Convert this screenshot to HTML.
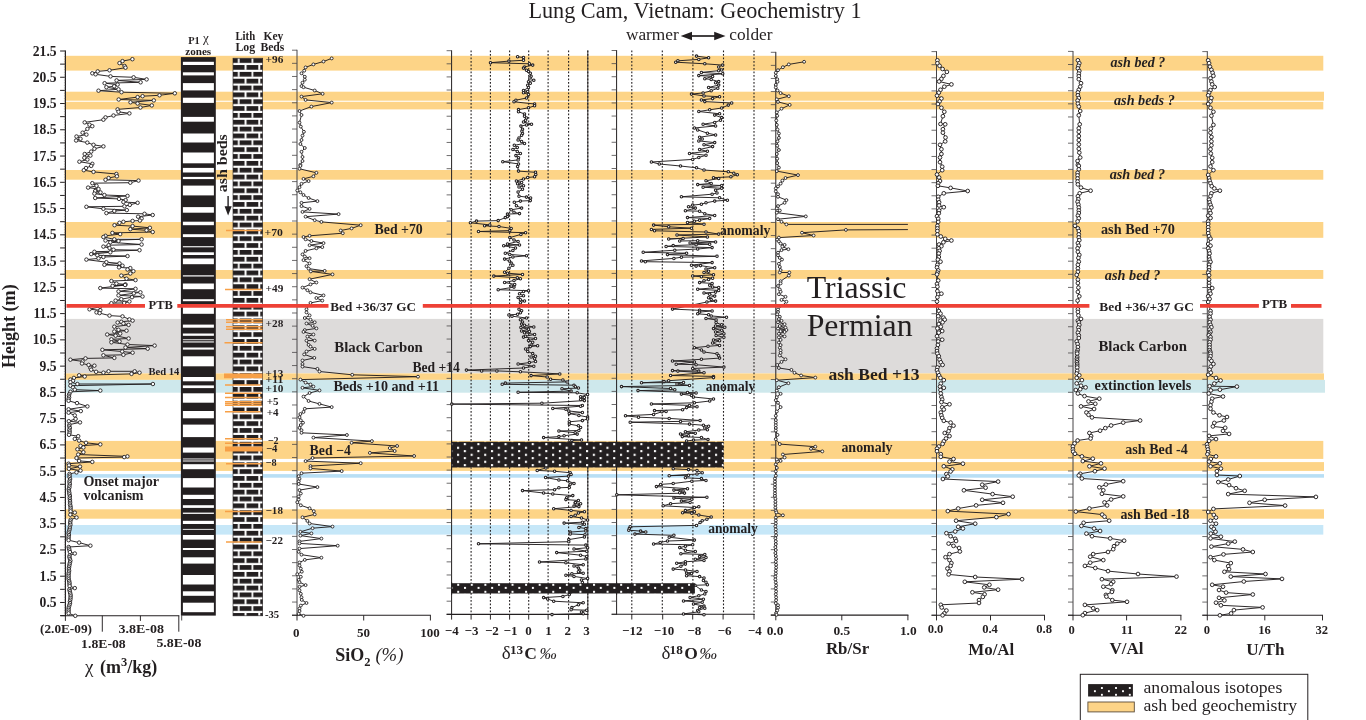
<!DOCTYPE html>
<html><head><meta charset="utf-8"><title>Lung Cam, Vietnam: Geochemistry 1</title>
<style>html,body{margin:0;padding:0;background:#fff;overflow:hidden}body{width:1366px;height:720px;font-family:"Liberation Serif",serif}</style></head>
<body>
<svg width="1366" height="720" viewBox="0 0 1366 720" style="display:block;will-change:transform;font-family:'Liberation Serif',serif">
<defs>
<pattern id="brick" patternUnits="userSpaceOnUse" x="225.85" y="58.2" width="13.75" height="13.70">
<rect x="0" y="0" width="13.75" height="13.70" fill="#231F20"/>
<rect x="0" y="4.7" width="13.75" height="2.15" fill="#fff"/>
<rect x="0" y="11.55" width="13.75" height="2.15" fill="#fff"/>
<rect x="12.0" y="0" width="1.8" height="4.75" fill="#fff"/>
<rect x="4.95" y="6.85" width="2.0" height="4.75" fill="#fff"/>
</pattern>
<pattern id="dots" patternUnits="userSpaceOnUse" x="463.8" y="443.1" width="13.58" height="7.0">
<rect x="0" y="0" width="13.58" height="7" fill="#231F20"/>
<rect x="0" y="0" width="2.1" height="2.1" fill="#fff"/>
<rect x="6.8" y="3.7" width="2.1" height="2.1" fill="#fff"/>
</pattern>
<pattern id="dots2" patternUnits="userSpaceOnUse" x="464.0" y="586.9" width="13.58" height="7.0">
<rect x="0" y="0" width="13.58" height="7" fill="#231F20"/>
<rect x="0" y="0" width="2.0" height="2.0" fill="#fff"/>
<rect x="6.8" y="3.9" width="2.0" height="2.0" fill="#fff"/>
</pattern>
<pattern id="dots3" patternUnits="userSpaceOnUse" x="1100.9" y="687.1" width="14.0" height="6.8">
<rect x="0" y="0" width="14" height="6.8" fill="#231F20"/>
<rect x="0" y="0" width="1.9" height="1.9" fill="#fff"/>
<rect x="7" y="3.3" width="1.9" height="1.9" fill="#fff"/>
</pattern>
</defs>
<rect width="1366" height="720" fill="#fff"/>
<rect x="64.7" y="318.9" width="1258.6" height="54.50" fill="#DDDBDA"/>
<rect x="64.7" y="55.8" width="1258.6" height="14.80" fill="#FDD487"/>
<rect x="64.7" y="91.7" width="1259.3" height="9.00" fill="#FDD487"/>
<rect x="64.7" y="101.8" width="1258.6" height="7.60" fill="#FDD487"/>
<rect x="64.7" y="170.0" width="1258.6" height="9.70" fill="#FDD487"/>
<rect x="64.7" y="222.0" width="1258.6" height="15.80" fill="#FDD487"/>
<rect x="64.7" y="270.0" width="1258.6" height="8.90" fill="#FDD487"/>
<rect x="64.7" y="373.4" width="1259.3" height="6.50" fill="#FDD487"/>
<rect x="64.7" y="379.9" width="1260.3" height="12.80" fill="#CEE8EC"/>
<rect x="64.7" y="440.9" width="1258.6" height="18.00" fill="#FDD487"/>
<rect x="64.7" y="462.1" width="1259.3" height="8.80" fill="#FDD487"/>
<rect x="64.7" y="474.1" width="1259.3" height="3.60" fill="#B8DFF5"/>
<rect x="64.7" y="509.3" width="1259.3" height="9.40" fill="#FDD487"/>
<rect x="64.7" y="525.0" width="1258.6" height="9.60" fill="#C6E7F8"/>
<line x1="471.1" y1="50.5" x2="471.1" y2="615" stroke="#231F20" stroke-width="1.1" stroke-dasharray="1.7 1.8"/>
<line x1="490.4" y1="50.5" x2="490.4" y2="615" stroke="#231F20" stroke-width="1.1" stroke-dasharray="1.7 1.8"/>
<line x1="509.6" y1="50.5" x2="509.6" y2="615" stroke="#231F20" stroke-width="1.1" stroke-dasharray="1.7 1.8"/>
<line x1="528.7" y1="50.5" x2="528.7" y2="615" stroke="#231F20" stroke-width="1.1" stroke-dasharray="1.7 1.8"/>
<line x1="548.1" y1="50.5" x2="548.1" y2="615" stroke="#231F20" stroke-width="1.1" stroke-dasharray="1.7 1.8"/>
<line x1="568.6" y1="50.5" x2="568.6" y2="615" stroke="#231F20" stroke-width="1.1" stroke-dasharray="1.7 1.8"/>
<line x1="587.8" y1="50.5" x2="587.8" y2="614.4" stroke="#3a3838" stroke-width="1.0"/>
<line x1="587.8" y1="50.5" x2="587.8" y2="615" stroke="#231F20" stroke-width="1.1" stroke-dasharray="1.7 1.8"/>
<line x1="631.8" y1="50.5" x2="631.8" y2="615" stroke="#231F20" stroke-width="1.1" stroke-dasharray="1.7 1.8"/>
<line x1="662.3" y1="50.5" x2="662.3" y2="615" stroke="#231F20" stroke-width="1.1" stroke-dasharray="1.7 1.8"/>
<line x1="692.9" y1="50.5" x2="692.9" y2="615" stroke="#231F20" stroke-width="1.1" stroke-dasharray="1.7 1.8"/>
<line x1="723.5" y1="50.5" x2="723.5" y2="615" stroke="#231F20" stroke-width="1.1" stroke-dasharray="1.7 1.8"/>
<line x1="754.0" y1="50.5" x2="754.0" y2="615" stroke="#231F20" stroke-width="1.1" stroke-dasharray="1.7 1.8"/>
<rect x="180.9" y="57.1" width="34.9" height="558.5" fill="#231F20"/>
<rect x="182.9" y="61.8" width="31.0" height="3.20" fill="#fff"/>
<rect x="182.9" y="72.3" width="31.0" height="3.10" fill="#fff"/>
<rect x="182.9" y="83.1" width="31.0" height="7.30" fill="#fff"/>
<rect x="182.9" y="97.7" width="31.0" height="5.20" fill="#fff"/>
<rect x="182.9" y="116.9" width="31.0" height="4.80" fill="#fff"/>
<rect x="182.9" y="133.5" width="31.0" height="9.00" fill="#fff"/>
<rect x="182.9" y="152.5" width="31.0" height="10.80" fill="#fff"/>
<rect x="182.9" y="167.9" width="31.0" height="4.60" fill="#fff"/>
<rect x="182.9" y="176.9" width="31.0" height="2.20" fill="#fff"/>
<rect x="182.9" y="185.6" width="31.0" height="9.80" fill="#fff"/>
<rect x="182.9" y="207.1" width="31.0" height="5.60" fill="#fff"/>
<rect x="182.9" y="221.7" width="31.0" height="3.50" fill="#fff"/>
<rect x="182.9" y="234.2" width="31.0" height="2.90" fill="#fff"/>
<rect x="182.9" y="246.2" width="31.0" height="1.10" fill="#fff"/>
<rect x="182.9" y="252.3" width="31.0" height="2.70" fill="#fff"/>
<rect x="182.9" y="258.5" width="31.0" height="5.70" fill="#fff"/>
<rect x="182.9" y="275.3" width="31.0" height="1.20" fill="#fff"/>
<rect x="182.9" y="283.5" width="31.0" height="5.70" fill="#fff"/>
<rect x="182.9" y="299.2" width="31.0" height="2.00" fill="#fff"/>
<rect x="182.9" y="306.5" width="31.0" height="7.30" fill="#fff"/>
<rect x="182.9" y="324.6" width="31.0" height="3.10" fill="#fff"/>
<rect x="182.9" y="333.5" width="31.0" height="2.30" fill="#fff"/>
<rect x="182.9" y="339.3" width="31.0" height="0.90" fill="#fff"/>
<rect x="182.9" y="341.4" width="31.0" height="1.10" fill="#fff"/>
<rect x="182.9" y="347.5" width="31.0" height="2.10" fill="#fff"/>
<rect x="182.9" y="356.3" width="31.0" height="10.00" fill="#fff"/>
<rect x="182.9" y="377" width="31.0" height="4.30" fill="#fff"/>
<rect x="182.9" y="385.4" width="31.0" height="2.70" fill="#fff"/>
<rect x="182.9" y="393.3" width="31.0" height="9.40" fill="#fff"/>
<rect x="182.9" y="411" width="31.0" height="7.30" fill="#fff"/>
<rect x="182.9" y="424.6" width="31.0" height="12.50" fill="#fff"/>
<rect x="182.9" y="447.5" width="31.0" height="5.10" fill="#fff"/>
<rect x="182.9" y="458.5" width="31.0" height="0.90" fill="#fff"/>
<rect x="182.9" y="460.5" width="31.0" height="1.00" fill="#fff"/>
<rect x="182.9" y="464.2" width="31.0" height="5.00" fill="#fff"/>
<rect x="182.9" y="478.1" width="31.0" height="9.40" fill="#fff"/>
<rect x="182.9" y="494.8" width="31.0" height="4.20" fill="#fff"/>
<rect x="182.9" y="505.2" width="31.0" height="2.70" fill="#fff"/>
<rect x="182.9" y="512.6" width="31.0" height="1.30" fill="#fff"/>
<rect x="182.9" y="520.8" width="31.0" height="3.20" fill="#fff"/>
<rect x="182.9" y="528.9" width="31.0" height="0.90" fill="#fff"/>
<rect x="182.9" y="535" width="31.0" height="4.60" fill="#fff"/>
<rect x="182.9" y="548" width="31.0" height="2.00" fill="#fff"/>
<rect x="182.9" y="557.3" width="31.0" height="6.30" fill="#fff"/>
<rect x="182.9" y="575" width="31.0" height="9.50" fill="#fff"/>
<rect x="182.9" y="591.3" width="31.0" height="4.50" fill="#fff"/>
<rect x="182.9" y="602.7" width="31.0" height="9.50" fill="#fff"/>
<rect x="233.0" y="58.2" width="29.7" height="557.6" fill="url(#brick)" stroke="#231F20" stroke-width="0.6"/>
<line x1="226" y1="230.4" x2="261.5" y2="230.4" stroke="#F7A047" stroke-width="1.5"/>
<line x1="225" y1="289.6" x2="261.5" y2="289.6" stroke="#F7A047" stroke-width="1.5"/>
<line x1="226" y1="319.7" x2="262.5" y2="319.7" stroke="#F7A047" stroke-width="1.5"/>
<line x1="226" y1="322.25" x2="262.5" y2="322.25" stroke="#F7A047" stroke-width="1.5"/>
<line x1="226" y1="326.7" x2="262.5" y2="326.7" stroke="#F7A047" stroke-width="1.5"/>
<line x1="226" y1="329.2" x2="262.5" y2="329.2" stroke="#F7A047" stroke-width="1.5"/>
<line x1="224.5" y1="342.7" x2="262.5" y2="342.7" stroke="#F7A047" stroke-width="1.5"/>
<line x1="224" y1="375.9" x2="262.5" y2="375.9" stroke="#F7A047" stroke-width="4.8"/>
<line x1="225" y1="385" x2="260.5" y2="385" stroke="#F7A047" stroke-width="1.5"/>
<line x1="225" y1="393.3" x2="261.5" y2="393.3" stroke="#F7A047" stroke-width="1.5"/>
<line x1="225" y1="397.5" x2="261.5" y2="397.5" stroke="#F7A047" stroke-width="1.5"/>
<line x1="225" y1="401.7" x2="261.5" y2="401.7" stroke="#F7A047" stroke-width="1.5"/>
<line x1="225" y1="403.5" x2="261.5" y2="403.5" stroke="#F7A047" stroke-width="1.5"/>
<line x1="225" y1="405.2" x2="261.5" y2="405.2" stroke="#F7A047" stroke-width="1.5"/>
<line x1="225" y1="411.7" x2="260.5" y2="411.7" stroke="#F7A047" stroke-width="1.5"/>
<line x1="225" y1="438.8" x2="261.5" y2="438.8" stroke="#F7A047" stroke-width="1.5"/>
<line x1="225" y1="443.3" x2="261.5" y2="443.3" stroke="#F7A047" stroke-width="1.5"/>
<line x1="225" y1="449.1" x2="262.5" y2="449.1" stroke="#F7A047" stroke-width="5.0"/>
<line x1="226" y1="463.8" x2="261.5" y2="463.8" stroke="#F7A047" stroke-width="1.5"/>
<line x1="225" y1="511.5" x2="261.5" y2="511.5" stroke="#F7A047" stroke-width="1.5"/>
<line x1="226" y1="542.1" x2="261.5" y2="542.1" stroke="#F7A047" stroke-width="1.5"/>
<line x1="65.4" y1="50.6" x2="65.4" y2="616.1" stroke="#231F20" stroke-width="1.2"/>
<line x1="60.1" y1="51.00" x2="65.4" y2="51.00" stroke="#231F20" stroke-width="1.0"/>
<line x1="60.1" y1="64.13" x2="65.4" y2="64.13" stroke="#231F20" stroke-width="1.0"/>
<line x1="60.1" y1="77.26" x2="65.4" y2="77.26" stroke="#231F20" stroke-width="1.0"/>
<line x1="60.1" y1="90.39" x2="65.4" y2="90.39" stroke="#231F20" stroke-width="1.0"/>
<line x1="60.1" y1="103.52" x2="65.4" y2="103.52" stroke="#231F20" stroke-width="1.0"/>
<line x1="60.1" y1="116.65" x2="65.4" y2="116.65" stroke="#231F20" stroke-width="1.0"/>
<line x1="60.1" y1="129.78" x2="65.4" y2="129.78" stroke="#231F20" stroke-width="1.0"/>
<line x1="60.1" y1="142.91" x2="65.4" y2="142.91" stroke="#231F20" stroke-width="1.0"/>
<line x1="60.1" y1="156.04" x2="65.4" y2="156.04" stroke="#231F20" stroke-width="1.0"/>
<line x1="60.1" y1="169.17" x2="65.4" y2="169.17" stroke="#231F20" stroke-width="1.0"/>
<line x1="60.1" y1="182.30" x2="65.4" y2="182.30" stroke="#231F20" stroke-width="1.0"/>
<line x1="60.1" y1="195.43" x2="65.4" y2="195.43" stroke="#231F20" stroke-width="1.0"/>
<line x1="60.1" y1="208.56" x2="65.4" y2="208.56" stroke="#231F20" stroke-width="1.0"/>
<line x1="60.1" y1="221.69" x2="65.4" y2="221.69" stroke="#231F20" stroke-width="1.0"/>
<line x1="60.1" y1="234.82" x2="65.4" y2="234.82" stroke="#231F20" stroke-width="1.0"/>
<line x1="60.1" y1="247.95" x2="65.4" y2="247.95" stroke="#231F20" stroke-width="1.0"/>
<line x1="60.1" y1="261.08" x2="65.4" y2="261.08" stroke="#231F20" stroke-width="1.0"/>
<line x1="60.1" y1="274.21" x2="65.4" y2="274.21" stroke="#231F20" stroke-width="1.0"/>
<line x1="60.1" y1="287.34" x2="65.4" y2="287.34" stroke="#231F20" stroke-width="1.0"/>
<line x1="60.1" y1="300.47" x2="65.4" y2="300.47" stroke="#231F20" stroke-width="1.0"/>
<line x1="60.1" y1="313.60" x2="65.4" y2="313.60" stroke="#231F20" stroke-width="1.0"/>
<line x1="60.1" y1="326.73" x2="65.4" y2="326.73" stroke="#231F20" stroke-width="1.0"/>
<line x1="60.1" y1="339.87" x2="65.4" y2="339.87" stroke="#231F20" stroke-width="1.0"/>
<line x1="60.1" y1="353.00" x2="65.4" y2="353.00" stroke="#231F20" stroke-width="1.0"/>
<line x1="60.1" y1="366.13" x2="65.4" y2="366.13" stroke="#231F20" stroke-width="1.0"/>
<line x1="60.1" y1="379.26" x2="65.4" y2="379.26" stroke="#231F20" stroke-width="1.0"/>
<line x1="60.1" y1="392.39" x2="65.4" y2="392.39" stroke="#231F20" stroke-width="1.0"/>
<line x1="60.1" y1="405.52" x2="65.4" y2="405.52" stroke="#231F20" stroke-width="1.0"/>
<line x1="60.1" y1="418.65" x2="65.4" y2="418.65" stroke="#231F20" stroke-width="1.0"/>
<line x1="60.1" y1="431.78" x2="65.4" y2="431.78" stroke="#231F20" stroke-width="1.0"/>
<line x1="60.1" y1="444.91" x2="65.4" y2="444.91" stroke="#231F20" stroke-width="1.0"/>
<line x1="60.1" y1="458.04" x2="65.4" y2="458.04" stroke="#231F20" stroke-width="1.0"/>
<line x1="60.1" y1="471.17" x2="65.4" y2="471.17" stroke="#231F20" stroke-width="1.0"/>
<line x1="60.1" y1="484.30" x2="65.4" y2="484.30" stroke="#231F20" stroke-width="1.0"/>
<line x1="60.1" y1="497.43" x2="65.4" y2="497.43" stroke="#231F20" stroke-width="1.0"/>
<line x1="60.1" y1="510.56" x2="65.4" y2="510.56" stroke="#231F20" stroke-width="1.0"/>
<line x1="60.1" y1="523.69" x2="65.4" y2="523.69" stroke="#231F20" stroke-width="1.0"/>
<line x1="60.1" y1="536.82" x2="65.4" y2="536.82" stroke="#231F20" stroke-width="1.0"/>
<line x1="60.1" y1="549.95" x2="65.4" y2="549.95" stroke="#231F20" stroke-width="1.0"/>
<line x1="60.1" y1="563.08" x2="65.4" y2="563.08" stroke="#231F20" stroke-width="1.0"/>
<line x1="60.1" y1="576.21" x2="65.4" y2="576.21" stroke="#231F20" stroke-width="1.0"/>
<line x1="60.1" y1="589.34" x2="65.4" y2="589.34" stroke="#231F20" stroke-width="1.0"/>
<line x1="60.1" y1="602.47" x2="65.4" y2="602.47" stroke="#231F20" stroke-width="1.0"/>
<line x1="60.1" y1="615.60" x2="65.4" y2="615.60" stroke="#231F20" stroke-width="1.0"/>
<line x1="63.9" y1="615.62" x2="65.4" y2="615.62" stroke="#777" stroke-width="0.45"/>
<line x1="63.9" y1="613.00" x2="65.4" y2="613.00" stroke="#777" stroke-width="0.45"/>
<line x1="63.9" y1="610.38" x2="65.4" y2="610.38" stroke="#777" stroke-width="0.45"/>
<line x1="63.9" y1="607.75" x2="65.4" y2="607.75" stroke="#777" stroke-width="0.45"/>
<line x1="63.9" y1="605.12" x2="65.4" y2="605.12" stroke="#777" stroke-width="0.45"/>
<line x1="63.9" y1="602.50" x2="65.4" y2="602.50" stroke="#777" stroke-width="0.45"/>
<line x1="63.9" y1="599.88" x2="65.4" y2="599.88" stroke="#777" stroke-width="0.45"/>
<line x1="63.9" y1="597.25" x2="65.4" y2="597.25" stroke="#777" stroke-width="0.45"/>
<line x1="63.9" y1="594.62" x2="65.4" y2="594.62" stroke="#777" stroke-width="0.45"/>
<line x1="63.9" y1="592.00" x2="65.4" y2="592.00" stroke="#777" stroke-width="0.45"/>
<line x1="63.9" y1="589.38" x2="65.4" y2="589.38" stroke="#777" stroke-width="0.45"/>
<line x1="63.9" y1="586.75" x2="65.4" y2="586.75" stroke="#777" stroke-width="0.45"/>
<line x1="63.9" y1="584.12" x2="65.4" y2="584.12" stroke="#777" stroke-width="0.45"/>
<line x1="63.9" y1="581.50" x2="65.4" y2="581.50" stroke="#777" stroke-width="0.45"/>
<line x1="63.9" y1="578.88" x2="65.4" y2="578.88" stroke="#777" stroke-width="0.45"/>
<line x1="63.9" y1="576.25" x2="65.4" y2="576.25" stroke="#777" stroke-width="0.45"/>
<line x1="63.9" y1="573.62" x2="65.4" y2="573.62" stroke="#777" stroke-width="0.45"/>
<line x1="63.9" y1="571.00" x2="65.4" y2="571.00" stroke="#777" stroke-width="0.45"/>
<line x1="63.9" y1="568.38" x2="65.4" y2="568.38" stroke="#777" stroke-width="0.45"/>
<line x1="63.9" y1="565.75" x2="65.4" y2="565.75" stroke="#777" stroke-width="0.45"/>
<line x1="63.9" y1="563.12" x2="65.4" y2="563.12" stroke="#777" stroke-width="0.45"/>
<line x1="63.9" y1="560.50" x2="65.4" y2="560.50" stroke="#777" stroke-width="0.45"/>
<line x1="63.9" y1="557.88" x2="65.4" y2="557.88" stroke="#777" stroke-width="0.45"/>
<line x1="63.9" y1="555.25" x2="65.4" y2="555.25" stroke="#777" stroke-width="0.45"/>
<line x1="63.9" y1="552.62" x2="65.4" y2="552.62" stroke="#777" stroke-width="0.45"/>
<line x1="63.9" y1="550.00" x2="65.4" y2="550.00" stroke="#777" stroke-width="0.45"/>
<line x1="63.9" y1="547.38" x2="65.4" y2="547.38" stroke="#777" stroke-width="0.45"/>
<line x1="63.9" y1="544.75" x2="65.4" y2="544.75" stroke="#777" stroke-width="0.45"/>
<line x1="63.9" y1="542.12" x2="65.4" y2="542.12" stroke="#777" stroke-width="0.45"/>
<line x1="63.9" y1="539.50" x2="65.4" y2="539.50" stroke="#777" stroke-width="0.45"/>
<line x1="63.9" y1="536.88" x2="65.4" y2="536.88" stroke="#777" stroke-width="0.45"/>
<line x1="63.9" y1="534.25" x2="65.4" y2="534.25" stroke="#777" stroke-width="0.45"/>
<line x1="63.9" y1="531.62" x2="65.4" y2="531.62" stroke="#777" stroke-width="0.45"/>
<line x1="63.9" y1="529.00" x2="65.4" y2="529.00" stroke="#777" stroke-width="0.45"/>
<line x1="63.9" y1="526.38" x2="65.4" y2="526.38" stroke="#777" stroke-width="0.45"/>
<line x1="63.9" y1="523.75" x2="65.4" y2="523.75" stroke="#777" stroke-width="0.45"/>
<line x1="63.9" y1="521.12" x2="65.4" y2="521.12" stroke="#777" stroke-width="0.45"/>
<line x1="63.9" y1="518.50" x2="65.4" y2="518.50" stroke="#777" stroke-width="0.45"/>
<line x1="63.9" y1="515.88" x2="65.4" y2="515.88" stroke="#777" stroke-width="0.45"/>
<line x1="63.9" y1="513.25" x2="65.4" y2="513.25" stroke="#777" stroke-width="0.45"/>
<line x1="63.9" y1="510.62" x2="65.4" y2="510.62" stroke="#777" stroke-width="0.45"/>
<line x1="63.9" y1="508.00" x2="65.4" y2="508.00" stroke="#777" stroke-width="0.45"/>
<line x1="63.9" y1="505.38" x2="65.4" y2="505.38" stroke="#777" stroke-width="0.45"/>
<line x1="63.9" y1="502.75" x2="65.4" y2="502.75" stroke="#777" stroke-width="0.45"/>
<line x1="63.9" y1="500.13" x2="65.4" y2="500.13" stroke="#777" stroke-width="0.45"/>
<line x1="63.9" y1="497.50" x2="65.4" y2="497.50" stroke="#777" stroke-width="0.45"/>
<line x1="63.9" y1="494.87" x2="65.4" y2="494.87" stroke="#777" stroke-width="0.45"/>
<line x1="63.9" y1="492.25" x2="65.4" y2="492.25" stroke="#777" stroke-width="0.45"/>
<line x1="63.9" y1="489.62" x2="65.4" y2="489.62" stroke="#777" stroke-width="0.45"/>
<line x1="63.9" y1="487.00" x2="65.4" y2="487.00" stroke="#777" stroke-width="0.45"/>
<line x1="63.9" y1="484.38" x2="65.4" y2="484.38" stroke="#777" stroke-width="0.45"/>
<line x1="63.9" y1="481.75" x2="65.4" y2="481.75" stroke="#777" stroke-width="0.45"/>
<line x1="63.9" y1="479.12" x2="65.4" y2="479.12" stroke="#777" stroke-width="0.45"/>
<line x1="63.9" y1="476.50" x2="65.4" y2="476.50" stroke="#777" stroke-width="0.45"/>
<line x1="63.9" y1="473.88" x2="65.4" y2="473.88" stroke="#777" stroke-width="0.45"/>
<line x1="63.9" y1="471.25" x2="65.4" y2="471.25" stroke="#777" stroke-width="0.45"/>
<line x1="63.9" y1="468.62" x2="65.4" y2="468.62" stroke="#777" stroke-width="0.45"/>
<line x1="63.9" y1="466.00" x2="65.4" y2="466.00" stroke="#777" stroke-width="0.45"/>
<line x1="63.9" y1="463.38" x2="65.4" y2="463.38" stroke="#777" stroke-width="0.45"/>
<line x1="63.9" y1="460.75" x2="65.4" y2="460.75" stroke="#777" stroke-width="0.45"/>
<line x1="63.9" y1="458.12" x2="65.4" y2="458.12" stroke="#777" stroke-width="0.45"/>
<line x1="63.9" y1="455.50" x2="65.4" y2="455.50" stroke="#777" stroke-width="0.45"/>
<line x1="63.9" y1="452.88" x2="65.4" y2="452.88" stroke="#777" stroke-width="0.45"/>
<line x1="63.9" y1="450.25" x2="65.4" y2="450.25" stroke="#777" stroke-width="0.45"/>
<line x1="63.9" y1="447.62" x2="65.4" y2="447.62" stroke="#777" stroke-width="0.45"/>
<line x1="63.9" y1="445.00" x2="65.4" y2="445.00" stroke="#777" stroke-width="0.45"/>
<line x1="63.9" y1="442.38" x2="65.4" y2="442.38" stroke="#777" stroke-width="0.45"/>
<line x1="63.9" y1="439.75" x2="65.4" y2="439.75" stroke="#777" stroke-width="0.45"/>
<line x1="63.9" y1="437.12" x2="65.4" y2="437.12" stroke="#777" stroke-width="0.45"/>
<line x1="63.9" y1="434.50" x2="65.4" y2="434.50" stroke="#777" stroke-width="0.45"/>
<line x1="63.9" y1="431.88" x2="65.4" y2="431.88" stroke="#777" stroke-width="0.45"/>
<line x1="63.9" y1="429.25" x2="65.4" y2="429.25" stroke="#777" stroke-width="0.45"/>
<line x1="63.9" y1="426.62" x2="65.4" y2="426.62" stroke="#777" stroke-width="0.45"/>
<line x1="63.9" y1="424.00" x2="65.4" y2="424.00" stroke="#777" stroke-width="0.45"/>
<line x1="63.9" y1="421.38" x2="65.4" y2="421.38" stroke="#777" stroke-width="0.45"/>
<line x1="63.9" y1="418.75" x2="65.4" y2="418.75" stroke="#777" stroke-width="0.45"/>
<line x1="63.9" y1="416.12" x2="65.4" y2="416.12" stroke="#777" stroke-width="0.45"/>
<line x1="63.9" y1="413.50" x2="65.4" y2="413.50" stroke="#777" stroke-width="0.45"/>
<line x1="63.9" y1="410.88" x2="65.4" y2="410.88" stroke="#777" stroke-width="0.45"/>
<line x1="63.9" y1="408.25" x2="65.4" y2="408.25" stroke="#777" stroke-width="0.45"/>
<line x1="63.9" y1="405.62" x2="65.4" y2="405.62" stroke="#777" stroke-width="0.45"/>
<line x1="63.9" y1="403.00" x2="65.4" y2="403.00" stroke="#777" stroke-width="0.45"/>
<line x1="63.9" y1="400.38" x2="65.4" y2="400.38" stroke="#777" stroke-width="0.45"/>
<line x1="63.9" y1="397.75" x2="65.4" y2="397.75" stroke="#777" stroke-width="0.45"/>
<line x1="63.9" y1="395.12" x2="65.4" y2="395.12" stroke="#777" stroke-width="0.45"/>
<line x1="63.9" y1="392.50" x2="65.4" y2="392.50" stroke="#777" stroke-width="0.45"/>
<line x1="63.9" y1="389.88" x2="65.4" y2="389.88" stroke="#777" stroke-width="0.45"/>
<line x1="63.9" y1="387.25" x2="65.4" y2="387.25" stroke="#777" stroke-width="0.45"/>
<line x1="63.9" y1="384.62" x2="65.4" y2="384.62" stroke="#777" stroke-width="0.45"/>
<line x1="63.9" y1="382.00" x2="65.4" y2="382.00" stroke="#777" stroke-width="0.45"/>
<line x1="63.9" y1="379.38" x2="65.4" y2="379.38" stroke="#777" stroke-width="0.45"/>
<line x1="63.9" y1="376.75" x2="65.4" y2="376.75" stroke="#777" stroke-width="0.45"/>
<line x1="63.9" y1="374.12" x2="65.4" y2="374.12" stroke="#777" stroke-width="0.45"/>
<line x1="63.9" y1="371.50" x2="65.4" y2="371.50" stroke="#777" stroke-width="0.45"/>
<line x1="63.9" y1="368.88" x2="65.4" y2="368.88" stroke="#777" stroke-width="0.45"/>
<line x1="63.9" y1="366.25" x2="65.4" y2="366.25" stroke="#777" stroke-width="0.45"/>
<line x1="63.9" y1="363.62" x2="65.4" y2="363.62" stroke="#777" stroke-width="0.45"/>
<line x1="63.9" y1="361.00" x2="65.4" y2="361.00" stroke="#777" stroke-width="0.45"/>
<line x1="63.9" y1="358.38" x2="65.4" y2="358.38" stroke="#777" stroke-width="0.45"/>
<line x1="63.9" y1="355.75" x2="65.4" y2="355.75" stroke="#777" stroke-width="0.45"/>
<line x1="63.9" y1="353.12" x2="65.4" y2="353.12" stroke="#777" stroke-width="0.45"/>
<line x1="63.9" y1="350.50" x2="65.4" y2="350.50" stroke="#777" stroke-width="0.45"/>
<line x1="63.9" y1="347.88" x2="65.4" y2="347.88" stroke="#777" stroke-width="0.45"/>
<line x1="63.9" y1="345.25" x2="65.4" y2="345.25" stroke="#777" stroke-width="0.45"/>
<line x1="63.9" y1="342.62" x2="65.4" y2="342.62" stroke="#777" stroke-width="0.45"/>
<line x1="63.9" y1="340.00" x2="65.4" y2="340.00" stroke="#777" stroke-width="0.45"/>
<line x1="63.9" y1="337.38" x2="65.4" y2="337.38" stroke="#777" stroke-width="0.45"/>
<line x1="63.9" y1="334.75" x2="65.4" y2="334.75" stroke="#777" stroke-width="0.45"/>
<line x1="63.9" y1="332.12" x2="65.4" y2="332.12" stroke="#777" stroke-width="0.45"/>
<line x1="63.9" y1="329.50" x2="65.4" y2="329.50" stroke="#777" stroke-width="0.45"/>
<line x1="63.9" y1="326.88" x2="65.4" y2="326.88" stroke="#777" stroke-width="0.45"/>
<line x1="63.9" y1="324.25" x2="65.4" y2="324.25" stroke="#777" stroke-width="0.45"/>
<line x1="63.9" y1="321.62" x2="65.4" y2="321.62" stroke="#777" stroke-width="0.45"/>
<line x1="63.9" y1="319.00" x2="65.4" y2="319.00" stroke="#777" stroke-width="0.45"/>
<line x1="63.9" y1="316.38" x2="65.4" y2="316.38" stroke="#777" stroke-width="0.45"/>
<line x1="63.9" y1="313.75" x2="65.4" y2="313.75" stroke="#777" stroke-width="0.45"/>
<line x1="63.9" y1="311.12" x2="65.4" y2="311.12" stroke="#777" stroke-width="0.45"/>
<line x1="63.9" y1="308.50" x2="65.4" y2="308.50" stroke="#777" stroke-width="0.45"/>
<line x1="63.9" y1="305.88" x2="65.4" y2="305.88" stroke="#777" stroke-width="0.45"/>
<line x1="63.9" y1="303.25" x2="65.4" y2="303.25" stroke="#777" stroke-width="0.45"/>
<line x1="63.9" y1="300.62" x2="65.4" y2="300.62" stroke="#777" stroke-width="0.45"/>
<line x1="63.9" y1="298.00" x2="65.4" y2="298.00" stroke="#777" stroke-width="0.45"/>
<line x1="63.9" y1="295.38" x2="65.4" y2="295.38" stroke="#777" stroke-width="0.45"/>
<line x1="63.9" y1="292.75" x2="65.4" y2="292.75" stroke="#777" stroke-width="0.45"/>
<line x1="63.9" y1="290.12" x2="65.4" y2="290.12" stroke="#777" stroke-width="0.45"/>
<line x1="63.9" y1="287.50" x2="65.4" y2="287.50" stroke="#777" stroke-width="0.45"/>
<line x1="63.9" y1="284.88" x2="65.4" y2="284.88" stroke="#777" stroke-width="0.45"/>
<line x1="63.9" y1="282.25" x2="65.4" y2="282.25" stroke="#777" stroke-width="0.45"/>
<line x1="63.9" y1="279.62" x2="65.4" y2="279.62" stroke="#777" stroke-width="0.45"/>
<line x1="63.9" y1="277.00" x2="65.4" y2="277.00" stroke="#777" stroke-width="0.45"/>
<line x1="63.9" y1="274.38" x2="65.4" y2="274.38" stroke="#777" stroke-width="0.45"/>
<line x1="63.9" y1="271.75" x2="65.4" y2="271.75" stroke="#777" stroke-width="0.45"/>
<line x1="63.9" y1="269.12" x2="65.4" y2="269.12" stroke="#777" stroke-width="0.45"/>
<line x1="63.9" y1="266.50" x2="65.4" y2="266.50" stroke="#777" stroke-width="0.45"/>
<line x1="63.9" y1="263.88" x2="65.4" y2="263.88" stroke="#777" stroke-width="0.45"/>
<line x1="63.9" y1="261.25" x2="65.4" y2="261.25" stroke="#777" stroke-width="0.45"/>
<line x1="63.9" y1="258.62" x2="65.4" y2="258.62" stroke="#777" stroke-width="0.45"/>
<line x1="63.9" y1="256.00" x2="65.4" y2="256.00" stroke="#777" stroke-width="0.45"/>
<line x1="63.9" y1="253.37" x2="65.4" y2="253.37" stroke="#777" stroke-width="0.45"/>
<line x1="63.9" y1="250.75" x2="65.4" y2="250.75" stroke="#777" stroke-width="0.45"/>
<line x1="63.9" y1="248.12" x2="65.4" y2="248.12" stroke="#777" stroke-width="0.45"/>
<line x1="63.9" y1="245.50" x2="65.4" y2="245.50" stroke="#777" stroke-width="0.45"/>
<line x1="63.9" y1="242.88" x2="65.4" y2="242.88" stroke="#777" stroke-width="0.45"/>
<line x1="63.9" y1="240.25" x2="65.4" y2="240.25" stroke="#777" stroke-width="0.45"/>
<line x1="63.9" y1="237.62" x2="65.4" y2="237.62" stroke="#777" stroke-width="0.45"/>
<line x1="63.9" y1="235.00" x2="65.4" y2="235.00" stroke="#777" stroke-width="0.45"/>
<line x1="63.9" y1="232.38" x2="65.4" y2="232.38" stroke="#777" stroke-width="0.45"/>
<line x1="63.9" y1="229.75" x2="65.4" y2="229.75" stroke="#777" stroke-width="0.45"/>
<line x1="63.9" y1="227.12" x2="65.4" y2="227.12" stroke="#777" stroke-width="0.45"/>
<line x1="63.9" y1="224.50" x2="65.4" y2="224.50" stroke="#777" stroke-width="0.45"/>
<line x1="63.9" y1="221.88" x2="65.4" y2="221.88" stroke="#777" stroke-width="0.45"/>
<line x1="63.9" y1="219.25" x2="65.4" y2="219.25" stroke="#777" stroke-width="0.45"/>
<line x1="63.9" y1="216.63" x2="65.4" y2="216.63" stroke="#777" stroke-width="0.45"/>
<line x1="63.9" y1="214.00" x2="65.4" y2="214.00" stroke="#777" stroke-width="0.45"/>
<line x1="63.9" y1="211.38" x2="65.4" y2="211.38" stroke="#777" stroke-width="0.45"/>
<line x1="63.9" y1="208.75" x2="65.4" y2="208.75" stroke="#777" stroke-width="0.45"/>
<line x1="63.9" y1="206.12" x2="65.4" y2="206.12" stroke="#777" stroke-width="0.45"/>
<line x1="63.9" y1="203.50" x2="65.4" y2="203.50" stroke="#777" stroke-width="0.45"/>
<line x1="63.9" y1="200.87" x2="65.4" y2="200.87" stroke="#777" stroke-width="0.45"/>
<line x1="63.9" y1="198.25" x2="65.4" y2="198.25" stroke="#777" stroke-width="0.45"/>
<line x1="63.9" y1="195.62" x2="65.4" y2="195.62" stroke="#777" stroke-width="0.45"/>
<line x1="63.9" y1="193.00" x2="65.4" y2="193.00" stroke="#777" stroke-width="0.45"/>
<line x1="63.9" y1="190.38" x2="65.4" y2="190.38" stroke="#777" stroke-width="0.45"/>
<line x1="63.9" y1="187.75" x2="65.4" y2="187.75" stroke="#777" stroke-width="0.45"/>
<line x1="63.9" y1="185.13" x2="65.4" y2="185.13" stroke="#777" stroke-width="0.45"/>
<line x1="63.9" y1="182.50" x2="65.4" y2="182.50" stroke="#777" stroke-width="0.45"/>
<line x1="63.9" y1="179.87" x2="65.4" y2="179.87" stroke="#777" stroke-width="0.45"/>
<line x1="63.9" y1="177.25" x2="65.4" y2="177.25" stroke="#777" stroke-width="0.45"/>
<line x1="63.9" y1="174.62" x2="65.4" y2="174.62" stroke="#777" stroke-width="0.45"/>
<line x1="63.9" y1="172.00" x2="65.4" y2="172.00" stroke="#777" stroke-width="0.45"/>
<line x1="63.9" y1="169.38" x2="65.4" y2="169.38" stroke="#777" stroke-width="0.45"/>
<line x1="63.9" y1="166.75" x2="65.4" y2="166.75" stroke="#777" stroke-width="0.45"/>
<line x1="63.9" y1="164.12" x2="65.4" y2="164.12" stroke="#777" stroke-width="0.45"/>
<line x1="63.9" y1="161.50" x2="65.4" y2="161.50" stroke="#777" stroke-width="0.45"/>
<line x1="63.9" y1="158.88" x2="65.4" y2="158.88" stroke="#777" stroke-width="0.45"/>
<line x1="63.9" y1="156.25" x2="65.4" y2="156.25" stroke="#777" stroke-width="0.45"/>
<line x1="63.9" y1="153.62" x2="65.4" y2="153.62" stroke="#777" stroke-width="0.45"/>
<line x1="63.9" y1="151.00" x2="65.4" y2="151.00" stroke="#777" stroke-width="0.45"/>
<line x1="63.9" y1="148.38" x2="65.4" y2="148.38" stroke="#777" stroke-width="0.45"/>
<line x1="63.9" y1="145.75" x2="65.4" y2="145.75" stroke="#777" stroke-width="0.45"/>
<line x1="63.9" y1="143.12" x2="65.4" y2="143.12" stroke="#777" stroke-width="0.45"/>
<line x1="63.9" y1="140.50" x2="65.4" y2="140.50" stroke="#777" stroke-width="0.45"/>
<line x1="63.9" y1="137.88" x2="65.4" y2="137.88" stroke="#777" stroke-width="0.45"/>
<line x1="63.9" y1="135.25" x2="65.4" y2="135.25" stroke="#777" stroke-width="0.45"/>
<line x1="63.9" y1="132.63" x2="65.4" y2="132.63" stroke="#777" stroke-width="0.45"/>
<line x1="63.9" y1="130.00" x2="65.4" y2="130.00" stroke="#777" stroke-width="0.45"/>
<line x1="63.9" y1="127.37" x2="65.4" y2="127.37" stroke="#777" stroke-width="0.45"/>
<line x1="63.9" y1="124.75" x2="65.4" y2="124.75" stroke="#777" stroke-width="0.45"/>
<line x1="63.9" y1="122.12" x2="65.4" y2="122.12" stroke="#777" stroke-width="0.45"/>
<line x1="63.9" y1="119.50" x2="65.4" y2="119.50" stroke="#777" stroke-width="0.45"/>
<line x1="63.9" y1="116.88" x2="65.4" y2="116.88" stroke="#777" stroke-width="0.45"/>
<line x1="63.9" y1="114.25" x2="65.4" y2="114.25" stroke="#777" stroke-width="0.45"/>
<line x1="63.9" y1="111.63" x2="65.4" y2="111.63" stroke="#777" stroke-width="0.45"/>
<line x1="63.9" y1="109.00" x2="65.4" y2="109.00" stroke="#777" stroke-width="0.45"/>
<line x1="63.9" y1="106.38" x2="65.4" y2="106.38" stroke="#777" stroke-width="0.45"/>
<line x1="63.9" y1="103.75" x2="65.4" y2="103.75" stroke="#777" stroke-width="0.45"/>
<line x1="63.9" y1="101.12" x2="65.4" y2="101.12" stroke="#777" stroke-width="0.45"/>
<line x1="63.9" y1="98.50" x2="65.4" y2="98.50" stroke="#777" stroke-width="0.45"/>
<line x1="63.9" y1="95.87" x2="65.4" y2="95.87" stroke="#777" stroke-width="0.45"/>
<line x1="63.9" y1="93.25" x2="65.4" y2="93.25" stroke="#777" stroke-width="0.45"/>
<line x1="63.9" y1="90.62" x2="65.4" y2="90.62" stroke="#777" stroke-width="0.45"/>
<line x1="63.9" y1="88.00" x2="65.4" y2="88.00" stroke="#777" stroke-width="0.45"/>
<line x1="63.9" y1="85.38" x2="65.4" y2="85.38" stroke="#777" stroke-width="0.45"/>
<line x1="63.9" y1="82.75" x2="65.4" y2="82.75" stroke="#777" stroke-width="0.45"/>
<line x1="63.9" y1="80.13" x2="65.4" y2="80.13" stroke="#777" stroke-width="0.45"/>
<line x1="63.9" y1="77.50" x2="65.4" y2="77.50" stroke="#777" stroke-width="0.45"/>
<line x1="63.9" y1="74.87" x2="65.4" y2="74.87" stroke="#777" stroke-width="0.45"/>
<line x1="63.9" y1="72.25" x2="65.4" y2="72.25" stroke="#777" stroke-width="0.45"/>
<line x1="63.9" y1="69.62" x2="65.4" y2="69.62" stroke="#777" stroke-width="0.45"/>
<line x1="63.9" y1="67.00" x2="65.4" y2="67.00" stroke="#777" stroke-width="0.45"/>
<line x1="63.9" y1="64.38" x2="65.4" y2="64.38" stroke="#777" stroke-width="0.45"/>
<line x1="63.9" y1="61.75" x2="65.4" y2="61.75" stroke="#777" stroke-width="0.45"/>
<line x1="63.9" y1="59.13" x2="65.4" y2="59.13" stroke="#777" stroke-width="0.45"/>
<line x1="63.9" y1="56.50" x2="65.4" y2="56.50" stroke="#777" stroke-width="0.45"/>
<line x1="63.9" y1="53.88" x2="65.4" y2="53.88" stroke="#777" stroke-width="0.45"/>
<line x1="63.9" y1="51.25" x2="65.4" y2="51.25" stroke="#777" stroke-width="0.45"/>
<line x1="60.400000000000006" y1="615.7" x2="179.3" y2="615.7" stroke="#231F20" stroke-width="1.1"/>
<line x1="65.4" y1="615.7" x2="65.4" y2="620.9000000000001" stroke="#231F20" stroke-width="0.95"/>
<line x1="102.3" y1="615.7" x2="102.3" y2="631.7" stroke="#231F20" stroke-width="0.95"/>
<line x1="140.4" y1="615.7" x2="140.4" y2="620.9000000000001" stroke="#231F20" stroke-width="0.95"/>
<line x1="178.8" y1="615.7" x2="178.8" y2="631.7" stroke="#231F20" stroke-width="0.95"/>
<line x1="181.7" y1="615.3" x2="181.7" y2="620.5" stroke="#231F20" stroke-width="0.8"/>
<line x1="297.0" y1="49.800000000000004" x2="297.0" y2="615.7" stroke="#474546" stroke-width="1.0"/>
<line x1="292.0" y1="50.20" x2="297.0" y2="50.20" stroke="#4a4849" stroke-width="0.8"/>
<line x1="292.0" y1="63.34" x2="297.0" y2="63.34" stroke="#4a4849" stroke-width="0.8"/>
<line x1="292.0" y1="76.48" x2="297.0" y2="76.48" stroke="#4a4849" stroke-width="0.8"/>
<line x1="292.0" y1="89.62" x2="297.0" y2="89.62" stroke="#4a4849" stroke-width="0.8"/>
<line x1="292.0" y1="102.76" x2="297.0" y2="102.76" stroke="#4a4849" stroke-width="0.8"/>
<line x1="292.0" y1="115.90" x2="297.0" y2="115.90" stroke="#4a4849" stroke-width="0.8"/>
<line x1="292.0" y1="129.04" x2="297.0" y2="129.04" stroke="#4a4849" stroke-width="0.8"/>
<line x1="292.0" y1="142.18" x2="297.0" y2="142.18" stroke="#4a4849" stroke-width="0.8"/>
<line x1="292.0" y1="155.32" x2="297.0" y2="155.32" stroke="#4a4849" stroke-width="0.8"/>
<line x1="292.0" y1="168.46" x2="297.0" y2="168.46" stroke="#4a4849" stroke-width="0.8"/>
<line x1="292.0" y1="181.60" x2="297.0" y2="181.60" stroke="#4a4849" stroke-width="0.8"/>
<line x1="292.0" y1="194.73" x2="297.0" y2="194.73" stroke="#4a4849" stroke-width="0.8"/>
<line x1="292.0" y1="207.87" x2="297.0" y2="207.87" stroke="#4a4849" stroke-width="0.8"/>
<line x1="292.0" y1="221.01" x2="297.0" y2="221.01" stroke="#4a4849" stroke-width="0.8"/>
<line x1="292.0" y1="234.15" x2="297.0" y2="234.15" stroke="#4a4849" stroke-width="0.8"/>
<line x1="292.0" y1="247.29" x2="297.0" y2="247.29" stroke="#4a4849" stroke-width="0.8"/>
<line x1="292.0" y1="260.43" x2="297.0" y2="260.43" stroke="#4a4849" stroke-width="0.8"/>
<line x1="292.0" y1="273.57" x2="297.0" y2="273.57" stroke="#4a4849" stroke-width="0.8"/>
<line x1="292.0" y1="286.71" x2="297.0" y2="286.71" stroke="#4a4849" stroke-width="0.8"/>
<line x1="292.0" y1="299.85" x2="297.0" y2="299.85" stroke="#4a4849" stroke-width="0.8"/>
<line x1="292.0" y1="312.99" x2="297.0" y2="312.99" stroke="#4a4849" stroke-width="0.8"/>
<line x1="292.0" y1="326.13" x2="297.0" y2="326.13" stroke="#4a4849" stroke-width="0.8"/>
<line x1="292.0" y1="339.27" x2="297.0" y2="339.27" stroke="#4a4849" stroke-width="0.8"/>
<line x1="292.0" y1="352.41" x2="297.0" y2="352.41" stroke="#4a4849" stroke-width="0.8"/>
<line x1="292.0" y1="365.55" x2="297.0" y2="365.55" stroke="#4a4849" stroke-width="0.8"/>
<line x1="292.0" y1="378.69" x2="297.0" y2="378.69" stroke="#4a4849" stroke-width="0.8"/>
<line x1="292.0" y1="391.83" x2="297.0" y2="391.83" stroke="#4a4849" stroke-width="0.8"/>
<line x1="292.0" y1="404.97" x2="297.0" y2="404.97" stroke="#4a4849" stroke-width="0.8"/>
<line x1="292.0" y1="418.11" x2="297.0" y2="418.11" stroke="#4a4849" stroke-width="0.8"/>
<line x1="292.0" y1="431.25" x2="297.0" y2="431.25" stroke="#4a4849" stroke-width="0.8"/>
<line x1="292.0" y1="444.39" x2="297.0" y2="444.39" stroke="#4a4849" stroke-width="0.8"/>
<line x1="292.0" y1="457.53" x2="297.0" y2="457.53" stroke="#4a4849" stroke-width="0.8"/>
<line x1="292.0" y1="470.67" x2="297.0" y2="470.67" stroke="#4a4849" stroke-width="0.8"/>
<line x1="292.0" y1="483.80" x2="297.0" y2="483.80" stroke="#4a4849" stroke-width="0.8"/>
<line x1="292.0" y1="496.94" x2="297.0" y2="496.94" stroke="#4a4849" stroke-width="0.8"/>
<line x1="292.0" y1="510.08" x2="297.0" y2="510.08" stroke="#4a4849" stroke-width="0.8"/>
<line x1="292.0" y1="523.22" x2="297.0" y2="523.22" stroke="#4a4849" stroke-width="0.8"/>
<line x1="292.0" y1="536.36" x2="297.0" y2="536.36" stroke="#4a4849" stroke-width="0.8"/>
<line x1="292.0" y1="549.50" x2="297.0" y2="549.50" stroke="#4a4849" stroke-width="0.8"/>
<line x1="292.0" y1="562.64" x2="297.0" y2="562.64" stroke="#4a4849" stroke-width="0.8"/>
<line x1="292.0" y1="575.78" x2="297.0" y2="575.78" stroke="#4a4849" stroke-width="0.8"/>
<line x1="292.0" y1="588.92" x2="297.0" y2="588.92" stroke="#4a4849" stroke-width="0.8"/>
<line x1="292.0" y1="602.06" x2="297.0" y2="602.06" stroke="#4a4849" stroke-width="0.8"/>
<line x1="292.0" y1="615.20" x2="297.0" y2="615.20" stroke="#4a4849" stroke-width="0.8"/>
<line x1="451.6" y1="50.300000000000004" x2="451.6" y2="614.8" stroke="#231F20" stroke-width="1.0"/>
<line x1="446.6" y1="50.70" x2="451.6" y2="50.70" stroke="#4a4849" stroke-width="0.8"/>
<line x1="446.6" y1="63.81" x2="451.6" y2="63.81" stroke="#4a4849" stroke-width="0.8"/>
<line x1="446.6" y1="76.91" x2="451.6" y2="76.91" stroke="#4a4849" stroke-width="0.8"/>
<line x1="446.6" y1="90.02" x2="451.6" y2="90.02" stroke="#4a4849" stroke-width="0.8"/>
<line x1="446.6" y1="103.13" x2="451.6" y2="103.13" stroke="#4a4849" stroke-width="0.8"/>
<line x1="446.6" y1="116.23" x2="451.6" y2="116.23" stroke="#4a4849" stroke-width="0.8"/>
<line x1="446.6" y1="129.34" x2="451.6" y2="129.34" stroke="#4a4849" stroke-width="0.8"/>
<line x1="446.6" y1="142.45" x2="451.6" y2="142.45" stroke="#4a4849" stroke-width="0.8"/>
<line x1="446.6" y1="155.56" x2="451.6" y2="155.56" stroke="#4a4849" stroke-width="0.8"/>
<line x1="446.6" y1="168.66" x2="451.6" y2="168.66" stroke="#4a4849" stroke-width="0.8"/>
<line x1="446.6" y1="181.77" x2="451.6" y2="181.77" stroke="#4a4849" stroke-width="0.8"/>
<line x1="446.6" y1="194.88" x2="451.6" y2="194.88" stroke="#4a4849" stroke-width="0.8"/>
<line x1="446.6" y1="207.98" x2="451.6" y2="207.98" stroke="#4a4849" stroke-width="0.8"/>
<line x1="446.6" y1="221.09" x2="451.6" y2="221.09" stroke="#4a4849" stroke-width="0.8"/>
<line x1="446.6" y1="234.20" x2="451.6" y2="234.20" stroke="#4a4849" stroke-width="0.8"/>
<line x1="446.6" y1="247.30" x2="451.6" y2="247.30" stroke="#4a4849" stroke-width="0.8"/>
<line x1="446.6" y1="260.41" x2="451.6" y2="260.41" stroke="#4a4849" stroke-width="0.8"/>
<line x1="446.6" y1="273.52" x2="451.6" y2="273.52" stroke="#4a4849" stroke-width="0.8"/>
<line x1="446.6" y1="286.63" x2="451.6" y2="286.63" stroke="#4a4849" stroke-width="0.8"/>
<line x1="446.6" y1="299.73" x2="451.6" y2="299.73" stroke="#4a4849" stroke-width="0.8"/>
<line x1="446.6" y1="312.84" x2="451.6" y2="312.84" stroke="#4a4849" stroke-width="0.8"/>
<line x1="446.6" y1="325.95" x2="451.6" y2="325.95" stroke="#4a4849" stroke-width="0.8"/>
<line x1="446.6" y1="339.05" x2="451.6" y2="339.05" stroke="#4a4849" stroke-width="0.8"/>
<line x1="446.6" y1="352.16" x2="451.6" y2="352.16" stroke="#4a4849" stroke-width="0.8"/>
<line x1="446.6" y1="365.27" x2="451.6" y2="365.27" stroke="#4a4849" stroke-width="0.8"/>
<line x1="446.6" y1="378.37" x2="451.6" y2="378.37" stroke="#4a4849" stroke-width="0.8"/>
<line x1="446.6" y1="391.48" x2="451.6" y2="391.48" stroke="#4a4849" stroke-width="0.8"/>
<line x1="446.6" y1="404.59" x2="451.6" y2="404.59" stroke="#4a4849" stroke-width="0.8"/>
<line x1="446.6" y1="417.70" x2="451.6" y2="417.70" stroke="#4a4849" stroke-width="0.8"/>
<line x1="446.6" y1="430.80" x2="451.6" y2="430.80" stroke="#4a4849" stroke-width="0.8"/>
<line x1="446.6" y1="443.91" x2="451.6" y2="443.91" stroke="#4a4849" stroke-width="0.8"/>
<line x1="446.6" y1="457.02" x2="451.6" y2="457.02" stroke="#4a4849" stroke-width="0.8"/>
<line x1="446.6" y1="470.12" x2="451.6" y2="470.12" stroke="#4a4849" stroke-width="0.8"/>
<line x1="446.6" y1="483.23" x2="451.6" y2="483.23" stroke="#4a4849" stroke-width="0.8"/>
<line x1="446.6" y1="496.34" x2="451.6" y2="496.34" stroke="#4a4849" stroke-width="0.8"/>
<line x1="446.6" y1="509.44" x2="451.6" y2="509.44" stroke="#4a4849" stroke-width="0.8"/>
<line x1="446.6" y1="522.55" x2="451.6" y2="522.55" stroke="#4a4849" stroke-width="0.8"/>
<line x1="446.6" y1="535.66" x2="451.6" y2="535.66" stroke="#4a4849" stroke-width="0.8"/>
<line x1="446.6" y1="548.77" x2="451.6" y2="548.77" stroke="#4a4849" stroke-width="0.8"/>
<line x1="446.6" y1="561.87" x2="451.6" y2="561.87" stroke="#4a4849" stroke-width="0.8"/>
<line x1="446.6" y1="574.98" x2="451.6" y2="574.98" stroke="#4a4849" stroke-width="0.8"/>
<line x1="446.6" y1="588.09" x2="451.6" y2="588.09" stroke="#4a4849" stroke-width="0.8"/>
<line x1="446.6" y1="601.19" x2="451.6" y2="601.19" stroke="#4a4849" stroke-width="0.8"/>
<line x1="446.6" y1="614.30" x2="451.6" y2="614.30" stroke="#4a4849" stroke-width="0.8"/>
<line x1="616.6" y1="50.1" x2="616.6" y2="614.8" stroke="#231F20" stroke-width="1.0"/>
<line x1="611.6" y1="50.50" x2="616.6" y2="50.50" stroke="#4a4849" stroke-width="0.8"/>
<line x1="611.6" y1="63.61" x2="616.6" y2="63.61" stroke="#4a4849" stroke-width="0.8"/>
<line x1="611.6" y1="76.72" x2="616.6" y2="76.72" stroke="#4a4849" stroke-width="0.8"/>
<line x1="611.6" y1="89.83" x2="616.6" y2="89.83" stroke="#4a4849" stroke-width="0.8"/>
<line x1="611.6" y1="102.95" x2="616.6" y2="102.95" stroke="#4a4849" stroke-width="0.8"/>
<line x1="611.6" y1="116.06" x2="616.6" y2="116.06" stroke="#4a4849" stroke-width="0.8"/>
<line x1="611.6" y1="129.17" x2="616.6" y2="129.17" stroke="#4a4849" stroke-width="0.8"/>
<line x1="611.6" y1="142.28" x2="616.6" y2="142.28" stroke="#4a4849" stroke-width="0.8"/>
<line x1="611.6" y1="155.39" x2="616.6" y2="155.39" stroke="#4a4849" stroke-width="0.8"/>
<line x1="611.6" y1="168.50" x2="616.6" y2="168.50" stroke="#4a4849" stroke-width="0.8"/>
<line x1="611.6" y1="181.62" x2="616.6" y2="181.62" stroke="#4a4849" stroke-width="0.8"/>
<line x1="611.6" y1="194.73" x2="616.6" y2="194.73" stroke="#4a4849" stroke-width="0.8"/>
<line x1="611.6" y1="207.84" x2="616.6" y2="207.84" stroke="#4a4849" stroke-width="0.8"/>
<line x1="611.6" y1="220.95" x2="616.6" y2="220.95" stroke="#4a4849" stroke-width="0.8"/>
<line x1="611.6" y1="234.06" x2="616.6" y2="234.06" stroke="#4a4849" stroke-width="0.8"/>
<line x1="611.6" y1="247.17" x2="616.6" y2="247.17" stroke="#4a4849" stroke-width="0.8"/>
<line x1="611.6" y1="260.29" x2="616.6" y2="260.29" stroke="#4a4849" stroke-width="0.8"/>
<line x1="611.6" y1="273.40" x2="616.6" y2="273.40" stroke="#4a4849" stroke-width="0.8"/>
<line x1="611.6" y1="286.51" x2="616.6" y2="286.51" stroke="#4a4849" stroke-width="0.8"/>
<line x1="611.6" y1="299.62" x2="616.6" y2="299.62" stroke="#4a4849" stroke-width="0.8"/>
<line x1="611.6" y1="312.73" x2="616.6" y2="312.73" stroke="#4a4849" stroke-width="0.8"/>
<line x1="611.6" y1="325.84" x2="616.6" y2="325.84" stroke="#4a4849" stroke-width="0.8"/>
<line x1="611.6" y1="338.96" x2="616.6" y2="338.96" stroke="#4a4849" stroke-width="0.8"/>
<line x1="611.6" y1="352.07" x2="616.6" y2="352.07" stroke="#4a4849" stroke-width="0.8"/>
<line x1="611.6" y1="365.18" x2="616.6" y2="365.18" stroke="#4a4849" stroke-width="0.8"/>
<line x1="611.6" y1="378.29" x2="616.6" y2="378.29" stroke="#4a4849" stroke-width="0.8"/>
<line x1="611.6" y1="391.40" x2="616.6" y2="391.40" stroke="#4a4849" stroke-width="0.8"/>
<line x1="611.6" y1="404.51" x2="616.6" y2="404.51" stroke="#4a4849" stroke-width="0.8"/>
<line x1="611.6" y1="417.63" x2="616.6" y2="417.63" stroke="#4a4849" stroke-width="0.8"/>
<line x1="611.6" y1="430.74" x2="616.6" y2="430.74" stroke="#4a4849" stroke-width="0.8"/>
<line x1="611.6" y1="443.85" x2="616.6" y2="443.85" stroke="#4a4849" stroke-width="0.8"/>
<line x1="611.6" y1="456.96" x2="616.6" y2="456.96" stroke="#4a4849" stroke-width="0.8"/>
<line x1="611.6" y1="470.07" x2="616.6" y2="470.07" stroke="#4a4849" stroke-width="0.8"/>
<line x1="611.6" y1="483.18" x2="616.6" y2="483.18" stroke="#4a4849" stroke-width="0.8"/>
<line x1="611.6" y1="496.30" x2="616.6" y2="496.30" stroke="#4a4849" stroke-width="0.8"/>
<line x1="611.6" y1="509.41" x2="616.6" y2="509.41" stroke="#4a4849" stroke-width="0.8"/>
<line x1="611.6" y1="522.52" x2="616.6" y2="522.52" stroke="#4a4849" stroke-width="0.8"/>
<line x1="611.6" y1="535.63" x2="616.6" y2="535.63" stroke="#4a4849" stroke-width="0.8"/>
<line x1="611.6" y1="548.74" x2="616.6" y2="548.74" stroke="#4a4849" stroke-width="0.8"/>
<line x1="611.6" y1="561.85" x2="616.6" y2="561.85" stroke="#4a4849" stroke-width="0.8"/>
<line x1="611.6" y1="574.97" x2="616.6" y2="574.97" stroke="#4a4849" stroke-width="0.8"/>
<line x1="611.6" y1="588.08" x2="616.6" y2="588.08" stroke="#4a4849" stroke-width="0.8"/>
<line x1="611.6" y1="601.19" x2="616.6" y2="601.19" stroke="#4a4849" stroke-width="0.8"/>
<line x1="611.6" y1="614.30" x2="616.6" y2="614.30" stroke="#4a4849" stroke-width="0.8"/>
<line x1="775.8" y1="51.9" x2="775.8" y2="615.6" stroke="#231F20" stroke-width="1.0"/>
<line x1="770.8" y1="52.30" x2="775.8" y2="52.30" stroke="#4a4849" stroke-width="0.8"/>
<line x1="770.8" y1="65.39" x2="775.8" y2="65.39" stroke="#4a4849" stroke-width="0.8"/>
<line x1="770.8" y1="78.48" x2="775.8" y2="78.48" stroke="#4a4849" stroke-width="0.8"/>
<line x1="770.8" y1="91.57" x2="775.8" y2="91.57" stroke="#4a4849" stroke-width="0.8"/>
<line x1="770.8" y1="104.65" x2="775.8" y2="104.65" stroke="#4a4849" stroke-width="0.8"/>
<line x1="770.8" y1="117.74" x2="775.8" y2="117.74" stroke="#4a4849" stroke-width="0.8"/>
<line x1="770.8" y1="130.83" x2="775.8" y2="130.83" stroke="#4a4849" stroke-width="0.8"/>
<line x1="770.8" y1="143.92" x2="775.8" y2="143.92" stroke="#4a4849" stroke-width="0.8"/>
<line x1="770.8" y1="157.01" x2="775.8" y2="157.01" stroke="#4a4849" stroke-width="0.8"/>
<line x1="770.8" y1="170.10" x2="775.8" y2="170.10" stroke="#4a4849" stroke-width="0.8"/>
<line x1="770.8" y1="183.18" x2="775.8" y2="183.18" stroke="#4a4849" stroke-width="0.8"/>
<line x1="770.8" y1="196.27" x2="775.8" y2="196.27" stroke="#4a4849" stroke-width="0.8"/>
<line x1="770.8" y1="209.36" x2="775.8" y2="209.36" stroke="#4a4849" stroke-width="0.8"/>
<line x1="770.8" y1="222.45" x2="775.8" y2="222.45" stroke="#4a4849" stroke-width="0.8"/>
<line x1="770.8" y1="235.54" x2="775.8" y2="235.54" stroke="#4a4849" stroke-width="0.8"/>
<line x1="770.8" y1="248.63" x2="775.8" y2="248.63" stroke="#4a4849" stroke-width="0.8"/>
<line x1="770.8" y1="261.71" x2="775.8" y2="261.71" stroke="#4a4849" stroke-width="0.8"/>
<line x1="770.8" y1="274.80" x2="775.8" y2="274.80" stroke="#4a4849" stroke-width="0.8"/>
<line x1="770.8" y1="287.89" x2="775.8" y2="287.89" stroke="#4a4849" stroke-width="0.8"/>
<line x1="770.8" y1="300.98" x2="775.8" y2="300.98" stroke="#4a4849" stroke-width="0.8"/>
<line x1="770.8" y1="314.07" x2="775.8" y2="314.07" stroke="#4a4849" stroke-width="0.8"/>
<line x1="770.8" y1="327.16" x2="775.8" y2="327.16" stroke="#4a4849" stroke-width="0.8"/>
<line x1="770.8" y1="340.24" x2="775.8" y2="340.24" stroke="#4a4849" stroke-width="0.8"/>
<line x1="770.8" y1="353.33" x2="775.8" y2="353.33" stroke="#4a4849" stroke-width="0.8"/>
<line x1="770.8" y1="366.42" x2="775.8" y2="366.42" stroke="#4a4849" stroke-width="0.8"/>
<line x1="770.8" y1="379.51" x2="775.8" y2="379.51" stroke="#4a4849" stroke-width="0.8"/>
<line x1="770.8" y1="392.60" x2="775.8" y2="392.60" stroke="#4a4849" stroke-width="0.8"/>
<line x1="770.8" y1="405.69" x2="775.8" y2="405.69" stroke="#4a4849" stroke-width="0.8"/>
<line x1="770.8" y1="418.77" x2="775.8" y2="418.77" stroke="#4a4849" stroke-width="0.8"/>
<line x1="770.8" y1="431.86" x2="775.8" y2="431.86" stroke="#4a4849" stroke-width="0.8"/>
<line x1="770.8" y1="444.95" x2="775.8" y2="444.95" stroke="#4a4849" stroke-width="0.8"/>
<line x1="770.8" y1="458.04" x2="775.8" y2="458.04" stroke="#4a4849" stroke-width="0.8"/>
<line x1="770.8" y1="471.13" x2="775.8" y2="471.13" stroke="#4a4849" stroke-width="0.8"/>
<line x1="770.8" y1="484.22" x2="775.8" y2="484.22" stroke="#4a4849" stroke-width="0.8"/>
<line x1="770.8" y1="497.30" x2="775.8" y2="497.30" stroke="#4a4849" stroke-width="0.8"/>
<line x1="770.8" y1="510.39" x2="775.8" y2="510.39" stroke="#4a4849" stroke-width="0.8"/>
<line x1="770.8" y1="523.48" x2="775.8" y2="523.48" stroke="#4a4849" stroke-width="0.8"/>
<line x1="770.8" y1="536.57" x2="775.8" y2="536.57" stroke="#4a4849" stroke-width="0.8"/>
<line x1="770.8" y1="549.66" x2="775.8" y2="549.66" stroke="#4a4849" stroke-width="0.8"/>
<line x1="770.8" y1="562.75" x2="775.8" y2="562.75" stroke="#4a4849" stroke-width="0.8"/>
<line x1="770.8" y1="575.83" x2="775.8" y2="575.83" stroke="#4a4849" stroke-width="0.8"/>
<line x1="770.8" y1="588.92" x2="775.8" y2="588.92" stroke="#4a4849" stroke-width="0.8"/>
<line x1="770.8" y1="602.01" x2="775.8" y2="602.01" stroke="#4a4849" stroke-width="0.8"/>
<line x1="770.8" y1="615.10" x2="775.8" y2="615.10" stroke="#4a4849" stroke-width="0.8"/>
<line x1="936.5" y1="51.2" x2="936.5" y2="615.7" stroke="#474546" stroke-width="1.0"/>
<line x1="931.5" y1="51.60" x2="936.5" y2="51.60" stroke="#4a4849" stroke-width="0.8"/>
<line x1="931.5" y1="64.71" x2="936.5" y2="64.71" stroke="#4a4849" stroke-width="0.8"/>
<line x1="931.5" y1="77.81" x2="936.5" y2="77.81" stroke="#4a4849" stroke-width="0.8"/>
<line x1="931.5" y1="90.92" x2="936.5" y2="90.92" stroke="#4a4849" stroke-width="0.8"/>
<line x1="931.5" y1="104.03" x2="936.5" y2="104.03" stroke="#4a4849" stroke-width="0.8"/>
<line x1="931.5" y1="117.13" x2="936.5" y2="117.13" stroke="#4a4849" stroke-width="0.8"/>
<line x1="931.5" y1="130.24" x2="936.5" y2="130.24" stroke="#4a4849" stroke-width="0.8"/>
<line x1="931.5" y1="143.35" x2="936.5" y2="143.35" stroke="#4a4849" stroke-width="0.8"/>
<line x1="931.5" y1="156.46" x2="936.5" y2="156.46" stroke="#4a4849" stroke-width="0.8"/>
<line x1="931.5" y1="169.56" x2="936.5" y2="169.56" stroke="#4a4849" stroke-width="0.8"/>
<line x1="931.5" y1="182.67" x2="936.5" y2="182.67" stroke="#4a4849" stroke-width="0.8"/>
<line x1="931.5" y1="195.78" x2="936.5" y2="195.78" stroke="#4a4849" stroke-width="0.8"/>
<line x1="931.5" y1="208.88" x2="936.5" y2="208.88" stroke="#4a4849" stroke-width="0.8"/>
<line x1="931.5" y1="221.99" x2="936.5" y2="221.99" stroke="#4a4849" stroke-width="0.8"/>
<line x1="931.5" y1="235.10" x2="936.5" y2="235.10" stroke="#4a4849" stroke-width="0.8"/>
<line x1="931.5" y1="248.20" x2="936.5" y2="248.20" stroke="#4a4849" stroke-width="0.8"/>
<line x1="931.5" y1="261.31" x2="936.5" y2="261.31" stroke="#4a4849" stroke-width="0.8"/>
<line x1="931.5" y1="274.42" x2="936.5" y2="274.42" stroke="#4a4849" stroke-width="0.8"/>
<line x1="931.5" y1="287.53" x2="936.5" y2="287.53" stroke="#4a4849" stroke-width="0.8"/>
<line x1="931.5" y1="300.63" x2="936.5" y2="300.63" stroke="#4a4849" stroke-width="0.8"/>
<line x1="931.5" y1="313.74" x2="936.5" y2="313.74" stroke="#4a4849" stroke-width="0.8"/>
<line x1="931.5" y1="326.85" x2="936.5" y2="326.85" stroke="#4a4849" stroke-width="0.8"/>
<line x1="931.5" y1="339.95" x2="936.5" y2="339.95" stroke="#4a4849" stroke-width="0.8"/>
<line x1="931.5" y1="353.06" x2="936.5" y2="353.06" stroke="#4a4849" stroke-width="0.8"/>
<line x1="931.5" y1="366.17" x2="936.5" y2="366.17" stroke="#4a4849" stroke-width="0.8"/>
<line x1="931.5" y1="379.27" x2="936.5" y2="379.27" stroke="#4a4849" stroke-width="0.8"/>
<line x1="931.5" y1="392.38" x2="936.5" y2="392.38" stroke="#4a4849" stroke-width="0.8"/>
<line x1="931.5" y1="405.49" x2="936.5" y2="405.49" stroke="#4a4849" stroke-width="0.8"/>
<line x1="931.5" y1="418.60" x2="936.5" y2="418.60" stroke="#4a4849" stroke-width="0.8"/>
<line x1="931.5" y1="431.70" x2="936.5" y2="431.70" stroke="#4a4849" stroke-width="0.8"/>
<line x1="931.5" y1="444.81" x2="936.5" y2="444.81" stroke="#4a4849" stroke-width="0.8"/>
<line x1="931.5" y1="457.92" x2="936.5" y2="457.92" stroke="#4a4849" stroke-width="0.8"/>
<line x1="931.5" y1="471.02" x2="936.5" y2="471.02" stroke="#4a4849" stroke-width="0.8"/>
<line x1="931.5" y1="484.13" x2="936.5" y2="484.13" stroke="#4a4849" stroke-width="0.8"/>
<line x1="931.5" y1="497.24" x2="936.5" y2="497.24" stroke="#4a4849" stroke-width="0.8"/>
<line x1="931.5" y1="510.34" x2="936.5" y2="510.34" stroke="#4a4849" stroke-width="0.8"/>
<line x1="931.5" y1="523.45" x2="936.5" y2="523.45" stroke="#4a4849" stroke-width="0.8"/>
<line x1="931.5" y1="536.56" x2="936.5" y2="536.56" stroke="#4a4849" stroke-width="0.8"/>
<line x1="931.5" y1="549.67" x2="936.5" y2="549.67" stroke="#4a4849" stroke-width="0.8"/>
<line x1="931.5" y1="562.77" x2="936.5" y2="562.77" stroke="#4a4849" stroke-width="0.8"/>
<line x1="931.5" y1="575.88" x2="936.5" y2="575.88" stroke="#4a4849" stroke-width="0.8"/>
<line x1="931.5" y1="588.99" x2="936.5" y2="588.99" stroke="#4a4849" stroke-width="0.8"/>
<line x1="931.5" y1="602.09" x2="936.5" y2="602.09" stroke="#4a4849" stroke-width="0.8"/>
<line x1="931.5" y1="615.20" x2="936.5" y2="615.20" stroke="#4a4849" stroke-width="0.8"/>
<line x1="1073.0" y1="51.0" x2="1073.0" y2="615.7" stroke="#474546" stroke-width="1.0"/>
<line x1="1068.0" y1="51.40" x2="1073.0" y2="51.40" stroke="#4a4849" stroke-width="0.8"/>
<line x1="1068.0" y1="64.51" x2="1073.0" y2="64.51" stroke="#4a4849" stroke-width="0.8"/>
<line x1="1068.0" y1="77.62" x2="1073.0" y2="77.62" stroke="#4a4849" stroke-width="0.8"/>
<line x1="1068.0" y1="90.73" x2="1073.0" y2="90.73" stroke="#4a4849" stroke-width="0.8"/>
<line x1="1068.0" y1="103.85" x2="1073.0" y2="103.85" stroke="#4a4849" stroke-width="0.8"/>
<line x1="1068.0" y1="116.96" x2="1073.0" y2="116.96" stroke="#4a4849" stroke-width="0.8"/>
<line x1="1068.0" y1="130.07" x2="1073.0" y2="130.07" stroke="#4a4849" stroke-width="0.8"/>
<line x1="1068.0" y1="143.18" x2="1073.0" y2="143.18" stroke="#4a4849" stroke-width="0.8"/>
<line x1="1068.0" y1="156.29" x2="1073.0" y2="156.29" stroke="#4a4849" stroke-width="0.8"/>
<line x1="1068.0" y1="169.40" x2="1073.0" y2="169.40" stroke="#4a4849" stroke-width="0.8"/>
<line x1="1068.0" y1="182.52" x2="1073.0" y2="182.52" stroke="#4a4849" stroke-width="0.8"/>
<line x1="1068.0" y1="195.63" x2="1073.0" y2="195.63" stroke="#4a4849" stroke-width="0.8"/>
<line x1="1068.0" y1="208.74" x2="1073.0" y2="208.74" stroke="#4a4849" stroke-width="0.8"/>
<line x1="1068.0" y1="221.85" x2="1073.0" y2="221.85" stroke="#4a4849" stroke-width="0.8"/>
<line x1="1068.0" y1="234.96" x2="1073.0" y2="234.96" stroke="#4a4849" stroke-width="0.8"/>
<line x1="1068.0" y1="248.07" x2="1073.0" y2="248.07" stroke="#4a4849" stroke-width="0.8"/>
<line x1="1068.0" y1="261.19" x2="1073.0" y2="261.19" stroke="#4a4849" stroke-width="0.8"/>
<line x1="1068.0" y1="274.30" x2="1073.0" y2="274.30" stroke="#4a4849" stroke-width="0.8"/>
<line x1="1068.0" y1="287.41" x2="1073.0" y2="287.41" stroke="#4a4849" stroke-width="0.8"/>
<line x1="1068.0" y1="300.52" x2="1073.0" y2="300.52" stroke="#4a4849" stroke-width="0.8"/>
<line x1="1068.0" y1="313.63" x2="1073.0" y2="313.63" stroke="#4a4849" stroke-width="0.8"/>
<line x1="1068.0" y1="326.74" x2="1073.0" y2="326.74" stroke="#4a4849" stroke-width="0.8"/>
<line x1="1068.0" y1="339.86" x2="1073.0" y2="339.86" stroke="#4a4849" stroke-width="0.8"/>
<line x1="1068.0" y1="352.97" x2="1073.0" y2="352.97" stroke="#4a4849" stroke-width="0.8"/>
<line x1="1068.0" y1="366.08" x2="1073.0" y2="366.08" stroke="#4a4849" stroke-width="0.8"/>
<line x1="1068.0" y1="379.19" x2="1073.0" y2="379.19" stroke="#4a4849" stroke-width="0.8"/>
<line x1="1068.0" y1="392.30" x2="1073.0" y2="392.30" stroke="#4a4849" stroke-width="0.8"/>
<line x1="1068.0" y1="405.41" x2="1073.0" y2="405.41" stroke="#4a4849" stroke-width="0.8"/>
<line x1="1068.0" y1="418.53" x2="1073.0" y2="418.53" stroke="#4a4849" stroke-width="0.8"/>
<line x1="1068.0" y1="431.64" x2="1073.0" y2="431.64" stroke="#4a4849" stroke-width="0.8"/>
<line x1="1068.0" y1="444.75" x2="1073.0" y2="444.75" stroke="#4a4849" stroke-width="0.8"/>
<line x1="1068.0" y1="457.86" x2="1073.0" y2="457.86" stroke="#4a4849" stroke-width="0.8"/>
<line x1="1068.0" y1="470.97" x2="1073.0" y2="470.97" stroke="#4a4849" stroke-width="0.8"/>
<line x1="1068.0" y1="484.08" x2="1073.0" y2="484.08" stroke="#4a4849" stroke-width="0.8"/>
<line x1="1068.0" y1="497.20" x2="1073.0" y2="497.20" stroke="#4a4849" stroke-width="0.8"/>
<line x1="1068.0" y1="510.31" x2="1073.0" y2="510.31" stroke="#4a4849" stroke-width="0.8"/>
<line x1="1068.0" y1="523.42" x2="1073.0" y2="523.42" stroke="#4a4849" stroke-width="0.8"/>
<line x1="1068.0" y1="536.53" x2="1073.0" y2="536.53" stroke="#4a4849" stroke-width="0.8"/>
<line x1="1068.0" y1="549.64" x2="1073.0" y2="549.64" stroke="#4a4849" stroke-width="0.8"/>
<line x1="1068.0" y1="562.75" x2="1073.0" y2="562.75" stroke="#4a4849" stroke-width="0.8"/>
<line x1="1068.0" y1="575.87" x2="1073.0" y2="575.87" stroke="#4a4849" stroke-width="0.8"/>
<line x1="1068.0" y1="588.98" x2="1073.0" y2="588.98" stroke="#4a4849" stroke-width="0.8"/>
<line x1="1068.0" y1="602.09" x2="1073.0" y2="602.09" stroke="#4a4849" stroke-width="0.8"/>
<line x1="1068.0" y1="615.20" x2="1073.0" y2="615.20" stroke="#4a4849" stroke-width="0.8"/>
<line x1="1207.3" y1="51.2" x2="1207.3" y2="615.7" stroke="#474546" stroke-width="1.0"/>
<line x1="1202.3" y1="51.60" x2="1207.3" y2="51.60" stroke="#4a4849" stroke-width="0.8"/>
<line x1="1202.3" y1="64.71" x2="1207.3" y2="64.71" stroke="#4a4849" stroke-width="0.8"/>
<line x1="1202.3" y1="77.81" x2="1207.3" y2="77.81" stroke="#4a4849" stroke-width="0.8"/>
<line x1="1202.3" y1="90.92" x2="1207.3" y2="90.92" stroke="#4a4849" stroke-width="0.8"/>
<line x1="1202.3" y1="104.03" x2="1207.3" y2="104.03" stroke="#4a4849" stroke-width="0.8"/>
<line x1="1202.3" y1="117.13" x2="1207.3" y2="117.13" stroke="#4a4849" stroke-width="0.8"/>
<line x1="1202.3" y1="130.24" x2="1207.3" y2="130.24" stroke="#4a4849" stroke-width="0.8"/>
<line x1="1202.3" y1="143.35" x2="1207.3" y2="143.35" stroke="#4a4849" stroke-width="0.8"/>
<line x1="1202.3" y1="156.46" x2="1207.3" y2="156.46" stroke="#4a4849" stroke-width="0.8"/>
<line x1="1202.3" y1="169.56" x2="1207.3" y2="169.56" stroke="#4a4849" stroke-width="0.8"/>
<line x1="1202.3" y1="182.67" x2="1207.3" y2="182.67" stroke="#4a4849" stroke-width="0.8"/>
<line x1="1202.3" y1="195.78" x2="1207.3" y2="195.78" stroke="#4a4849" stroke-width="0.8"/>
<line x1="1202.3" y1="208.88" x2="1207.3" y2="208.88" stroke="#4a4849" stroke-width="0.8"/>
<line x1="1202.3" y1="221.99" x2="1207.3" y2="221.99" stroke="#4a4849" stroke-width="0.8"/>
<line x1="1202.3" y1="235.10" x2="1207.3" y2="235.10" stroke="#4a4849" stroke-width="0.8"/>
<line x1="1202.3" y1="248.20" x2="1207.3" y2="248.20" stroke="#4a4849" stroke-width="0.8"/>
<line x1="1202.3" y1="261.31" x2="1207.3" y2="261.31" stroke="#4a4849" stroke-width="0.8"/>
<line x1="1202.3" y1="274.42" x2="1207.3" y2="274.42" stroke="#4a4849" stroke-width="0.8"/>
<line x1="1202.3" y1="287.53" x2="1207.3" y2="287.53" stroke="#4a4849" stroke-width="0.8"/>
<line x1="1202.3" y1="300.63" x2="1207.3" y2="300.63" stroke="#4a4849" stroke-width="0.8"/>
<line x1="1202.3" y1="313.74" x2="1207.3" y2="313.74" stroke="#4a4849" stroke-width="0.8"/>
<line x1="1202.3" y1="326.85" x2="1207.3" y2="326.85" stroke="#4a4849" stroke-width="0.8"/>
<line x1="1202.3" y1="339.95" x2="1207.3" y2="339.95" stroke="#4a4849" stroke-width="0.8"/>
<line x1="1202.3" y1="353.06" x2="1207.3" y2="353.06" stroke="#4a4849" stroke-width="0.8"/>
<line x1="1202.3" y1="366.17" x2="1207.3" y2="366.17" stroke="#4a4849" stroke-width="0.8"/>
<line x1="1202.3" y1="379.27" x2="1207.3" y2="379.27" stroke="#4a4849" stroke-width="0.8"/>
<line x1="1202.3" y1="392.38" x2="1207.3" y2="392.38" stroke="#4a4849" stroke-width="0.8"/>
<line x1="1202.3" y1="405.49" x2="1207.3" y2="405.49" stroke="#4a4849" stroke-width="0.8"/>
<line x1="1202.3" y1="418.60" x2="1207.3" y2="418.60" stroke="#4a4849" stroke-width="0.8"/>
<line x1="1202.3" y1="431.70" x2="1207.3" y2="431.70" stroke="#4a4849" stroke-width="0.8"/>
<line x1="1202.3" y1="444.81" x2="1207.3" y2="444.81" stroke="#4a4849" stroke-width="0.8"/>
<line x1="1202.3" y1="457.92" x2="1207.3" y2="457.92" stroke="#4a4849" stroke-width="0.8"/>
<line x1="1202.3" y1="471.02" x2="1207.3" y2="471.02" stroke="#4a4849" stroke-width="0.8"/>
<line x1="1202.3" y1="484.13" x2="1207.3" y2="484.13" stroke="#4a4849" stroke-width="0.8"/>
<line x1="1202.3" y1="497.24" x2="1207.3" y2="497.24" stroke="#4a4849" stroke-width="0.8"/>
<line x1="1202.3" y1="510.34" x2="1207.3" y2="510.34" stroke="#4a4849" stroke-width="0.8"/>
<line x1="1202.3" y1="523.45" x2="1207.3" y2="523.45" stroke="#4a4849" stroke-width="0.8"/>
<line x1="1202.3" y1="536.56" x2="1207.3" y2="536.56" stroke="#4a4849" stroke-width="0.8"/>
<line x1="1202.3" y1="549.67" x2="1207.3" y2="549.67" stroke="#4a4849" stroke-width="0.8"/>
<line x1="1202.3" y1="562.77" x2="1207.3" y2="562.77" stroke="#4a4849" stroke-width="0.8"/>
<line x1="1202.3" y1="575.88" x2="1207.3" y2="575.88" stroke="#4a4849" stroke-width="0.8"/>
<line x1="1202.3" y1="588.99" x2="1207.3" y2="588.99" stroke="#4a4849" stroke-width="0.8"/>
<line x1="1202.3" y1="602.09" x2="1207.3" y2="602.09" stroke="#4a4849" stroke-width="0.8"/>
<line x1="1202.3" y1="615.20" x2="1207.3" y2="615.20" stroke="#4a4849" stroke-width="0.8"/>
<line x1="292.0" y1="615.3" x2="430.9" y2="615.3" stroke="#231F20" stroke-width="1.1"/>
<line x1="297.0" y1="615.3" x2="297.0" y2="620.5" stroke="#231F20" stroke-width="0.95"/>
<line x1="363.7" y1="615.3" x2="363.7" y2="620.5" stroke="#231F20" stroke-width="0.95"/>
<line x1="430.4" y1="615.3" x2="430.4" y2="620.5" stroke="#231F20" stroke-width="0.95"/>
<line x1="446.6" y1="614.4" x2="588.3" y2="614.4" stroke="#231F20" stroke-width="1.1"/>
<line x1="451.6" y1="614.4" x2="451.6" y2="619.6" stroke="#231F20" stroke-width="0.95"/>
<line x1="471.1" y1="614.4" x2="471.1" y2="619.6" stroke="#231F20" stroke-width="0.95"/>
<line x1="490.4" y1="614.4" x2="490.4" y2="619.6" stroke="#231F20" stroke-width="0.95"/>
<line x1="509.6" y1="614.4" x2="509.6" y2="619.6" stroke="#231F20" stroke-width="0.95"/>
<line x1="528.7" y1="614.4" x2="528.7" y2="619.6" stroke="#231F20" stroke-width="0.95"/>
<line x1="548.1" y1="614.4" x2="548.1" y2="619.6" stroke="#231F20" stroke-width="0.95"/>
<line x1="568.6" y1="614.4" x2="568.6" y2="619.6" stroke="#231F20" stroke-width="0.95"/>
<line x1="587.8" y1="614.4" x2="587.8" y2="619.6" stroke="#231F20" stroke-width="0.95"/>
<line x1="611.6" y1="614.3" x2="754.5" y2="614.3" stroke="#231F20" stroke-width="1.1"/>
<line x1="631.8" y1="614.3" x2="631.8" y2="619.5" stroke="#231F20" stroke-width="0.95"/>
<line x1="662.7" y1="614.3" x2="662.7" y2="619.5" stroke="#231F20" stroke-width="0.95"/>
<line x1="692.7" y1="614.3" x2="692.7" y2="619.5" stroke="#231F20" stroke-width="0.95"/>
<line x1="723.1" y1="614.3" x2="723.1" y2="619.5" stroke="#231F20" stroke-width="0.95"/>
<line x1="754.0" y1="614.3" x2="754.0" y2="619.5" stroke="#231F20" stroke-width="0.95"/>
<line x1="770.8" y1="615.1" x2="908.4" y2="615.1" stroke="#231F20" stroke-width="1.1"/>
<line x1="775.8" y1="615.1" x2="775.8" y2="620.3000000000001" stroke="#231F20" stroke-width="0.95"/>
<line x1="841.8" y1="615.1" x2="841.8" y2="620.3000000000001" stroke="#231F20" stroke-width="0.95"/>
<line x1="907.9" y1="615.1" x2="907.9" y2="620.3000000000001" stroke="#231F20" stroke-width="0.95"/>
<line x1="931.5" y1="615.2" x2="1045.0" y2="615.2" stroke="#231F20" stroke-width="1.1"/>
<line x1="936.5" y1="615.2" x2="936.5" y2="620.4000000000001" stroke="#231F20" stroke-width="0.95"/>
<line x1="990.5" y1="615.2" x2="990.5" y2="620.4000000000001" stroke="#231F20" stroke-width="0.95"/>
<line x1="1044.5" y1="615.2" x2="1044.5" y2="620.4000000000001" stroke="#231F20" stroke-width="0.95"/>
<line x1="1068.0" y1="615.2" x2="1181.4" y2="615.2" stroke="#231F20" stroke-width="1.1"/>
<line x1="1073.0" y1="615.2" x2="1073.0" y2="620.4000000000001" stroke="#231F20" stroke-width="0.95"/>
<line x1="1126.6" y1="615.2" x2="1126.6" y2="620.4000000000001" stroke="#231F20" stroke-width="0.95"/>
<line x1="1180.9" y1="615.2" x2="1180.9" y2="620.4000000000001" stroke="#231F20" stroke-width="0.95"/>
<line x1="1202.3" y1="615.2" x2="1323.0" y2="615.2" stroke="#231F20" stroke-width="1.1"/>
<line x1="1207.3" y1="615.2" x2="1207.3" y2="620.4000000000001" stroke="#231F20" stroke-width="0.95"/>
<line x1="1264.8" y1="615.2" x2="1264.8" y2="620.4000000000001" stroke="#231F20" stroke-width="0.95"/>
<line x1="1322.5" y1="615.2" x2="1322.5" y2="620.4000000000001" stroke="#231F20" stroke-width="0.95"/>
<polyline points="132.4,59.2 122.5,61.1 119.5,63.1 124.6,66.0 125.5,67.7 109.5,70.3 97.7,71.4 92.3,73.3 95.6,74.3 110.5,76.4 133.6,77.3 146.6,79.4 116.6,80.4 140.6,82.3 104.6,83.2 117.6,84.6 114.2,86.3 106.4,87.2 118.5,89.3 98.5,90.7 121.5,92.2 174.8,93.3 159.5,95.3 142.6,96.2 137.6,97.1 118.7,99.5 153.8,100.4 130.5,102.3 137.6,103.5 151.8,105.4 140.4,107.5 117.6,109.4 118.5,111.8 129.4,113.4 113.5,115.5 105.5,117.4 103.4,119.7 84.7,122.4 89.5,124.7 92.3,126.2 87.4,128.9 82.6,132.7 86.4,134.6 76.5,136.5 80.5,138.8 76.1,140.5 87.3,142.6 93.5,144.8 103.4,146.4 94.4,148.8 91.2,151.6 84.7,154.0 90.4,155.6 84.3,157.8 87.4,159.6 79.4,161.7 92.3,163.8 91.2,165.9 86.0,168.0 83.8,170.2 93.5,171.9 116.4,174.0 116.9,176.3 108.6,178.0 105.5,179.8 138.5,180.6 130.3,182.7 92.3,183.2 96.5,185.8 88.1,187.6 98.5,189.0 95.2,191.0 100.5,192.4 94.4,193.6 104.4,195.0 127.5,195.9 95.2,198.0 119.0,198.9 125.6,200.1 123.4,202.0 137.6,202.8 129.8,204.9 124.4,206.3 86.4,206.8 103.4,208.8 126.8,210.1 114.3,211.0 106.4,213.1 144.5,213.8 152.7,215.0 138.1,216.7 141.6,218.5 139.9,220.6 132.6,220.9 123.4,221.8 119.5,222.8 114.5,225.2 132.6,226.1 149.9,227.8 130.3,229.2 146.5,230.3 152.7,232.0 112.4,232.9 120.2,234.1 105.5,235.8 103.4,237.0 114.3,239.3 141.6,239.3 105.5,240.5 118.5,241.0 110.3,242.3 141.6,244.5 108.6,245.2 103.4,246.6 109.5,248.0 113.5,249.7 139.5,250.2 94.4,251.8 110.3,252.3 91.2,254.1 97.3,255.3 127.5,256.1 103.4,257.0 98.5,258.4 86.4,259.6 106.4,262.2 119.5,263.4 104.4,264.8 122.5,265.7 119.0,267.4 130.3,268.1 127.5,269.5 133.4,271.2 130.3,273.5 121.3,275.6 126.5,278.7 135.5,280.1 111.4,281.0 116.4,283.6 125.5,284.4 112.6,285.9 125.1,285.0 100.3,288.1 135.5,288.8 118.5,291.4 140.4,292.3 133.8,293.3 118.5,295.4 142.5,296.5 132.0,297.2 121.3,299.2 115.6,300.6 129.4,301.5 124.2,302.9 111.4,303.2 99.9,306.7 89.5,309.3 100.3,310.2 96.5,312.4 99.6,313.1 109.5,315.6 122.5,316.4 129.4,319.4 132.6,320.6 121.3,321.8 117.6,322.5 123.4,323.5 128.6,324.9 114.3,326.7 118.5,329.8 126.5,330.7 114.3,331.5 120.2,333.6 107.2,334.5 115.6,335.7 128.6,338.5 111.4,339.3 119.5,341.4 111.4,342.3 127.5,344.5 154.6,345.6 125.5,347.5 147.7,348.7 102.4,349.8 122.2,351.5 132.6,352.7 123.4,354.8 103.4,355.3 114.3,357.9 85.5,358.4 70.4,359.7 82.6,361.4 82.0,363.5 88.6,364.9 94.4,365.7 90.4,368.0 91.2,369.7 96.1,371.8 103.4,372.7 108.6,371.3 134.7,371.3 139.5,372.7 131.5,373.9 79.1,375.3 84.7,376.5 73.9,377.9 70.4,379.6 73.0,380.8 70.4,382.2 77.4,384.0 152.9,384.0 70.4,385.7 73.0,387.4 74.8,389.7 100.3,390.6 70.4,391.8 69.3,394.0 68.9,395.7 69.1,397.4 68.6,399.1 68.6,400.8 77.0,403.1 87.4,406.4 68.6,409.3 80.8,411.1 68.6,412.7 74.8,415.4 75.6,418.9 68.8,421.2 80.0,422.4 69.4,424.6 69.3,426.3 69.8,428.0 69.3,429.7 69.7,431.4 69.5,433.1 69.0,434.8 78.2,436.2 74.8,438.9 79.1,440.6 86.0,442.8 100.3,444.4 80.5,445.8 83.4,447.5 77.4,449.3 83.4,452.2 78.2,454.5 127.4,456.4 124.2,457.1 76.5,458.0 79.1,460.9 92.3,461.9 68.6,463.7 69.0,465.4 80.0,466.6 68.9,468.8 80.5,470.6 76.5,472.4 69.5,473.9 69.7,475.6 69.5,477.3 70.1,479.0 69.6,480.7 69.5,482.4 69.8,484.1 69.4,485.8 69.4,487.5 68.8,489.2 69.0,490.9 69.3,492.6 69.4,494.3 69.9,496.0 69.7,497.7 69.9,499.4 70.0,501.1 70.1,502.8 70.0,504.5 70.5,506.2 70.6,507.9 70.6,509.6 70.6,511.3 74.8,512.6 70.3,514.7 76.5,517.5 70.6,519.8 70.3,521.5 70.2,523.2 70.4,524.9 69.8,526.6 69.8,528.3 69.4,530.0 68.9,531.7 68.6,533.4 68.9,535.1 68.6,536.8 68.6,538.5 68.6,540.2 79.1,542.6 90.4,545.7 68.7,547.0 69.1,548.7 69.5,550.4 69.9,552.1 74.8,553.5 69.6,555.5 69.4,557.2 69.9,558.9 70.4,560.6 70.0,562.3 69.6,564.0 69.3,565.7 69.0,567.4 68.9,569.1 69.1,570.8 68.8,572.5 68.6,574.2 68.6,575.9 68.6,577.6 68.7,579.3 69.2,581.0 69.5,582.7 69.5,584.4 69.6,586.1 74.8,588.1 69.3,589.5 69.8,591.2 70.1,592.9 70.6,594.6 70.6,596.3 70.5,598.0 70.3,599.7 69.9,601.4 70.0,603.1 69.5,604.8 69.0,606.5 68.6,608.2 68.6,609.9 68.6,611.6 68.6,613.3 75.3,615.8" fill="none" stroke="#231F20" stroke-width="0.95" stroke-linejoin="round"/>
<g fill="#fff" stroke="#231F20" stroke-width="0.9">
<circle cx="132.4" cy="59.2" r="1.75"/>
<circle cx="122.5" cy="61.1" r="1.75"/>
<circle cx="119.5" cy="63.1" r="1.75"/>
<circle cx="124.6" cy="66.0" r="1.75"/>
<circle cx="125.5" cy="67.7" r="1.75"/>
<circle cx="109.5" cy="70.3" r="1.75"/>
<circle cx="97.7" cy="71.4" r="1.75"/>
<circle cx="92.3" cy="73.3" r="1.75"/>
<circle cx="95.6" cy="74.3" r="1.75"/>
<circle cx="110.5" cy="76.4" r="1.75"/>
<circle cx="133.6" cy="77.3" r="1.75"/>
<circle cx="146.6" cy="79.4" r="1.75"/>
<circle cx="116.6" cy="80.4" r="1.75"/>
<circle cx="140.6" cy="82.3" r="1.75"/>
<circle cx="104.6" cy="83.2" r="1.75"/>
<circle cx="117.6" cy="84.6" r="1.75"/>
<circle cx="114.2" cy="86.3" r="1.75"/>
<circle cx="106.4" cy="87.2" r="1.75"/>
<circle cx="118.5" cy="89.3" r="1.75"/>
<circle cx="98.5" cy="90.7" r="1.75"/>
<circle cx="121.5" cy="92.2" r="1.75"/>
<circle cx="174.8" cy="93.3" r="1.75"/>
<circle cx="159.5" cy="95.3" r="1.75"/>
<circle cx="142.6" cy="96.2" r="1.75"/>
<circle cx="137.6" cy="97.1" r="1.75"/>
<circle cx="118.7" cy="99.5" r="1.75"/>
<circle cx="153.8" cy="100.4" r="1.75"/>
<circle cx="130.5" cy="102.3" r="1.75"/>
<circle cx="137.6" cy="103.5" r="1.75"/>
<circle cx="151.8" cy="105.4" r="1.75"/>
<circle cx="140.4" cy="107.5" r="1.75"/>
<circle cx="117.6" cy="109.4" r="1.75"/>
<circle cx="118.5" cy="111.8" r="1.75"/>
<circle cx="129.4" cy="113.4" r="1.75"/>
<circle cx="113.5" cy="115.5" r="1.75"/>
<circle cx="105.5" cy="117.4" r="1.75"/>
<circle cx="103.4" cy="119.7" r="1.75"/>
<circle cx="84.7" cy="122.4" r="1.75"/>
<circle cx="89.5" cy="124.7" r="1.75"/>
<circle cx="92.3" cy="126.2" r="1.75"/>
<circle cx="87.4" cy="128.9" r="1.75"/>
<circle cx="82.6" cy="132.7" r="1.75"/>
<circle cx="86.4" cy="134.6" r="1.75"/>
<circle cx="76.5" cy="136.5" r="1.75"/>
<circle cx="80.5" cy="138.8" r="1.75"/>
<circle cx="76.1" cy="140.5" r="1.75"/>
<circle cx="87.3" cy="142.6" r="1.75"/>
<circle cx="93.5" cy="144.8" r="1.75"/>
<circle cx="103.4" cy="146.4" r="1.75"/>
<circle cx="94.4" cy="148.8" r="1.75"/>
<circle cx="91.2" cy="151.6" r="1.75"/>
<circle cx="84.7" cy="154.0" r="1.75"/>
<circle cx="90.4" cy="155.6" r="1.75"/>
<circle cx="84.3" cy="157.8" r="1.75"/>
<circle cx="87.4" cy="159.6" r="1.75"/>
<circle cx="79.4" cy="161.7" r="1.75"/>
<circle cx="92.3" cy="163.8" r="1.75"/>
<circle cx="91.2" cy="165.9" r="1.75"/>
<circle cx="86.0" cy="168.0" r="1.75"/>
<circle cx="83.8" cy="170.2" r="1.75"/>
<circle cx="93.5" cy="171.9" r="1.75"/>
<circle cx="116.4" cy="174.0" r="1.75"/>
<circle cx="116.9" cy="176.3" r="1.75"/>
<circle cx="108.6" cy="178.0" r="1.75"/>
<circle cx="105.5" cy="179.8" r="1.75"/>
<circle cx="138.5" cy="180.6" r="1.75"/>
<circle cx="130.3" cy="182.7" r="1.75"/>
<circle cx="92.3" cy="183.2" r="1.75"/>
<circle cx="96.5" cy="185.8" r="1.75"/>
<circle cx="88.1" cy="187.6" r="1.75"/>
<circle cx="98.5" cy="189.0" r="1.75"/>
<circle cx="95.2" cy="191.0" r="1.75"/>
<circle cx="100.5" cy="192.4" r="1.75"/>
<circle cx="94.4" cy="193.6" r="1.75"/>
<circle cx="104.4" cy="195.0" r="1.75"/>
<circle cx="127.5" cy="195.9" r="1.75"/>
<circle cx="95.2" cy="198.0" r="1.75"/>
<circle cx="119.0" cy="198.9" r="1.75"/>
<circle cx="125.6" cy="200.1" r="1.75"/>
<circle cx="123.4" cy="202.0" r="1.75"/>
<circle cx="137.6" cy="202.8" r="1.75"/>
<circle cx="129.8" cy="204.9" r="1.75"/>
<circle cx="124.4" cy="206.3" r="1.75"/>
<circle cx="86.4" cy="206.8" r="1.75"/>
<circle cx="103.4" cy="208.8" r="1.75"/>
<circle cx="126.8" cy="210.1" r="1.75"/>
<circle cx="114.3" cy="211.0" r="1.75"/>
<circle cx="106.4" cy="213.1" r="1.75"/>
<circle cx="144.5" cy="213.8" r="1.75"/>
<circle cx="152.7" cy="215.0" r="1.75"/>
<circle cx="138.1" cy="216.7" r="1.75"/>
<circle cx="141.6" cy="218.5" r="1.75"/>
<circle cx="139.9" cy="220.6" r="1.75"/>
<circle cx="132.6" cy="220.9" r="1.75"/>
<circle cx="123.4" cy="221.8" r="1.75"/>
<circle cx="119.5" cy="222.8" r="1.75"/>
<circle cx="114.5" cy="225.2" r="1.75"/>
<circle cx="132.6" cy="226.1" r="1.75"/>
<circle cx="149.9" cy="227.8" r="1.75"/>
<circle cx="130.3" cy="229.2" r="1.75"/>
<circle cx="146.5" cy="230.3" r="1.75"/>
<circle cx="152.7" cy="232.0" r="1.75"/>
<circle cx="112.4" cy="232.9" r="1.75"/>
<circle cx="120.2" cy="234.1" r="1.75"/>
<circle cx="105.5" cy="235.8" r="1.75"/>
<circle cx="103.4" cy="237.0" r="1.75"/>
<circle cx="114.3" cy="239.3" r="1.75"/>
<circle cx="141.6" cy="239.3" r="1.75"/>
<circle cx="105.5" cy="240.5" r="1.75"/>
<circle cx="118.5" cy="241.0" r="1.75"/>
<circle cx="110.3" cy="242.3" r="1.75"/>
<circle cx="141.6" cy="244.5" r="1.75"/>
<circle cx="108.6" cy="245.2" r="1.75"/>
<circle cx="103.4" cy="246.6" r="1.75"/>
<circle cx="109.5" cy="248.0" r="1.75"/>
<circle cx="113.5" cy="249.7" r="1.75"/>
<circle cx="139.5" cy="250.2" r="1.75"/>
<circle cx="94.4" cy="251.8" r="1.75"/>
<circle cx="110.3" cy="252.3" r="1.75"/>
<circle cx="91.2" cy="254.1" r="1.75"/>
<circle cx="97.3" cy="255.3" r="1.75"/>
<circle cx="127.5" cy="256.1" r="1.75"/>
<circle cx="103.4" cy="257.0" r="1.75"/>
<circle cx="98.5" cy="258.4" r="1.75"/>
<circle cx="86.4" cy="259.6" r="1.75"/>
<circle cx="106.4" cy="262.2" r="1.75"/>
<circle cx="119.5" cy="263.4" r="1.75"/>
<circle cx="104.4" cy="264.8" r="1.75"/>
<circle cx="122.5" cy="265.7" r="1.75"/>
<circle cx="119.0" cy="267.4" r="1.75"/>
<circle cx="130.3" cy="268.1" r="1.75"/>
<circle cx="127.5" cy="269.5" r="1.75"/>
<circle cx="133.4" cy="271.2" r="1.75"/>
<circle cx="130.3" cy="273.5" r="1.75"/>
<circle cx="121.3" cy="275.6" r="1.75"/>
<circle cx="126.5" cy="278.7" r="1.75"/>
<circle cx="135.5" cy="280.1" r="1.75"/>
<circle cx="111.4" cy="281.0" r="1.75"/>
<circle cx="116.4" cy="283.6" r="1.75"/>
<circle cx="125.5" cy="284.4" r="1.75"/>
<circle cx="112.6" cy="285.9" r="1.75"/>
<circle cx="125.1" cy="285.0" r="1.75"/>
<circle cx="100.3" cy="288.1" r="1.75"/>
<circle cx="135.5" cy="288.8" r="1.75"/>
<circle cx="118.5" cy="291.4" r="1.75"/>
<circle cx="140.4" cy="292.3" r="1.75"/>
<circle cx="133.8" cy="293.3" r="1.75"/>
<circle cx="118.5" cy="295.4" r="1.75"/>
<circle cx="142.5" cy="296.5" r="1.75"/>
<circle cx="132.0" cy="297.2" r="1.75"/>
<circle cx="121.3" cy="299.2" r="1.75"/>
<circle cx="115.6" cy="300.6" r="1.75"/>
<circle cx="129.4" cy="301.5" r="1.75"/>
<circle cx="124.2" cy="302.9" r="1.75"/>
<circle cx="111.4" cy="303.2" r="1.75"/>
<circle cx="99.9" cy="306.7" r="1.75"/>
<circle cx="89.5" cy="309.3" r="1.75"/>
<circle cx="100.3" cy="310.2" r="1.75"/>
<circle cx="96.5" cy="312.4" r="1.75"/>
<circle cx="99.6" cy="313.1" r="1.75"/>
<circle cx="109.5" cy="315.6" r="1.75"/>
<circle cx="122.5" cy="316.4" r="1.75"/>
<circle cx="129.4" cy="319.4" r="1.75"/>
<circle cx="132.6" cy="320.6" r="1.75"/>
<circle cx="121.3" cy="321.8" r="1.75"/>
<circle cx="117.6" cy="322.5" r="1.75"/>
<circle cx="123.4" cy="323.5" r="1.75"/>
<circle cx="128.6" cy="324.9" r="1.75"/>
<circle cx="114.3" cy="326.7" r="1.75"/>
<circle cx="118.5" cy="329.8" r="1.75"/>
<circle cx="126.5" cy="330.7" r="1.75"/>
<circle cx="114.3" cy="331.5" r="1.75"/>
<circle cx="120.2" cy="333.6" r="1.75"/>
<circle cx="107.2" cy="334.5" r="1.75"/>
<circle cx="115.6" cy="335.7" r="1.75"/>
<circle cx="128.6" cy="338.5" r="1.75"/>
<circle cx="111.4" cy="339.3" r="1.75"/>
<circle cx="119.5" cy="341.4" r="1.75"/>
<circle cx="111.4" cy="342.3" r="1.75"/>
<circle cx="127.5" cy="344.5" r="1.75"/>
<circle cx="154.6" cy="345.6" r="1.75"/>
<circle cx="125.5" cy="347.5" r="1.75"/>
<circle cx="147.7" cy="348.7" r="1.75"/>
<circle cx="102.4" cy="349.8" r="1.75"/>
<circle cx="122.2" cy="351.5" r="1.75"/>
<circle cx="132.6" cy="352.7" r="1.75"/>
<circle cx="123.4" cy="354.8" r="1.75"/>
<circle cx="103.4" cy="355.3" r="1.75"/>
<circle cx="114.3" cy="357.9" r="1.75"/>
<circle cx="85.5" cy="358.4" r="1.75"/>
<circle cx="70.4" cy="359.7" r="1.75"/>
<circle cx="82.6" cy="361.4" r="1.75"/>
<circle cx="82.0" cy="363.5" r="1.75"/>
<circle cx="88.6" cy="364.9" r="1.75"/>
<circle cx="94.4" cy="365.7" r="1.75"/>
<circle cx="90.4" cy="368.0" r="1.75"/>
<circle cx="91.2" cy="369.7" r="1.75"/>
<circle cx="96.1" cy="371.8" r="1.75"/>
<circle cx="103.4" cy="372.7" r="1.75"/>
<circle cx="108.6" cy="371.3" r="1.75"/>
<circle cx="134.7" cy="371.3" r="1.75"/>
<circle cx="139.5" cy="372.7" r="1.75"/>
<circle cx="131.5" cy="373.9" r="1.75"/>
<circle cx="79.1" cy="375.3" r="1.75"/>
<circle cx="84.7" cy="376.5" r="1.75"/>
<circle cx="73.9" cy="377.9" r="1.75"/>
<circle cx="70.4" cy="379.6" r="1.75"/>
<circle cx="73.0" cy="380.8" r="1.75"/>
<circle cx="70.4" cy="382.2" r="1.75"/>
<circle cx="77.4" cy="384.0" r="1.75"/>
<circle cx="152.9" cy="384.0" r="1.75"/>
<circle cx="70.4" cy="385.7" r="1.75"/>
<circle cx="73.0" cy="387.4" r="1.75"/>
<circle cx="74.8" cy="389.7" r="1.75"/>
<circle cx="100.3" cy="390.6" r="1.75"/>
<circle cx="70.4" cy="391.8" r="1.75"/>
<circle cx="69.3" cy="394.0" r="1.75"/>
<circle cx="68.9" cy="395.7" r="1.75"/>
<circle cx="69.1" cy="397.4" r="1.75"/>
<circle cx="68.6" cy="399.1" r="1.75"/>
<circle cx="68.6" cy="400.8" r="1.75"/>
<circle cx="77.0" cy="403.1" r="1.75"/>
<circle cx="87.4" cy="406.4" r="1.75"/>
<circle cx="68.6" cy="409.3" r="1.75"/>
<circle cx="80.8" cy="411.1" r="1.75"/>
<circle cx="68.6" cy="412.7" r="1.75"/>
<circle cx="74.8" cy="415.4" r="1.75"/>
<circle cx="75.6" cy="418.9" r="1.75"/>
<circle cx="68.8" cy="421.2" r="1.75"/>
<circle cx="80.0" cy="422.4" r="1.75"/>
<circle cx="69.4" cy="424.6" r="1.75"/>
<circle cx="69.3" cy="426.3" r="1.75"/>
<circle cx="69.8" cy="428.0" r="1.75"/>
<circle cx="69.3" cy="429.7" r="1.75"/>
<circle cx="69.7" cy="431.4" r="1.75"/>
<circle cx="69.5" cy="433.1" r="1.75"/>
<circle cx="69.0" cy="434.8" r="1.75"/>
<circle cx="78.2" cy="436.2" r="1.75"/>
<circle cx="74.8" cy="438.9" r="1.75"/>
<circle cx="79.1" cy="440.6" r="1.75"/>
<circle cx="86.0" cy="442.8" r="1.75"/>
<circle cx="100.3" cy="444.4" r="1.75"/>
<circle cx="80.5" cy="445.8" r="1.75"/>
<circle cx="83.4" cy="447.5" r="1.75"/>
<circle cx="77.4" cy="449.3" r="1.75"/>
<circle cx="83.4" cy="452.2" r="1.75"/>
<circle cx="78.2" cy="454.5" r="1.75"/>
<circle cx="127.4" cy="456.4" r="1.75"/>
<circle cx="124.2" cy="457.1" r="1.75"/>
<circle cx="76.5" cy="458.0" r="1.75"/>
<circle cx="79.1" cy="460.9" r="1.75"/>
<circle cx="92.3" cy="461.9" r="1.75"/>
<circle cx="68.6" cy="463.7" r="1.75"/>
<circle cx="69.0" cy="465.4" r="1.75"/>
<circle cx="80.0" cy="466.6" r="1.75"/>
<circle cx="68.9" cy="468.8" r="1.75"/>
<circle cx="80.5" cy="470.6" r="1.75"/>
<circle cx="76.5" cy="472.4" r="1.75"/>
<circle cx="69.5" cy="473.9" r="1.75"/>
<circle cx="69.7" cy="475.6" r="1.75"/>
<circle cx="69.5" cy="477.3" r="1.75"/>
<circle cx="70.1" cy="479.0" r="1.75"/>
<circle cx="69.6" cy="480.7" r="1.75"/>
<circle cx="69.5" cy="482.4" r="1.75"/>
<circle cx="69.8" cy="484.1" r="1.75"/>
<circle cx="69.4" cy="485.8" r="1.75"/>
<circle cx="69.4" cy="487.5" r="1.75"/>
<circle cx="68.8" cy="489.2" r="1.75"/>
<circle cx="69.0" cy="490.9" r="1.75"/>
<circle cx="69.3" cy="492.6" r="1.75"/>
<circle cx="69.4" cy="494.3" r="1.75"/>
<circle cx="69.9" cy="496.0" r="1.75"/>
<circle cx="69.7" cy="497.7" r="1.75"/>
<circle cx="69.9" cy="499.4" r="1.75"/>
<circle cx="70.0" cy="501.1" r="1.75"/>
<circle cx="70.1" cy="502.8" r="1.75"/>
<circle cx="70.0" cy="504.5" r="1.75"/>
<circle cx="70.5" cy="506.2" r="1.75"/>
<circle cx="70.6" cy="507.9" r="1.75"/>
<circle cx="70.6" cy="509.6" r="1.75"/>
<circle cx="70.6" cy="511.3" r="1.75"/>
<circle cx="74.8" cy="512.6" r="1.75"/>
<circle cx="70.3" cy="514.7" r="1.75"/>
<circle cx="76.5" cy="517.5" r="1.75"/>
<circle cx="70.6" cy="519.8" r="1.75"/>
<circle cx="70.3" cy="521.5" r="1.75"/>
<circle cx="70.2" cy="523.2" r="1.75"/>
<circle cx="70.4" cy="524.9" r="1.75"/>
<circle cx="69.8" cy="526.6" r="1.75"/>
<circle cx="69.8" cy="528.3" r="1.75"/>
<circle cx="69.4" cy="530.0" r="1.75"/>
<circle cx="68.9" cy="531.7" r="1.75"/>
<circle cx="68.6" cy="533.4" r="1.75"/>
<circle cx="68.9" cy="535.1" r="1.75"/>
<circle cx="68.6" cy="536.8" r="1.75"/>
<circle cx="68.6" cy="538.5" r="1.75"/>
<circle cx="68.6" cy="540.2" r="1.75"/>
<circle cx="79.1" cy="542.6" r="1.75"/>
<circle cx="90.4" cy="545.7" r="1.75"/>
<circle cx="68.7" cy="547.0" r="1.75"/>
<circle cx="69.1" cy="548.7" r="1.75"/>
<circle cx="69.5" cy="550.4" r="1.75"/>
<circle cx="69.9" cy="552.1" r="1.75"/>
<circle cx="74.8" cy="553.5" r="1.75"/>
<circle cx="69.6" cy="555.5" r="1.75"/>
<circle cx="69.4" cy="557.2" r="1.75"/>
<circle cx="69.9" cy="558.9" r="1.75"/>
<circle cx="70.4" cy="560.6" r="1.75"/>
<circle cx="70.0" cy="562.3" r="1.75"/>
<circle cx="69.6" cy="564.0" r="1.75"/>
<circle cx="69.3" cy="565.7" r="1.75"/>
<circle cx="69.0" cy="567.4" r="1.75"/>
<circle cx="68.9" cy="569.1" r="1.75"/>
<circle cx="69.1" cy="570.8" r="1.75"/>
<circle cx="68.8" cy="572.5" r="1.75"/>
<circle cx="68.6" cy="574.2" r="1.75"/>
<circle cx="68.6" cy="575.9" r="1.75"/>
<circle cx="68.6" cy="577.6" r="1.75"/>
<circle cx="68.7" cy="579.3" r="1.75"/>
<circle cx="69.2" cy="581.0" r="1.75"/>
<circle cx="69.5" cy="582.7" r="1.75"/>
<circle cx="69.5" cy="584.4" r="1.75"/>
<circle cx="69.6" cy="586.1" r="1.75"/>
<circle cx="74.8" cy="588.1" r="1.75"/>
<circle cx="69.3" cy="589.5" r="1.75"/>
<circle cx="69.8" cy="591.2" r="1.75"/>
<circle cx="70.1" cy="592.9" r="1.75"/>
<circle cx="70.6" cy="594.6" r="1.75"/>
<circle cx="70.6" cy="596.3" r="1.75"/>
<circle cx="70.5" cy="598.0" r="1.75"/>
<circle cx="70.3" cy="599.7" r="1.75"/>
<circle cx="69.9" cy="601.4" r="1.75"/>
<circle cx="70.0" cy="603.1" r="1.75"/>
<circle cx="69.5" cy="604.8" r="1.75"/>
<circle cx="69.0" cy="606.5" r="1.75"/>
<circle cx="68.6" cy="608.2" r="1.75"/>
<circle cx="68.6" cy="609.9" r="1.75"/>
<circle cx="68.6" cy="611.6" r="1.75"/>
<circle cx="68.6" cy="613.3" r="1.75"/>
<circle cx="75.3" cy="615.8" r="1.75"/>
</g>
<polyline points="331.7,58.4 323.5,61.5 313.4,64.4 305.6,67.4 304.2,70.7 301.5,73.3 304.8,76.8 304.8,79.7 302.5,82.7 301.5,86.1 303.5,87.2 314.7,90.5 322.6,93.8 301.5,96.6 305.6,99.9 331.7,102.6 311.4,106.6 299.5,111.0 301.5,115.0 299.5,122.6 300.8,126.6 303.9,131.8 302.5,135.6 301.5,140.0 300.4,144.0 304.8,148.0 301.5,151.8 302.5,157.0 302.5,161.0 300.4,164.8 300.4,165.9 299.5,168.8 316.4,172.8 313.4,176.3 303.5,178.9 308.6,181.1 301.5,183.8 299.5,187.2 297.3,190.5 300.4,192.3 303.5,195.0 308.6,198.0 317.4,201.1 301.5,202.8 301.5,206.1 309.6,208.9 302.5,211.9 338.6,214.1 305.6,216.7 314.7,220.2 321.4,221.9 360.7,225.2 351.6,228.4 340.7,230.5 342.8,233.2 309.6,235.8 303.5,237.0 305.6,239.3 311.4,241.0 323.5,243.1 309.6,245.2 322.3,247.1 316.4,248.3 305.6,250.9 302.5,254.4 304.8,256.5 309.6,258.2 303.5,260.1 309.6,263.4 306.5,266.2 308.6,268.6 324.7,270.9 310.8,271.4 332.5,274.4 309.6,279.2 316.4,282.5 310.5,284.4 302.5,287.6 307.4,290.2 310.5,292.3 323.5,295.4 316.4,298.0 322.3,300.6 310.5,302.9 306.5,309.3 306.5,312.4 309.6,315.4 304.8,318.0 310.5,319.7 314.7,322.3 306.5,323.5 312.6,325.8 316.4,328.4 304.8,330.1 303.5,331.9 313.4,334.5 307.4,336.6 314.7,340.6 306.5,340.6 308.6,344.9 310.5,346.6 314.7,348.9 306.5,351.5 304.2,354.4 314.3,357.9 302.5,360.5 302.5,364.0 302.5,366.6 317.4,368.9 319.5,371.5 352.2,374.8 418.0,376.7 300.4,379.6 305.6,382.6 310.5,384.5 313.4,386.6 302.5,387.8 319.5,390.4 309.6,393.0 303.5,396.6 308.6,401.0 319.5,403.9 331.7,407.1 304.8,408.8 303.5,411.9 300.4,414.0 299.5,417.2 300.8,420.3 303.0,422.7 300.8,425.0 299.5,427.9 301.5,430.2 301.5,432.8 346.9,435.0 313.4,437.6 371.9,441.1 351.6,442.8 397.1,446.0 389.8,448.1 394.7,451.0 369.9,452.9 414.1,456.0 312.6,458.0 305.6,461.1 360.7,463.2 310.5,466.1 310.5,468.4 341.7,471.1 301.5,473.2 298.7,476.2 299.5,478.8 298.7,481.4 298.7,484.0 317.4,487.1 299.5,490.1 300.8,493.5 298.7,496.5 298.7,499.6 297.3,502.2 300.8,505.3 309.6,508.3 313.8,511.2 314.7,514.4 302.5,517.3 307.4,520.9 309.6,523.5 332.5,526.6 312.6,528.2 300.4,531.8 311.4,533.4 300.4,535.6 321.4,538.6 299.5,541.4 299.5,543.4 337.7,545.7 299.5,548.6 298.7,551.8 301.5,554.7 321.4,557.7 304.8,559.9 299.5,562.5 299.5,565.5 300.8,568.6 301.8,571.7 297.3,574.2 300.8,576.8 298.7,579.9 299.5,582.2 305.6,585.1 299.5,586.8 299.5,590.3 300.8,593.8 301.5,597.3 301.8,599.9 306.5,603.0 300.8,605.6 299.5,608.5 299.5,611.1 298.7,613.8 303.5,615.8" fill="none" stroke="#231F20" stroke-width="0.95" stroke-linejoin="round"/>
<g fill="#fff" stroke="#231F20" stroke-width="0.9">
<circle cx="331.7" cy="58.4" r="1.45"/>
<circle cx="323.5" cy="61.5" r="1.45"/>
<circle cx="313.4" cy="64.4" r="1.45"/>
<circle cx="305.6" cy="67.4" r="1.45"/>
<circle cx="304.2" cy="70.7" r="1.45"/>
<circle cx="301.5" cy="73.3" r="1.45"/>
<circle cx="304.8" cy="76.8" r="1.45"/>
<circle cx="304.8" cy="79.7" r="1.45"/>
<circle cx="302.5" cy="82.7" r="1.45"/>
<circle cx="301.5" cy="86.1" r="1.45"/>
<circle cx="303.5" cy="87.2" r="1.45"/>
<circle cx="314.7" cy="90.5" r="1.45"/>
<circle cx="322.6" cy="93.8" r="1.45"/>
<circle cx="301.5" cy="96.6" r="1.45"/>
<circle cx="305.6" cy="99.9" r="1.45"/>
<circle cx="331.7" cy="102.6" r="1.45"/>
<circle cx="311.4" cy="106.6" r="1.45"/>
<circle cx="299.5" cy="111.0" r="1.45"/>
<circle cx="301.5" cy="115.0" r="1.45"/>
<circle cx="299.5" cy="122.6" r="1.45"/>
<circle cx="300.8" cy="126.6" r="1.45"/>
<circle cx="303.9" cy="131.8" r="1.45"/>
<circle cx="302.5" cy="135.6" r="1.45"/>
<circle cx="301.5" cy="140.0" r="1.45"/>
<circle cx="300.4" cy="144.0" r="1.45"/>
<circle cx="304.8" cy="148.0" r="1.45"/>
<circle cx="301.5" cy="151.8" r="1.45"/>
<circle cx="302.5" cy="157.0" r="1.45"/>
<circle cx="302.5" cy="161.0" r="1.45"/>
<circle cx="300.4" cy="164.8" r="1.45"/>
<circle cx="300.4" cy="165.9" r="1.45"/>
<circle cx="299.5" cy="168.8" r="1.45"/>
<circle cx="316.4" cy="172.8" r="1.45"/>
<circle cx="313.4" cy="176.3" r="1.45"/>
<circle cx="303.5" cy="178.9" r="1.45"/>
<circle cx="308.6" cy="181.1" r="1.45"/>
<circle cx="301.5" cy="183.8" r="1.45"/>
<circle cx="299.5" cy="187.2" r="1.45"/>
<circle cx="297.3" cy="190.5" r="1.45"/>
<circle cx="300.4" cy="192.3" r="1.45"/>
<circle cx="303.5" cy="195.0" r="1.45"/>
<circle cx="308.6" cy="198.0" r="1.45"/>
<circle cx="317.4" cy="201.1" r="1.45"/>
<circle cx="301.5" cy="202.8" r="1.45"/>
<circle cx="301.5" cy="206.1" r="1.45"/>
<circle cx="309.6" cy="208.9" r="1.45"/>
<circle cx="302.5" cy="211.9" r="1.45"/>
<circle cx="338.6" cy="214.1" r="1.45"/>
<circle cx="305.6" cy="216.7" r="1.45"/>
<circle cx="314.7" cy="220.2" r="1.45"/>
<circle cx="321.4" cy="221.9" r="1.45"/>
<circle cx="360.7" cy="225.2" r="1.45"/>
<circle cx="351.6" cy="228.4" r="1.45"/>
<circle cx="340.7" cy="230.5" r="1.45"/>
<circle cx="342.8" cy="233.2" r="1.45"/>
<circle cx="309.6" cy="235.8" r="1.45"/>
<circle cx="303.5" cy="237.0" r="1.45"/>
<circle cx="305.6" cy="239.3" r="1.45"/>
<circle cx="311.4" cy="241.0" r="1.45"/>
<circle cx="323.5" cy="243.1" r="1.45"/>
<circle cx="309.6" cy="245.2" r="1.45"/>
<circle cx="322.3" cy="247.1" r="1.45"/>
<circle cx="316.4" cy="248.3" r="1.45"/>
<circle cx="305.6" cy="250.9" r="1.45"/>
<circle cx="302.5" cy="254.4" r="1.45"/>
<circle cx="304.8" cy="256.5" r="1.45"/>
<circle cx="309.6" cy="258.2" r="1.45"/>
<circle cx="303.5" cy="260.1" r="1.45"/>
<circle cx="309.6" cy="263.4" r="1.45"/>
<circle cx="306.5" cy="266.2" r="1.45"/>
<circle cx="308.6" cy="268.6" r="1.45"/>
<circle cx="324.7" cy="270.9" r="1.45"/>
<circle cx="310.8" cy="271.4" r="1.45"/>
<circle cx="332.5" cy="274.4" r="1.45"/>
<circle cx="309.6" cy="279.2" r="1.45"/>
<circle cx="316.4" cy="282.5" r="1.45"/>
<circle cx="310.5" cy="284.4" r="1.45"/>
<circle cx="302.5" cy="287.6" r="1.45"/>
<circle cx="307.4" cy="290.2" r="1.45"/>
<circle cx="310.5" cy="292.3" r="1.45"/>
<circle cx="323.5" cy="295.4" r="1.45"/>
<circle cx="316.4" cy="298.0" r="1.45"/>
<circle cx="322.3" cy="300.6" r="1.45"/>
<circle cx="310.5" cy="302.9" r="1.45"/>
<circle cx="306.5" cy="309.3" r="1.45"/>
<circle cx="306.5" cy="312.4" r="1.45"/>
<circle cx="309.6" cy="315.4" r="1.45"/>
<circle cx="304.8" cy="318.0" r="1.45"/>
<circle cx="310.5" cy="319.7" r="1.45"/>
<circle cx="314.7" cy="322.3" r="1.45"/>
<circle cx="306.5" cy="323.5" r="1.45"/>
<circle cx="312.6" cy="325.8" r="1.45"/>
<circle cx="316.4" cy="328.4" r="1.45"/>
<circle cx="304.8" cy="330.1" r="1.45"/>
<circle cx="303.5" cy="331.9" r="1.45"/>
<circle cx="313.4" cy="334.5" r="1.45"/>
<circle cx="307.4" cy="336.6" r="1.45"/>
<circle cx="314.7" cy="340.6" r="1.45"/>
<circle cx="306.5" cy="340.6" r="1.45"/>
<circle cx="308.6" cy="344.9" r="1.45"/>
<circle cx="310.5" cy="346.6" r="1.45"/>
<circle cx="314.7" cy="348.9" r="1.45"/>
<circle cx="306.5" cy="351.5" r="1.45"/>
<circle cx="304.2" cy="354.4" r="1.45"/>
<circle cx="314.3" cy="357.9" r="1.45"/>
<circle cx="302.5" cy="360.5" r="1.45"/>
<circle cx="302.5" cy="364.0" r="1.45"/>
<circle cx="302.5" cy="366.6" r="1.45"/>
<circle cx="317.4" cy="368.9" r="1.45"/>
<circle cx="319.5" cy="371.5" r="1.45"/>
<circle cx="352.2" cy="374.8" r="1.45"/>
<circle cx="418.0" cy="376.7" r="1.45"/>
<circle cx="300.4" cy="379.6" r="1.45"/>
<circle cx="305.6" cy="382.6" r="1.45"/>
<circle cx="310.5" cy="384.5" r="1.45"/>
<circle cx="313.4" cy="386.6" r="1.45"/>
<circle cx="302.5" cy="387.8" r="1.45"/>
<circle cx="319.5" cy="390.4" r="1.45"/>
<circle cx="309.6" cy="393.0" r="1.45"/>
<circle cx="303.5" cy="396.6" r="1.45"/>
<circle cx="308.6" cy="401.0" r="1.45"/>
<circle cx="319.5" cy="403.9" r="1.45"/>
<circle cx="331.7" cy="407.1" r="1.45"/>
<circle cx="304.8" cy="408.8" r="1.45"/>
<circle cx="303.5" cy="411.9" r="1.45"/>
<circle cx="300.4" cy="414.0" r="1.45"/>
<circle cx="299.5" cy="417.2" r="1.45"/>
<circle cx="300.8" cy="420.3" r="1.45"/>
<circle cx="303.0" cy="422.7" r="1.45"/>
<circle cx="300.8" cy="425.0" r="1.45"/>
<circle cx="299.5" cy="427.9" r="1.45"/>
<circle cx="301.5" cy="430.2" r="1.45"/>
<circle cx="301.5" cy="432.8" r="1.45"/>
<circle cx="346.9" cy="435.0" r="1.45"/>
<circle cx="313.4" cy="437.6" r="1.45"/>
<circle cx="371.9" cy="441.1" r="1.45"/>
<circle cx="351.6" cy="442.8" r="1.45"/>
<circle cx="397.1" cy="446.0" r="1.45"/>
<circle cx="389.8" cy="448.1" r="1.45"/>
<circle cx="394.7" cy="451.0" r="1.45"/>
<circle cx="369.9" cy="452.9" r="1.45"/>
<circle cx="414.1" cy="456.0" r="1.45"/>
<circle cx="312.6" cy="458.0" r="1.45"/>
<circle cx="305.6" cy="461.1" r="1.45"/>
<circle cx="360.7" cy="463.2" r="1.45"/>
<circle cx="310.5" cy="466.1" r="1.45"/>
<circle cx="310.5" cy="468.4" r="1.45"/>
<circle cx="341.7" cy="471.1" r="1.45"/>
<circle cx="301.5" cy="473.2" r="1.45"/>
<circle cx="298.7" cy="476.2" r="1.45"/>
<circle cx="299.5" cy="478.8" r="1.45"/>
<circle cx="298.7" cy="481.4" r="1.45"/>
<circle cx="298.7" cy="484.0" r="1.45"/>
<circle cx="317.4" cy="487.1" r="1.45"/>
<circle cx="299.5" cy="490.1" r="1.45"/>
<circle cx="300.8" cy="493.5" r="1.45"/>
<circle cx="298.7" cy="496.5" r="1.45"/>
<circle cx="298.7" cy="499.6" r="1.45"/>
<circle cx="297.3" cy="502.2" r="1.45"/>
<circle cx="300.8" cy="505.3" r="1.45"/>
<circle cx="309.6" cy="508.3" r="1.45"/>
<circle cx="313.8" cy="511.2" r="1.45"/>
<circle cx="314.7" cy="514.4" r="1.45"/>
<circle cx="302.5" cy="517.3" r="1.45"/>
<circle cx="307.4" cy="520.9" r="1.45"/>
<circle cx="309.6" cy="523.5" r="1.45"/>
<circle cx="332.5" cy="526.6" r="1.45"/>
<circle cx="312.6" cy="528.2" r="1.45"/>
<circle cx="300.4" cy="531.8" r="1.45"/>
<circle cx="311.4" cy="533.4" r="1.45"/>
<circle cx="300.4" cy="535.6" r="1.45"/>
<circle cx="321.4" cy="538.6" r="1.45"/>
<circle cx="299.5" cy="541.4" r="1.45"/>
<circle cx="299.5" cy="543.4" r="1.45"/>
<circle cx="337.7" cy="545.7" r="1.45"/>
<circle cx="299.5" cy="548.6" r="1.45"/>
<circle cx="298.7" cy="551.8" r="1.45"/>
<circle cx="301.5" cy="554.7" r="1.45"/>
<circle cx="321.4" cy="557.7" r="1.45"/>
<circle cx="304.8" cy="559.9" r="1.45"/>
<circle cx="299.5" cy="562.5" r="1.45"/>
<circle cx="299.5" cy="565.5" r="1.45"/>
<circle cx="300.8" cy="568.6" r="1.45"/>
<circle cx="301.8" cy="571.7" r="1.45"/>
<circle cx="297.3" cy="574.2" r="1.45"/>
<circle cx="300.8" cy="576.8" r="1.45"/>
<circle cx="298.7" cy="579.9" r="1.45"/>
<circle cx="299.5" cy="582.2" r="1.45"/>
<circle cx="305.6" cy="585.1" r="1.45"/>
<circle cx="299.5" cy="586.8" r="1.45"/>
<circle cx="299.5" cy="590.3" r="1.45"/>
<circle cx="300.8" cy="593.8" r="1.45"/>
<circle cx="301.5" cy="597.3" r="1.45"/>
<circle cx="301.8" cy="599.9" r="1.45"/>
<circle cx="306.5" cy="603.0" r="1.45"/>
<circle cx="300.8" cy="605.6" r="1.45"/>
<circle cx="299.5" cy="608.5" r="1.45"/>
<circle cx="299.5" cy="611.1" r="1.45"/>
<circle cx="298.7" cy="613.8" r="1.45"/>
<circle cx="303.5" cy="615.8" r="1.45"/>
</g>
<polyline points="517.6,56.8 523.5,57.5 523.5,60.3 508.9,61.1 490.5,62.7 529.4,63.8 532.7,65.1 524.5,66.9 523.5,68.1 526.5,70.2 528.5,71.4 530.3,73.3 531.1,76.2 529.9,78.0 533.8,80.2 528.5,81.8 530.3,83.2 527.7,85.3 528.5,87.5 523.5,90.5 527.7,91.5 523.5,92.7 528.5,94.5 526.5,98.0 515.9,100.2 514.0,101.8 534.6,104.0 534.6,105.8 528.5,107.8 518.5,109.6 518.5,111.8 524.5,113.9 524.5,116.2 526.5,117.9 525.6,120.2 523.5,121.9 531.5,124.2 526.5,124.9 520.9,126.1 522.5,129.2 521.9,131.3 522.5,133.5 521.6,135.3 519.0,137.9 518.1,140.0 521.6,141.4 524.5,143.4 514.3,145.3 517.3,147.4 512.9,149.5 517.3,151.4 520.4,153.5 515.9,155.6 518.5,157.8 518.1,159.9 502.8,161.7 518.5,163.9 517.6,166.4 518.5,171.1 535.5,172.3 535.8,174.5 534.6,176.8 527.7,177.5 523.5,178.9 516.4,181.0 521.6,182.4 517.6,183.8 523.5,185.8 519.0,187.0 522.5,189.3 518.1,191.9 519.0,196.2 526.5,197.1 530.6,198.0 530.3,200.6 520.4,201.1 514.3,202.3 516.4,205.8 521.6,208.1 511.2,209.8 514.0,212.2 519.5,213.6 507.5,214.1 507.5,216.6 505.3,217.6 498.2,220.6 476.5,221.1 470.4,222.8 489.8,224.9 484.6,225.8 499.0,226.5 511.2,228.4 509.8,230.6 478.5,231.5 525.6,232.7 520.9,234.4 509.8,237.6 514.0,240.0 518.1,241.4 507.5,244.0 519.5,244.9 503.7,245.7 515.5,248.0 512.9,250.4 505.3,253.2 509.8,254.4 526.5,255.8 512.9,257.0 504.6,259.1 509.4,261.0 511.2,263.1 512.9,265.3 508.9,268.3 504.6,272.3 507.5,273.2 522.5,274.4 493.8,276.1 517.3,277.8 520.4,278.7 514.0,280.5 504.6,282.5 514.7,284.4 511.2,285.9 514.0,287.1 498.2,289.7 528.5,290.7 523.5,291.4 519.5,293.7 523.5,295.8 518.1,297.5 520.4,299.8 524.5,301.0 520.4,302.7 519.0,309.3 521.6,310.7 520.4,312.8 517.6,314.2 508.9,315.0 512.0,316.2 526.5,318.0 520.4,319.7 522.5,322.0 521.6,324.1 524.5,325.3 533.8,327.0 520.9,327.5 528.5,329.3 521.6,331.0 529.4,331.5 524.5,332.7 534.6,334.5 525.6,336.2 523.5,337.1 535.5,338.5 528.5,340.6 532.7,342.3 531.1,344.9 537.6,345.8 530.3,346.6 525.6,348.9 527.7,351.5 532.7,353.6 535.5,356.2 531.1,357.0 534.6,358.8 535.5,361.4 529.4,362.6 518.1,364.0 533.8,366.2 523.5,368.0 466.4,370.1 481.7,370.9 496.9,370.9 520.4,371.8 559.8,373.9 531.1,375.6 547.1,377.0 550.6,379.3 562.9,380.0 567.1,381.9 505.3,383.1 502.2,384.3 574.0,385.2 575.4,386.7 578.4,388.0 562.0,388.8 571.1,391.1 518.1,392.3 577.2,392.8 587.6,394.5 580.6,396.8 584.4,397.5 580.6,399.4 584.4,400.6 541.9,403.2 451.8,404.1 582.4,405.5 580.6,406.2 552.8,408.4 565.9,409.3 568.8,411.0 582.4,412.4 569.3,413.6 578.9,415.4 587.6,417.1 587.6,418.9 582.4,420.6 569.3,421.8 569.3,424.1 578.4,425.8 580.6,427.5 578.9,430.5 558.9,431.0 575.2,432.7 577.2,434.1 564.1,435.7 558.9,436.6 543.6,437.6 581.5,440.0 571.9,440.6 561.5,444.0 551.1,451.0 544.2,457.9 537.2,463.1 545.9,468.0 537.2,470.4 554.6,471.3 570.2,472.7 571.1,474.4 568.5,476.1 545.6,477.5 558.9,480.0 567.6,480.8 574.0,483.4 570.2,484.3 569.3,487.4 558.9,487.8 554.6,489.7 522.5,490.6 543.6,493.0 552.8,494.0 572.8,495.6 566.7,497.8 565.9,499.6 578.4,500.5 575.2,503.0 575.4,502.6 580.6,503.8 574.0,506.1 578.9,506.6 553.7,508.7 571.1,510.4 584.4,511.8 578.4,513.0 575.2,515.3 571.1,516.5 581.5,517.9 587.6,520.0 582.4,522.2 564.1,523.1 584.4,524.3 578.9,527.4 585.8,528.6 585.8,530.9 570.2,532.1 570.2,533.9 585.0,534.7 584.4,537.0 568.8,539.6 568.8,541.7 478.5,543.8 585.8,545.1 587.6,547.7 574.0,549.0 586.7,551.2 556.7,552.6 580.6,555.2 586.7,556.4 585.8,559.0 539.5,562.0 565.9,562.8 583.2,564.8 574.0,566.0 578.4,568.1 579.8,570.3 578.4,571.7 583.2,573.3 571.9,573.8 565.9,575.2 574.0,576.4 587.6,578.5 581.5,579.9 582.4,582.5 578.9,586.8 575.4,590.3 569.3,594.6 562.9,596.4 543.6,597.6 547.6,599.0 553.7,601.2 583.2,602.8 578.4,604.7 571.9,607.6 571.1,609.7 586.7,610.2 581.5,612.0 583.2,613.7 552.0,614.6" fill="none" stroke="#231F20" stroke-width="0.95" stroke-linejoin="round"/>
<g fill="#fff" stroke="#231F20" stroke-width="1.05">
<circle cx="517.6" cy="56.8" r="1.25"/>
<circle cx="523.5" cy="57.5" r="1.25"/>
<circle cx="523.5" cy="60.3" r="1.25"/>
<circle cx="508.9" cy="61.1" r="1.25"/>
<circle cx="490.5" cy="62.7" r="1.25"/>
<circle cx="529.4" cy="63.8" r="1.25"/>
<circle cx="532.7" cy="65.1" r="1.25"/>
<circle cx="524.5" cy="66.9" r="1.25"/>
<circle cx="523.5" cy="68.1" r="1.25"/>
<circle cx="526.5" cy="70.2" r="1.25"/>
<circle cx="528.5" cy="71.4" r="1.25"/>
<circle cx="530.3" cy="73.3" r="1.25"/>
<circle cx="531.1" cy="76.2" r="1.25"/>
<circle cx="529.9" cy="78.0" r="1.25"/>
<circle cx="533.8" cy="80.2" r="1.25"/>
<circle cx="528.5" cy="81.8" r="1.25"/>
<circle cx="530.3" cy="83.2" r="1.25"/>
<circle cx="527.7" cy="85.3" r="1.25"/>
<circle cx="528.5" cy="87.5" r="1.25"/>
<circle cx="523.5" cy="90.5" r="1.25"/>
<circle cx="527.7" cy="91.5" r="1.25"/>
<circle cx="523.5" cy="92.7" r="1.25"/>
<circle cx="528.5" cy="94.5" r="1.25"/>
<circle cx="526.5" cy="98.0" r="1.25"/>
<circle cx="515.9" cy="100.2" r="1.25"/>
<circle cx="514.0" cy="101.8" r="1.25"/>
<circle cx="534.6" cy="104.0" r="1.25"/>
<circle cx="534.6" cy="105.8" r="1.25"/>
<circle cx="528.5" cy="107.8" r="1.25"/>
<circle cx="518.5" cy="109.6" r="1.25"/>
<circle cx="518.5" cy="111.8" r="1.25"/>
<circle cx="524.5" cy="113.9" r="1.25"/>
<circle cx="524.5" cy="116.2" r="1.25"/>
<circle cx="526.5" cy="117.9" r="1.25"/>
<circle cx="525.6" cy="120.2" r="1.25"/>
<circle cx="523.5" cy="121.9" r="1.25"/>
<circle cx="531.5" cy="124.2" r="1.25"/>
<circle cx="526.5" cy="124.9" r="1.25"/>
<circle cx="520.9" cy="126.1" r="1.25"/>
<circle cx="522.5" cy="129.2" r="1.25"/>
<circle cx="521.9" cy="131.3" r="1.25"/>
<circle cx="522.5" cy="133.5" r="1.25"/>
<circle cx="521.6" cy="135.3" r="1.25"/>
<circle cx="519.0" cy="137.9" r="1.25"/>
<circle cx="518.1" cy="140.0" r="1.25"/>
<circle cx="521.6" cy="141.4" r="1.25"/>
<circle cx="524.5" cy="143.4" r="1.25"/>
<circle cx="514.3" cy="145.3" r="1.25"/>
<circle cx="517.3" cy="147.4" r="1.25"/>
<circle cx="512.9" cy="149.5" r="1.25"/>
<circle cx="517.3" cy="151.4" r="1.25"/>
<circle cx="520.4" cy="153.5" r="1.25"/>
<circle cx="515.9" cy="155.6" r="1.25"/>
<circle cx="518.5" cy="157.8" r="1.25"/>
<circle cx="518.1" cy="159.9" r="1.25"/>
<circle cx="502.8" cy="161.7" r="1.25"/>
<circle cx="518.5" cy="163.9" r="1.25"/>
<circle cx="517.6" cy="166.4" r="1.25"/>
<circle cx="518.5" cy="171.1" r="1.25"/>
<circle cx="535.5" cy="172.3" r="1.25"/>
<circle cx="535.8" cy="174.5" r="1.25"/>
<circle cx="534.6" cy="176.8" r="1.25"/>
<circle cx="527.7" cy="177.5" r="1.25"/>
<circle cx="523.5" cy="178.9" r="1.25"/>
<circle cx="516.4" cy="181.0" r="1.25"/>
<circle cx="521.6" cy="182.4" r="1.25"/>
<circle cx="517.6" cy="183.8" r="1.25"/>
<circle cx="523.5" cy="185.8" r="1.25"/>
<circle cx="519.0" cy="187.0" r="1.25"/>
<circle cx="522.5" cy="189.3" r="1.25"/>
<circle cx="518.1" cy="191.9" r="1.25"/>
<circle cx="519.0" cy="196.2" r="1.25"/>
<circle cx="526.5" cy="197.1" r="1.25"/>
<circle cx="530.6" cy="198.0" r="1.25"/>
<circle cx="530.3" cy="200.6" r="1.25"/>
<circle cx="520.4" cy="201.1" r="1.25"/>
<circle cx="514.3" cy="202.3" r="1.25"/>
<circle cx="516.4" cy="205.8" r="1.25"/>
<circle cx="521.6" cy="208.1" r="1.25"/>
<circle cx="511.2" cy="209.8" r="1.25"/>
<circle cx="514.0" cy="212.2" r="1.25"/>
<circle cx="519.5" cy="213.6" r="1.25"/>
<circle cx="507.5" cy="214.1" r="1.25"/>
<circle cx="507.5" cy="216.6" r="1.25"/>
<circle cx="505.3" cy="217.6" r="1.25"/>
<circle cx="498.2" cy="220.6" r="1.25"/>
<circle cx="476.5" cy="221.1" r="1.25"/>
<circle cx="470.4" cy="222.8" r="1.25"/>
<circle cx="489.8" cy="224.9" r="1.25"/>
<circle cx="484.6" cy="225.8" r="1.25"/>
<circle cx="499.0" cy="226.5" r="1.25"/>
<circle cx="511.2" cy="228.4" r="1.25"/>
<circle cx="509.8" cy="230.6" r="1.25"/>
<circle cx="478.5" cy="231.5" r="1.25"/>
<circle cx="525.6" cy="232.7" r="1.25"/>
<circle cx="520.9" cy="234.4" r="1.25"/>
<circle cx="509.8" cy="237.6" r="1.25"/>
<circle cx="514.0" cy="240.0" r="1.25"/>
<circle cx="518.1" cy="241.4" r="1.25"/>
<circle cx="507.5" cy="244.0" r="1.25"/>
<circle cx="519.5" cy="244.9" r="1.25"/>
<circle cx="503.7" cy="245.7" r="1.25"/>
<circle cx="515.5" cy="248.0" r="1.25"/>
<circle cx="512.9" cy="250.4" r="1.25"/>
<circle cx="505.3" cy="253.2" r="1.25"/>
<circle cx="509.8" cy="254.4" r="1.25"/>
<circle cx="526.5" cy="255.8" r="1.25"/>
<circle cx="512.9" cy="257.0" r="1.25"/>
<circle cx="504.6" cy="259.1" r="1.25"/>
<circle cx="509.4" cy="261.0" r="1.25"/>
<circle cx="511.2" cy="263.1" r="1.25"/>
<circle cx="512.9" cy="265.3" r="1.25"/>
<circle cx="508.9" cy="268.3" r="1.25"/>
<circle cx="504.6" cy="272.3" r="1.25"/>
<circle cx="507.5" cy="273.2" r="1.25"/>
<circle cx="522.5" cy="274.4" r="1.25"/>
<circle cx="493.8" cy="276.1" r="1.25"/>
<circle cx="517.3" cy="277.8" r="1.25"/>
<circle cx="520.4" cy="278.7" r="1.25"/>
<circle cx="514.0" cy="280.5" r="1.25"/>
<circle cx="504.6" cy="282.5" r="1.25"/>
<circle cx="514.7" cy="284.4" r="1.25"/>
<circle cx="511.2" cy="285.9" r="1.25"/>
<circle cx="514.0" cy="287.1" r="1.25"/>
<circle cx="498.2" cy="289.7" r="1.25"/>
<circle cx="528.5" cy="290.7" r="1.25"/>
<circle cx="523.5" cy="291.4" r="1.25"/>
<circle cx="519.5" cy="293.7" r="1.25"/>
<circle cx="523.5" cy="295.8" r="1.25"/>
<circle cx="518.1" cy="297.5" r="1.25"/>
<circle cx="520.4" cy="299.8" r="1.25"/>
<circle cx="524.5" cy="301.0" r="1.25"/>
<circle cx="520.4" cy="302.7" r="1.25"/>
<circle cx="519.0" cy="309.3" r="1.25"/>
<circle cx="521.6" cy="310.7" r="1.25"/>
<circle cx="520.4" cy="312.8" r="1.25"/>
<circle cx="517.6" cy="314.2" r="1.25"/>
<circle cx="508.9" cy="315.0" r="1.25"/>
<circle cx="512.0" cy="316.2" r="1.25"/>
<circle cx="526.5" cy="318.0" r="1.25"/>
<circle cx="520.4" cy="319.7" r="1.25"/>
<circle cx="522.5" cy="322.0" r="1.25"/>
<circle cx="521.6" cy="324.1" r="1.25"/>
<circle cx="524.5" cy="325.3" r="1.25"/>
<circle cx="533.8" cy="327.0" r="1.25"/>
<circle cx="520.9" cy="327.5" r="1.25"/>
<circle cx="528.5" cy="329.3" r="1.25"/>
<circle cx="521.6" cy="331.0" r="1.25"/>
<circle cx="529.4" cy="331.5" r="1.25"/>
<circle cx="524.5" cy="332.7" r="1.25"/>
<circle cx="534.6" cy="334.5" r="1.25"/>
<circle cx="525.6" cy="336.2" r="1.25"/>
<circle cx="523.5" cy="337.1" r="1.25"/>
<circle cx="535.5" cy="338.5" r="1.25"/>
<circle cx="528.5" cy="340.6" r="1.25"/>
<circle cx="532.7" cy="342.3" r="1.25"/>
<circle cx="531.1" cy="344.9" r="1.25"/>
<circle cx="537.6" cy="345.8" r="1.25"/>
<circle cx="530.3" cy="346.6" r="1.25"/>
<circle cx="525.6" cy="348.9" r="1.25"/>
<circle cx="527.7" cy="351.5" r="1.25"/>
<circle cx="532.7" cy="353.6" r="1.25"/>
<circle cx="535.5" cy="356.2" r="1.25"/>
<circle cx="531.1" cy="357.0" r="1.25"/>
<circle cx="534.6" cy="358.8" r="1.25"/>
<circle cx="535.5" cy="361.4" r="1.25"/>
<circle cx="529.4" cy="362.6" r="1.25"/>
<circle cx="518.1" cy="364.0" r="1.25"/>
<circle cx="533.8" cy="366.2" r="1.25"/>
<circle cx="523.5" cy="368.0" r="1.25"/>
<circle cx="466.4" cy="370.1" r="1.25"/>
<circle cx="481.7" cy="370.9" r="1.25"/>
<circle cx="496.9" cy="370.9" r="1.25"/>
<circle cx="520.4" cy="371.8" r="1.25"/>
<circle cx="559.8" cy="373.9" r="1.25"/>
<circle cx="531.1" cy="375.6" r="1.25"/>
<circle cx="547.1" cy="377.0" r="1.25"/>
<circle cx="550.6" cy="379.3" r="1.25"/>
<circle cx="562.9" cy="380.0" r="1.25"/>
<circle cx="567.1" cy="381.9" r="1.25"/>
<circle cx="505.3" cy="383.1" r="1.25"/>
<circle cx="502.2" cy="384.3" r="1.25"/>
<circle cx="574.0" cy="385.2" r="1.25"/>
<circle cx="575.4" cy="386.7" r="1.25"/>
<circle cx="578.4" cy="388.0" r="1.25"/>
<circle cx="562.0" cy="388.8" r="1.25"/>
<circle cx="571.1" cy="391.1" r="1.25"/>
<circle cx="518.1" cy="392.3" r="1.25"/>
<circle cx="577.2" cy="392.8" r="1.25"/>
<circle cx="587.6" cy="394.5" r="1.25"/>
<circle cx="580.6" cy="396.8" r="1.25"/>
<circle cx="584.4" cy="397.5" r="1.25"/>
<circle cx="580.6" cy="399.4" r="1.25"/>
<circle cx="584.4" cy="400.6" r="1.25"/>
<circle cx="541.9" cy="403.2" r="1.25"/>
<circle cx="451.8" cy="404.1" r="1.25"/>
<circle cx="582.4" cy="405.5" r="1.25"/>
<circle cx="580.6" cy="406.2" r="1.25"/>
<circle cx="552.8" cy="408.4" r="1.25"/>
<circle cx="565.9" cy="409.3" r="1.25"/>
<circle cx="568.8" cy="411.0" r="1.25"/>
<circle cx="582.4" cy="412.4" r="1.25"/>
<circle cx="569.3" cy="413.6" r="1.25"/>
<circle cx="578.9" cy="415.4" r="1.25"/>
<circle cx="587.6" cy="417.1" r="1.25"/>
<circle cx="587.6" cy="418.9" r="1.25"/>
<circle cx="582.4" cy="420.6" r="1.25"/>
<circle cx="569.3" cy="421.8" r="1.25"/>
<circle cx="569.3" cy="424.1" r="1.25"/>
<circle cx="578.4" cy="425.8" r="1.25"/>
<circle cx="580.6" cy="427.5" r="1.25"/>
<circle cx="578.9" cy="430.5" r="1.25"/>
<circle cx="558.9" cy="431.0" r="1.25"/>
<circle cx="575.2" cy="432.7" r="1.25"/>
<circle cx="577.2" cy="434.1" r="1.25"/>
<circle cx="564.1" cy="435.7" r="1.25"/>
<circle cx="558.9" cy="436.6" r="1.25"/>
<circle cx="543.6" cy="437.6" r="1.25"/>
<circle cx="581.5" cy="440.0" r="1.25"/>
<circle cx="571.9" cy="440.6" r="1.25"/>
<circle cx="561.5" cy="444.0" r="1.25"/>
<circle cx="551.1" cy="451.0" r="1.25"/>
<circle cx="544.2" cy="457.9" r="1.25"/>
<circle cx="537.2" cy="463.1" r="1.25"/>
<circle cx="545.9" cy="468.0" r="1.25"/>
<circle cx="537.2" cy="470.4" r="1.25"/>
<circle cx="554.6" cy="471.3" r="1.25"/>
<circle cx="570.2" cy="472.7" r="1.25"/>
<circle cx="571.1" cy="474.4" r="1.25"/>
<circle cx="568.5" cy="476.1" r="1.25"/>
<circle cx="545.6" cy="477.5" r="1.25"/>
<circle cx="558.9" cy="480.0" r="1.25"/>
<circle cx="567.6" cy="480.8" r="1.25"/>
<circle cx="574.0" cy="483.4" r="1.25"/>
<circle cx="570.2" cy="484.3" r="1.25"/>
<circle cx="569.3" cy="487.4" r="1.25"/>
<circle cx="558.9" cy="487.8" r="1.25"/>
<circle cx="554.6" cy="489.7" r="1.25"/>
<circle cx="522.5" cy="490.6" r="1.25"/>
<circle cx="543.6" cy="493.0" r="1.25"/>
<circle cx="552.8" cy="494.0" r="1.25"/>
<circle cx="572.8" cy="495.6" r="1.25"/>
<circle cx="566.7" cy="497.8" r="1.25"/>
<circle cx="565.9" cy="499.6" r="1.25"/>
<circle cx="578.4" cy="500.5" r="1.25"/>
<circle cx="575.2" cy="503.0" r="1.25"/>
<circle cx="575.4" cy="502.6" r="1.25"/>
<circle cx="580.6" cy="503.8" r="1.25"/>
<circle cx="574.0" cy="506.1" r="1.25"/>
<circle cx="578.9" cy="506.6" r="1.25"/>
<circle cx="553.7" cy="508.7" r="1.25"/>
<circle cx="571.1" cy="510.4" r="1.25"/>
<circle cx="584.4" cy="511.8" r="1.25"/>
<circle cx="578.4" cy="513.0" r="1.25"/>
<circle cx="575.2" cy="515.3" r="1.25"/>
<circle cx="571.1" cy="516.5" r="1.25"/>
<circle cx="581.5" cy="517.9" r="1.25"/>
<circle cx="587.6" cy="520.0" r="1.25"/>
<circle cx="582.4" cy="522.2" r="1.25"/>
<circle cx="564.1" cy="523.1" r="1.25"/>
<circle cx="584.4" cy="524.3" r="1.25"/>
<circle cx="578.9" cy="527.4" r="1.25"/>
<circle cx="585.8" cy="528.6" r="1.25"/>
<circle cx="585.8" cy="530.9" r="1.25"/>
<circle cx="570.2" cy="532.1" r="1.25"/>
<circle cx="570.2" cy="533.9" r="1.25"/>
<circle cx="585.0" cy="534.7" r="1.25"/>
<circle cx="584.4" cy="537.0" r="1.25"/>
<circle cx="568.8" cy="539.6" r="1.25"/>
<circle cx="568.8" cy="541.7" r="1.25"/>
<circle cx="478.5" cy="543.8" r="1.25"/>
<circle cx="585.8" cy="545.1" r="1.25"/>
<circle cx="587.6" cy="547.7" r="1.25"/>
<circle cx="574.0" cy="549.0" r="1.25"/>
<circle cx="586.7" cy="551.2" r="1.25"/>
<circle cx="556.7" cy="552.6" r="1.25"/>
<circle cx="580.6" cy="555.2" r="1.25"/>
<circle cx="586.7" cy="556.4" r="1.25"/>
<circle cx="585.8" cy="559.0" r="1.25"/>
<circle cx="539.5" cy="562.0" r="1.25"/>
<circle cx="565.9" cy="562.8" r="1.25"/>
<circle cx="583.2" cy="564.8" r="1.25"/>
<circle cx="574.0" cy="566.0" r="1.25"/>
<circle cx="578.4" cy="568.1" r="1.25"/>
<circle cx="579.8" cy="570.3" r="1.25"/>
<circle cx="578.4" cy="571.7" r="1.25"/>
<circle cx="583.2" cy="573.3" r="1.25"/>
<circle cx="571.9" cy="573.8" r="1.25"/>
<circle cx="565.9" cy="575.2" r="1.25"/>
<circle cx="574.0" cy="576.4" r="1.25"/>
<circle cx="587.6" cy="578.5" r="1.25"/>
<circle cx="581.5" cy="579.9" r="1.25"/>
<circle cx="582.4" cy="582.5" r="1.25"/>
<circle cx="578.9" cy="586.8" r="1.25"/>
<circle cx="575.4" cy="590.3" r="1.25"/>
<circle cx="569.3" cy="594.6" r="1.25"/>
<circle cx="562.9" cy="596.4" r="1.25"/>
<circle cx="543.6" cy="597.6" r="1.25"/>
<circle cx="547.6" cy="599.0" r="1.25"/>
<circle cx="553.7" cy="601.2" r="1.25"/>
<circle cx="583.2" cy="602.8" r="1.25"/>
<circle cx="578.4" cy="604.7" r="1.25"/>
<circle cx="571.9" cy="607.6" r="1.25"/>
<circle cx="571.1" cy="609.7" r="1.25"/>
<circle cx="586.7" cy="610.2" r="1.25"/>
<circle cx="581.5" cy="612.0" r="1.25"/>
<circle cx="583.2" cy="613.7" r="1.25"/>
<circle cx="552.0" cy="614.6" r="1.25"/>
</g>
<polyline points="696.5,56.1 708.6,57.8 698.8,59.4 677.9,60.8 675.7,62.2 704.8,63.8 722.7,65.1 718.7,66.9 721.7,70.0 718.7,70.7 701.4,72.4 722.7,73.8 698.8,75.6 712.6,76.4 704.8,78.7 711.2,79.5 718.7,81.6 715.6,82.8 718.7,85.1 708.6,87.4 717.8,88.2 711.2,90.8 703.1,92.9 691.5,94.1 704.0,95.9 719.6,96.7 712.6,98.6 701.4,99.9 704.8,101.6 731.7,103.0 728.3,105.1 721.7,108.0 709.7,109.8 698.8,111.5 719.6,113.8 714.7,115.1 721.7,117.6 720.5,120.2 714.7,122.4 703.1,124.2 715.6,125.9 694.4,128.0 697.7,129.9 707.4,133.2 715.6,134.9 699.6,137.2 702.2,138.9 698.8,140.9 714.7,142.6 704.0,144.7 712.6,146.6 699.6,149.5 707.4,151.3 689.5,153.4 706.0,155.3 698.8,157.4 692.7,159.4 651.4,162.0 659.3,164.0 680.5,166.0 696.5,167.8 704.0,170.0 728.3,171.8 733.8,173.3 737.3,174.7 730.9,176.8 713.5,177.7 718.7,178.5 706.0,180.8 711.2,183.4 697.7,184.6 721.7,185.5 703.1,187.2 721.7,188.3 715.6,190.3 717.0,193.0 712.1,194.2 681.4,196.8 719.6,197.8 727.4,200.2 714.7,201.1 706.0,202.8 701.4,204.2 692.7,205.1 688.5,206.8 695.3,208.1 685.4,210.8 699.6,211.2 704.8,213.8 714.7,215.5 687.5,217.6 709.7,218.5 699.6,220.2 694.4,221.2 687.5,222.5 704.0,224.2 653.6,225.1 668.7,226.8 691.5,228.2 651.4,229.4 654.5,230.8 706.0,232.0 718.7,234.1 677.0,235.0 707.4,236.9 668.7,239.0 683.1,238.4 679.7,241.0 697.7,240.7 715.6,241.9 690.1,243.0 709.7,244.2 696.1,244.7 673.2,245.6 666.1,246.4 712.1,247.6 697.7,249.0 674.8,250.2 643.2,252.3 686.6,253.2 667.5,254.6 717.0,256.3 681.4,257.2 673.9,258.4 641.5,260.9 645.3,261.7 712.1,262.6 691.5,265.2 696.1,266.1 700.5,265.6 714.7,267.8 706.0,269.0 708.6,271.3 704.0,272.5 713.5,274.8 692.7,276.0 701.4,276.8 712.6,278.2 708.6,279.4 704.0,280.8 699.6,282.6 712.1,283.4 709.7,285.2 712.6,286.9 718.7,287.4 697.7,289.2 718.7,290.4 715.6,292.1 704.0,293.0 709.7,294.2 714.7,296.1 708.6,297.7 711.2,299.6 715.6,301.1 706.9,302.0 672.5,309.1 699.6,310.3 712.1,310.9 699.6,312.1 697.7,313.8 708.6,314.7 711.2,315.9 726.5,317.3 706.0,318.5 716.1,319.9 716.1,322.5 721.7,324.8 715.6,326.0 724.8,327.2 713.5,328.6 721.7,330.3 715.6,332.0 723.9,333.8 716.1,335.5 723.9,337.3 713.5,339.9 719.6,340.7 712.6,343.0 719.6,345.4 708.0,346.3 694.4,347.7 701.4,349.9 704.0,352.0 717.0,353.8 718.7,355.8 719.6,358.1 701.4,359.3 672.5,361.0 694.4,361.9 676.2,364.2 696.1,364.7 723.9,367.1 692.7,368.5 698.8,371.1 672.5,370.6 677.9,371.1 704.0,372.8 670.6,375.5 713.5,376.4 713.5,377.6 668.7,380.7 664.0,381.6 641.5,382.8 683.5,382.5 677.0,384.0 689.5,385.4 621.5,386.6 670.6,388.5 674.8,389.8 638.0,390.6 687.5,392.4 696.1,392.9 681.4,394.1 691.5,395.5 693.5,397.0 713.5,399.0 709.7,401.0 694.4,402.8 651.4,404.0 689.5,405.4 697.0,406.8 686.6,407.6 682.6,409.7 654.5,410.6 666.1,411.5 661.9,411.8 653.6,414.4 625.5,415.8 638.5,417.2 669.2,418.4 700.1,420.5 680.5,421.4 630.2,422.2 689.5,424.1 703.4,425.3 708.6,426.2 704.8,428.0 707.4,429.7 698.8,430.0 685.4,431.8 695.3,433.2 680.5,434.0 688.5,435.8 682.3,436.6 701.4,437.5 708.0,439.6 693.5,440.1 686.6,441.0 683.1,447.9 677.9,456.6 674.4,463.5 673.2,468.8 688.5,469.6 697.0,470.5 702.2,472.7 697.0,474.0 669.2,475.7 688.5,475.2 685.4,477.8 701.4,478.6 706.0,480.4 691.8,481.2 673.2,483.5 660.6,484.4 656.4,486.6 687.5,488.7 673.9,490.1 683.1,491.0 679.7,492.7 684.5,493.1 616.8,494.8 706.9,497.3 673.9,498.1 691.8,499.3 681.4,501.1 690.1,502.5 670.6,503.7 663.2,505.8 694.4,507.5 698.8,506.8 685.4,510.6 694.4,511.8 682.6,512.7 691.8,513.2 698.8,515.0 711.2,517.0 706.9,519.3 702.2,520.7 700.1,522.4 696.5,525.4 630.2,526.8 629.3,528.5 628.8,530.2 640.6,531.1 645.8,532.0 634.9,534.1 673.9,535.3 669.2,537.2 694.4,540.1 667.5,541.0 660.2,542.4 653.6,544.0 692.7,544.8 685.4,546.2 679.7,547.6 685.4,550.2 695.3,551.4 680.9,553.7 704.8,554.5 699.6,556.6 706.0,557.5 695.3,559.2 704.0,560.5 685.4,561.8 676.7,563.2 685.4,564.1 680.9,566.2 673.2,569.1 685.4,570.0 697.0,571.4 686.6,573.1 691.5,573.5 686.6,575.7 699.6,576.6 704.0,578.0 703.4,580.4 706.0,582.3 707.4,584.8 694.9,585.3 701.4,590.0 706.0,591.4 704.8,594.0 698.8,595.7 690.1,597.4 703.4,599.2 683.5,600.9 702.2,602.3 693.5,604.0 704.0,606.1 699.6,607.5 704.8,608.2 697.7,610.5 698.8,611.8 683.5,613.9 704.0,614.8" fill="none" stroke="#231F20" stroke-width="0.95" stroke-linejoin="round"/>
<g fill="#fff" stroke="#231F20" stroke-width="1.05">
<circle cx="696.5" cy="56.1" r="1.25"/>
<circle cx="708.6" cy="57.8" r="1.25"/>
<circle cx="698.8" cy="59.4" r="1.25"/>
<circle cx="677.9" cy="60.8" r="1.25"/>
<circle cx="675.7" cy="62.2" r="1.25"/>
<circle cx="704.8" cy="63.8" r="1.25"/>
<circle cx="722.7" cy="65.1" r="1.25"/>
<circle cx="718.7" cy="66.9" r="1.25"/>
<circle cx="721.7" cy="70.0" r="1.25"/>
<circle cx="718.7" cy="70.7" r="1.25"/>
<circle cx="701.4" cy="72.4" r="1.25"/>
<circle cx="722.7" cy="73.8" r="1.25"/>
<circle cx="698.8" cy="75.6" r="1.25"/>
<circle cx="712.6" cy="76.4" r="1.25"/>
<circle cx="704.8" cy="78.7" r="1.25"/>
<circle cx="711.2" cy="79.5" r="1.25"/>
<circle cx="718.7" cy="81.6" r="1.25"/>
<circle cx="715.6" cy="82.8" r="1.25"/>
<circle cx="718.7" cy="85.1" r="1.25"/>
<circle cx="708.6" cy="87.4" r="1.25"/>
<circle cx="717.8" cy="88.2" r="1.25"/>
<circle cx="711.2" cy="90.8" r="1.25"/>
<circle cx="703.1" cy="92.9" r="1.25"/>
<circle cx="691.5" cy="94.1" r="1.25"/>
<circle cx="704.0" cy="95.9" r="1.25"/>
<circle cx="719.6" cy="96.7" r="1.25"/>
<circle cx="712.6" cy="98.6" r="1.25"/>
<circle cx="701.4" cy="99.9" r="1.25"/>
<circle cx="704.8" cy="101.6" r="1.25"/>
<circle cx="731.7" cy="103.0" r="1.25"/>
<circle cx="728.3" cy="105.1" r="1.25"/>
<circle cx="721.7" cy="108.0" r="1.25"/>
<circle cx="709.7" cy="109.8" r="1.25"/>
<circle cx="698.8" cy="111.5" r="1.25"/>
<circle cx="719.6" cy="113.8" r="1.25"/>
<circle cx="714.7" cy="115.1" r="1.25"/>
<circle cx="721.7" cy="117.6" r="1.25"/>
<circle cx="720.5" cy="120.2" r="1.25"/>
<circle cx="714.7" cy="122.4" r="1.25"/>
<circle cx="703.1" cy="124.2" r="1.25"/>
<circle cx="715.6" cy="125.9" r="1.25"/>
<circle cx="694.4" cy="128.0" r="1.25"/>
<circle cx="697.7" cy="129.9" r="1.25"/>
<circle cx="707.4" cy="133.2" r="1.25"/>
<circle cx="715.6" cy="134.9" r="1.25"/>
<circle cx="699.6" cy="137.2" r="1.25"/>
<circle cx="702.2" cy="138.9" r="1.25"/>
<circle cx="698.8" cy="140.9" r="1.25"/>
<circle cx="714.7" cy="142.6" r="1.25"/>
<circle cx="704.0" cy="144.7" r="1.25"/>
<circle cx="712.6" cy="146.6" r="1.25"/>
<circle cx="699.6" cy="149.5" r="1.25"/>
<circle cx="707.4" cy="151.3" r="1.25"/>
<circle cx="689.5" cy="153.4" r="1.25"/>
<circle cx="706.0" cy="155.3" r="1.25"/>
<circle cx="698.8" cy="157.4" r="1.25"/>
<circle cx="692.7" cy="159.4" r="1.25"/>
<circle cx="651.4" cy="162.0" r="1.25"/>
<circle cx="659.3" cy="164.0" r="1.25"/>
<circle cx="680.5" cy="166.0" r="1.25"/>
<circle cx="696.5" cy="167.8" r="1.25"/>
<circle cx="704.0" cy="170.0" r="1.25"/>
<circle cx="728.3" cy="171.8" r="1.25"/>
<circle cx="733.8" cy="173.3" r="1.25"/>
<circle cx="737.3" cy="174.7" r="1.25"/>
<circle cx="730.9" cy="176.8" r="1.25"/>
<circle cx="713.5" cy="177.7" r="1.25"/>
<circle cx="718.7" cy="178.5" r="1.25"/>
<circle cx="706.0" cy="180.8" r="1.25"/>
<circle cx="711.2" cy="183.4" r="1.25"/>
<circle cx="697.7" cy="184.6" r="1.25"/>
<circle cx="721.7" cy="185.5" r="1.25"/>
<circle cx="703.1" cy="187.2" r="1.25"/>
<circle cx="721.7" cy="188.3" r="1.25"/>
<circle cx="715.6" cy="190.3" r="1.25"/>
<circle cx="717.0" cy="193.0" r="1.25"/>
<circle cx="712.1" cy="194.2" r="1.25"/>
<circle cx="681.4" cy="196.8" r="1.25"/>
<circle cx="719.6" cy="197.8" r="1.25"/>
<circle cx="727.4" cy="200.2" r="1.25"/>
<circle cx="714.7" cy="201.1" r="1.25"/>
<circle cx="706.0" cy="202.8" r="1.25"/>
<circle cx="701.4" cy="204.2" r="1.25"/>
<circle cx="692.7" cy="205.1" r="1.25"/>
<circle cx="688.5" cy="206.8" r="1.25"/>
<circle cx="695.3" cy="208.1" r="1.25"/>
<circle cx="685.4" cy="210.8" r="1.25"/>
<circle cx="699.6" cy="211.2" r="1.25"/>
<circle cx="704.8" cy="213.8" r="1.25"/>
<circle cx="714.7" cy="215.5" r="1.25"/>
<circle cx="687.5" cy="217.6" r="1.25"/>
<circle cx="709.7" cy="218.5" r="1.25"/>
<circle cx="699.6" cy="220.2" r="1.25"/>
<circle cx="694.4" cy="221.2" r="1.25"/>
<circle cx="687.5" cy="222.5" r="1.25"/>
<circle cx="704.0" cy="224.2" r="1.25"/>
<circle cx="653.6" cy="225.1" r="1.25"/>
<circle cx="668.7" cy="226.8" r="1.25"/>
<circle cx="691.5" cy="228.2" r="1.25"/>
<circle cx="651.4" cy="229.4" r="1.25"/>
<circle cx="654.5" cy="230.8" r="1.25"/>
<circle cx="706.0" cy="232.0" r="1.25"/>
<circle cx="718.7" cy="234.1" r="1.25"/>
<circle cx="677.0" cy="235.0" r="1.25"/>
<circle cx="707.4" cy="236.9" r="1.25"/>
<circle cx="668.7" cy="239.0" r="1.25"/>
<circle cx="683.1" cy="238.4" r="1.25"/>
<circle cx="679.7" cy="241.0" r="1.25"/>
<circle cx="697.7" cy="240.7" r="1.25"/>
<circle cx="715.6" cy="241.9" r="1.25"/>
<circle cx="690.1" cy="243.0" r="1.25"/>
<circle cx="709.7" cy="244.2" r="1.25"/>
<circle cx="696.1" cy="244.7" r="1.25"/>
<circle cx="673.2" cy="245.6" r="1.25"/>
<circle cx="666.1" cy="246.4" r="1.25"/>
<circle cx="712.1" cy="247.6" r="1.25"/>
<circle cx="697.7" cy="249.0" r="1.25"/>
<circle cx="674.8" cy="250.2" r="1.25"/>
<circle cx="643.2" cy="252.3" r="1.25"/>
<circle cx="686.6" cy="253.2" r="1.25"/>
<circle cx="667.5" cy="254.6" r="1.25"/>
<circle cx="717.0" cy="256.3" r="1.25"/>
<circle cx="681.4" cy="257.2" r="1.25"/>
<circle cx="673.9" cy="258.4" r="1.25"/>
<circle cx="641.5" cy="260.9" r="1.25"/>
<circle cx="645.3" cy="261.7" r="1.25"/>
<circle cx="712.1" cy="262.6" r="1.25"/>
<circle cx="691.5" cy="265.2" r="1.25"/>
<circle cx="696.1" cy="266.1" r="1.25"/>
<circle cx="700.5" cy="265.6" r="1.25"/>
<circle cx="714.7" cy="267.8" r="1.25"/>
<circle cx="706.0" cy="269.0" r="1.25"/>
<circle cx="708.6" cy="271.3" r="1.25"/>
<circle cx="704.0" cy="272.5" r="1.25"/>
<circle cx="713.5" cy="274.8" r="1.25"/>
<circle cx="692.7" cy="276.0" r="1.25"/>
<circle cx="701.4" cy="276.8" r="1.25"/>
<circle cx="712.6" cy="278.2" r="1.25"/>
<circle cx="708.6" cy="279.4" r="1.25"/>
<circle cx="704.0" cy="280.8" r="1.25"/>
<circle cx="699.6" cy="282.6" r="1.25"/>
<circle cx="712.1" cy="283.4" r="1.25"/>
<circle cx="709.7" cy="285.2" r="1.25"/>
<circle cx="712.6" cy="286.9" r="1.25"/>
<circle cx="718.7" cy="287.4" r="1.25"/>
<circle cx="697.7" cy="289.2" r="1.25"/>
<circle cx="718.7" cy="290.4" r="1.25"/>
<circle cx="715.6" cy="292.1" r="1.25"/>
<circle cx="704.0" cy="293.0" r="1.25"/>
<circle cx="709.7" cy="294.2" r="1.25"/>
<circle cx="714.7" cy="296.1" r="1.25"/>
<circle cx="708.6" cy="297.7" r="1.25"/>
<circle cx="711.2" cy="299.6" r="1.25"/>
<circle cx="715.6" cy="301.1" r="1.25"/>
<circle cx="706.9" cy="302.0" r="1.25"/>
<circle cx="672.5" cy="309.1" r="1.25"/>
<circle cx="699.6" cy="310.3" r="1.25"/>
<circle cx="712.1" cy="310.9" r="1.25"/>
<circle cx="699.6" cy="312.1" r="1.25"/>
<circle cx="697.7" cy="313.8" r="1.25"/>
<circle cx="708.6" cy="314.7" r="1.25"/>
<circle cx="711.2" cy="315.9" r="1.25"/>
<circle cx="726.5" cy="317.3" r="1.25"/>
<circle cx="706.0" cy="318.5" r="1.25"/>
<circle cx="716.1" cy="319.9" r="1.25"/>
<circle cx="716.1" cy="322.5" r="1.25"/>
<circle cx="721.7" cy="324.8" r="1.25"/>
<circle cx="715.6" cy="326.0" r="1.25"/>
<circle cx="724.8" cy="327.2" r="1.25"/>
<circle cx="713.5" cy="328.6" r="1.25"/>
<circle cx="721.7" cy="330.3" r="1.25"/>
<circle cx="715.6" cy="332.0" r="1.25"/>
<circle cx="723.9" cy="333.8" r="1.25"/>
<circle cx="716.1" cy="335.5" r="1.25"/>
<circle cx="723.9" cy="337.3" r="1.25"/>
<circle cx="713.5" cy="339.9" r="1.25"/>
<circle cx="719.6" cy="340.7" r="1.25"/>
<circle cx="712.6" cy="343.0" r="1.25"/>
<circle cx="719.6" cy="345.4" r="1.25"/>
<circle cx="708.0" cy="346.3" r="1.25"/>
<circle cx="694.4" cy="347.7" r="1.25"/>
<circle cx="701.4" cy="349.9" r="1.25"/>
<circle cx="704.0" cy="352.0" r="1.25"/>
<circle cx="717.0" cy="353.8" r="1.25"/>
<circle cx="718.7" cy="355.8" r="1.25"/>
<circle cx="719.6" cy="358.1" r="1.25"/>
<circle cx="701.4" cy="359.3" r="1.25"/>
<circle cx="672.5" cy="361.0" r="1.25"/>
<circle cx="694.4" cy="361.9" r="1.25"/>
<circle cx="676.2" cy="364.2" r="1.25"/>
<circle cx="696.1" cy="364.7" r="1.25"/>
<circle cx="723.9" cy="367.1" r="1.25"/>
<circle cx="692.7" cy="368.5" r="1.25"/>
<circle cx="698.8" cy="371.1" r="1.25"/>
<circle cx="672.5" cy="370.6" r="1.25"/>
<circle cx="677.9" cy="371.1" r="1.25"/>
<circle cx="704.0" cy="372.8" r="1.25"/>
<circle cx="670.6" cy="375.5" r="1.25"/>
<circle cx="713.5" cy="376.4" r="1.25"/>
<circle cx="713.5" cy="377.6" r="1.25"/>
<circle cx="668.7" cy="380.7" r="1.25"/>
<circle cx="664.0" cy="381.6" r="1.25"/>
<circle cx="641.5" cy="382.8" r="1.25"/>
<circle cx="683.5" cy="382.5" r="1.25"/>
<circle cx="677.0" cy="384.0" r="1.25"/>
<circle cx="689.5" cy="385.4" r="1.25"/>
<circle cx="621.5" cy="386.6" r="1.25"/>
<circle cx="670.6" cy="388.5" r="1.25"/>
<circle cx="674.8" cy="389.8" r="1.25"/>
<circle cx="638.0" cy="390.6" r="1.25"/>
<circle cx="687.5" cy="392.4" r="1.25"/>
<circle cx="696.1" cy="392.9" r="1.25"/>
<circle cx="681.4" cy="394.1" r="1.25"/>
<circle cx="691.5" cy="395.5" r="1.25"/>
<circle cx="693.5" cy="397.0" r="1.25"/>
<circle cx="713.5" cy="399.0" r="1.25"/>
<circle cx="709.7" cy="401.0" r="1.25"/>
<circle cx="694.4" cy="402.8" r="1.25"/>
<circle cx="651.4" cy="404.0" r="1.25"/>
<circle cx="689.5" cy="405.4" r="1.25"/>
<circle cx="697.0" cy="406.8" r="1.25"/>
<circle cx="686.6" cy="407.6" r="1.25"/>
<circle cx="682.6" cy="409.7" r="1.25"/>
<circle cx="654.5" cy="410.6" r="1.25"/>
<circle cx="666.1" cy="411.5" r="1.25"/>
<circle cx="661.9" cy="411.8" r="1.25"/>
<circle cx="653.6" cy="414.4" r="1.25"/>
<circle cx="625.5" cy="415.8" r="1.25"/>
<circle cx="638.5" cy="417.2" r="1.25"/>
<circle cx="669.2" cy="418.4" r="1.25"/>
<circle cx="700.1" cy="420.5" r="1.25"/>
<circle cx="680.5" cy="421.4" r="1.25"/>
<circle cx="630.2" cy="422.2" r="1.25"/>
<circle cx="689.5" cy="424.1" r="1.25"/>
<circle cx="703.4" cy="425.3" r="1.25"/>
<circle cx="708.6" cy="426.2" r="1.25"/>
<circle cx="704.8" cy="428.0" r="1.25"/>
<circle cx="707.4" cy="429.7" r="1.25"/>
<circle cx="698.8" cy="430.0" r="1.25"/>
<circle cx="685.4" cy="431.8" r="1.25"/>
<circle cx="695.3" cy="433.2" r="1.25"/>
<circle cx="680.5" cy="434.0" r="1.25"/>
<circle cx="688.5" cy="435.8" r="1.25"/>
<circle cx="682.3" cy="436.6" r="1.25"/>
<circle cx="701.4" cy="437.5" r="1.25"/>
<circle cx="708.0" cy="439.6" r="1.25"/>
<circle cx="693.5" cy="440.1" r="1.25"/>
<circle cx="686.6" cy="441.0" r="1.25"/>
<circle cx="683.1" cy="447.9" r="1.25"/>
<circle cx="677.9" cy="456.6" r="1.25"/>
<circle cx="674.4" cy="463.5" r="1.25"/>
<circle cx="673.2" cy="468.8" r="1.25"/>
<circle cx="688.5" cy="469.6" r="1.25"/>
<circle cx="697.0" cy="470.5" r="1.25"/>
<circle cx="702.2" cy="472.7" r="1.25"/>
<circle cx="697.0" cy="474.0" r="1.25"/>
<circle cx="669.2" cy="475.7" r="1.25"/>
<circle cx="688.5" cy="475.2" r="1.25"/>
<circle cx="685.4" cy="477.8" r="1.25"/>
<circle cx="701.4" cy="478.6" r="1.25"/>
<circle cx="706.0" cy="480.4" r="1.25"/>
<circle cx="691.8" cy="481.2" r="1.25"/>
<circle cx="673.2" cy="483.5" r="1.25"/>
<circle cx="660.6" cy="484.4" r="1.25"/>
<circle cx="656.4" cy="486.6" r="1.25"/>
<circle cx="687.5" cy="488.7" r="1.25"/>
<circle cx="673.9" cy="490.1" r="1.25"/>
<circle cx="683.1" cy="491.0" r="1.25"/>
<circle cx="679.7" cy="492.7" r="1.25"/>
<circle cx="684.5" cy="493.1" r="1.25"/>
<circle cx="616.8" cy="494.8" r="1.25"/>
<circle cx="706.9" cy="497.3" r="1.25"/>
<circle cx="673.9" cy="498.1" r="1.25"/>
<circle cx="691.8" cy="499.3" r="1.25"/>
<circle cx="681.4" cy="501.1" r="1.25"/>
<circle cx="690.1" cy="502.5" r="1.25"/>
<circle cx="670.6" cy="503.7" r="1.25"/>
<circle cx="663.2" cy="505.8" r="1.25"/>
<circle cx="694.4" cy="507.5" r="1.25"/>
<circle cx="698.8" cy="506.8" r="1.25"/>
<circle cx="685.4" cy="510.6" r="1.25"/>
<circle cx="694.4" cy="511.8" r="1.25"/>
<circle cx="682.6" cy="512.7" r="1.25"/>
<circle cx="691.8" cy="513.2" r="1.25"/>
<circle cx="698.8" cy="515.0" r="1.25"/>
<circle cx="711.2" cy="517.0" r="1.25"/>
<circle cx="706.9" cy="519.3" r="1.25"/>
<circle cx="702.2" cy="520.7" r="1.25"/>
<circle cx="700.1" cy="522.4" r="1.25"/>
<circle cx="696.5" cy="525.4" r="1.25"/>
<circle cx="630.2" cy="526.8" r="1.25"/>
<circle cx="629.3" cy="528.5" r="1.25"/>
<circle cx="628.8" cy="530.2" r="1.25"/>
<circle cx="640.6" cy="531.1" r="1.25"/>
<circle cx="645.8" cy="532.0" r="1.25"/>
<circle cx="634.9" cy="534.1" r="1.25"/>
<circle cx="673.9" cy="535.3" r="1.25"/>
<circle cx="669.2" cy="537.2" r="1.25"/>
<circle cx="694.4" cy="540.1" r="1.25"/>
<circle cx="667.5" cy="541.0" r="1.25"/>
<circle cx="660.2" cy="542.4" r="1.25"/>
<circle cx="653.6" cy="544.0" r="1.25"/>
<circle cx="692.7" cy="544.8" r="1.25"/>
<circle cx="685.4" cy="546.2" r="1.25"/>
<circle cx="679.7" cy="547.6" r="1.25"/>
<circle cx="685.4" cy="550.2" r="1.25"/>
<circle cx="695.3" cy="551.4" r="1.25"/>
<circle cx="680.9" cy="553.7" r="1.25"/>
<circle cx="704.8" cy="554.5" r="1.25"/>
<circle cx="699.6" cy="556.6" r="1.25"/>
<circle cx="706.0" cy="557.5" r="1.25"/>
<circle cx="695.3" cy="559.2" r="1.25"/>
<circle cx="704.0" cy="560.5" r="1.25"/>
<circle cx="685.4" cy="561.8" r="1.25"/>
<circle cx="676.7" cy="563.2" r="1.25"/>
<circle cx="685.4" cy="564.1" r="1.25"/>
<circle cx="680.9" cy="566.2" r="1.25"/>
<circle cx="673.2" cy="569.1" r="1.25"/>
<circle cx="685.4" cy="570.0" r="1.25"/>
<circle cx="697.0" cy="571.4" r="1.25"/>
<circle cx="686.6" cy="573.1" r="1.25"/>
<circle cx="691.5" cy="573.5" r="1.25"/>
<circle cx="686.6" cy="575.7" r="1.25"/>
<circle cx="699.6" cy="576.6" r="1.25"/>
<circle cx="704.0" cy="578.0" r="1.25"/>
<circle cx="703.4" cy="580.4" r="1.25"/>
<circle cx="706.0" cy="582.3" r="1.25"/>
<circle cx="707.4" cy="584.8" r="1.25"/>
<circle cx="694.9" cy="585.3" r="1.25"/>
<circle cx="701.4" cy="590.0" r="1.25"/>
<circle cx="706.0" cy="591.4" r="1.25"/>
<circle cx="704.8" cy="594.0" r="1.25"/>
<circle cx="698.8" cy="595.7" r="1.25"/>
<circle cx="690.1" cy="597.4" r="1.25"/>
<circle cx="703.4" cy="599.2" r="1.25"/>
<circle cx="683.5" cy="600.9" r="1.25"/>
<circle cx="702.2" cy="602.3" r="1.25"/>
<circle cx="693.5" cy="604.0" r="1.25"/>
<circle cx="704.0" cy="606.1" r="1.25"/>
<circle cx="699.6" cy="607.5" r="1.25"/>
<circle cx="704.8" cy="608.2" r="1.25"/>
<circle cx="697.7" cy="610.5" r="1.25"/>
<circle cx="698.8" cy="611.8" r="1.25"/>
<circle cx="683.5" cy="613.9" r="1.25"/>
<circle cx="704.0" cy="614.8" r="1.25"/>
</g>
<polyline points="804.1,61.8 788.8,64.4 782.9,67.2 778.0,70.2 775.8,72.8 775.8,75.9 777.2,79.2 777.5,81.8 775.8,84.9 775.8,87.5 777.5,90.5 780.6,93.1 788.8,96.2 776.8,99.3 778.0,101.9 789.7,104.9 781.5,108.7 776.8,112.4 777.2,115.8 776.3,120.5 776.8,124.9 777.5,129.5 778.9,133.5 778.9,137.9 777.5,141.4 777.2,145.7 778.9,150.0 776.8,154.0 777.2,158.7 777.2,163.1 778.9,167.6 776.8,171.1 798.0,175.1 785.5,178.0 782.4,180.6 780.6,183.6 778.0,186.4 775.8,188.4 775.8,191.4 778.0,194.2 778.0,196.8 786.4,200.1 784.6,202.8 778.0,206.1 776.8,208.4 779.8,210.5 776.8,212.7 805.8,216.4 778.0,219.2 781.5,221.8 786.4,224.4 907.9,224.4" fill="none" stroke="#231F20" stroke-width="0.95" stroke-linejoin="round"/>
<polyline points="907.9,229.6 845.9,229.9 802.0,232.7 813.6,235.5 778.9,237.6 777.2,239.7 778.9,241.4 780.6,243.5 784.6,244.9 782.4,246.6 788.4,249.2 781.5,250.1 778.0,252.7 778.0,255.3 779.8,257.9 782.0,259.6 778.9,263.8 779.8,266.9 780.6,270.1 779.8,272.5 789.3,272.5 788.8,275.6 780.6,281.2 780.6,283.4 778.0,286.0 779.8,289.5 780.6,291.8 778.9,294.2 785.5,296.8 781.5,299.9 786.4,301.7 778.0,309.5 778.0,312.1 777.2,314.3 779.8,316.8 778.9,319.0 781.5,320.8 778.0,322.2 784.6,324.2 779.8,326.0 785.5,327.7 778.0,328.6 786.4,330.0 780.6,331.2 784.6,332.0 778.9,333.8 784.6,336.4 778.9,337.3 780.6,339.9 778.9,342.5 780.6,345.1 779.8,347.7 780.6,350.3 780.6,352.9 779.8,355.5 785.5,359.3 781.5,361.9 777.2,365.0 778.9,368.0 791.4,369.9 794.5,372.8 801.1,375.5 815.3,377.6 776.8,380.2 788.4,383.2 778.9,387.2 776.8,390.6 780.6,393.8 776.8,397.2 775.8,400.2 778.0,402.8 780.6,407.1 776.8,411.5 775.8,415.8 775.8,420.1 775.8,422.7 775.8,425.3 775.8,428.0 775.8,430.6 777.5,434.9 775.8,439.2 779.8,444.1 815.3,446.7 811.0,448.8 822.3,451.4 782.9,454.5 784.6,457.5 776.8,459.5 780.6,460.9 775.8,464.4 776.8,467.9 775.8,471.4 775.8,475.7 774.9,478.6 774.9,481.6 774.9,484.5 774.9,487.5 774.9,490.5 774.9,493.4 774.9,495.9 775.4,498.8 775.4,501.8 775.4,504.7 775.4,507.7 775.8,510.6 776.3,512.4 782.9,515.3 775.8,517.6 775.8,520.5 775.8,523.5 775.4,526.4 775.8,529.4 775.8,532.3 776.1,535.3 775.4,538.2 775.8,541.2 775.8,544.1 775.4,547.1 775.8,550.0 775.4,553.0 775.8,555.9 776.1,558.9 775.8,561.8 776.1,564.8 776.1,567.7 775.8,570.7 775.8,573.6 775.4,576.6 775.4,579.5 775.8,582.5 776.1,585.5 775.8,588.4 776.1,591.4 775.8,594.3 776.1,597.3 776.1,600.2 775.8,603.2 778.0,605.2 778.0,607.8 777.2,610.5 776.1,613.1 776.5,614.8" fill="none" stroke="#231F20" stroke-width="0.95" stroke-linejoin="round"/>
<g fill="#fff" stroke="#231F20" stroke-width="0.9">
<circle cx="804.1" cy="61.8" r="1.45"/>
<circle cx="788.8" cy="64.4" r="1.45"/>
<circle cx="782.9" cy="67.2" r="1.45"/>
<circle cx="778.0" cy="70.2" r="1.45"/>
<circle cx="775.8" cy="72.8" r="1.45"/>
<circle cx="775.8" cy="75.9" r="1.45"/>
<circle cx="777.2" cy="79.2" r="1.45"/>
<circle cx="777.5" cy="81.8" r="1.45"/>
<circle cx="775.8" cy="84.9" r="1.45"/>
<circle cx="775.8" cy="87.5" r="1.45"/>
<circle cx="777.5" cy="90.5" r="1.45"/>
<circle cx="780.6" cy="93.1" r="1.45"/>
<circle cx="788.8" cy="96.2" r="1.45"/>
<circle cx="776.8" cy="99.3" r="1.45"/>
<circle cx="778.0" cy="101.9" r="1.45"/>
<circle cx="789.7" cy="104.9" r="1.45"/>
<circle cx="781.5" cy="108.7" r="1.45"/>
<circle cx="776.8" cy="112.4" r="1.45"/>
<circle cx="777.2" cy="115.8" r="1.45"/>
<circle cx="776.3" cy="120.5" r="1.45"/>
<circle cx="776.8" cy="124.9" r="1.45"/>
<circle cx="777.5" cy="129.5" r="1.45"/>
<circle cx="778.9" cy="133.5" r="1.45"/>
<circle cx="778.9" cy="137.9" r="1.45"/>
<circle cx="777.5" cy="141.4" r="1.45"/>
<circle cx="777.2" cy="145.7" r="1.45"/>
<circle cx="778.9" cy="150.0" r="1.45"/>
<circle cx="776.8" cy="154.0" r="1.45"/>
<circle cx="777.2" cy="158.7" r="1.45"/>
<circle cx="777.2" cy="163.1" r="1.45"/>
<circle cx="778.9" cy="167.6" r="1.45"/>
<circle cx="776.8" cy="171.1" r="1.45"/>
<circle cx="798.0" cy="175.1" r="1.45"/>
<circle cx="785.5" cy="178.0" r="1.45"/>
<circle cx="782.4" cy="180.6" r="1.45"/>
<circle cx="780.6" cy="183.6" r="1.45"/>
<circle cx="778.0" cy="186.4" r="1.45"/>
<circle cx="775.8" cy="188.4" r="1.45"/>
<circle cx="775.8" cy="191.4" r="1.45"/>
<circle cx="778.0" cy="194.2" r="1.45"/>
<circle cx="778.0" cy="196.8" r="1.45"/>
<circle cx="786.4" cy="200.1" r="1.45"/>
<circle cx="784.6" cy="202.8" r="1.45"/>
<circle cx="778.0" cy="206.1" r="1.45"/>
<circle cx="776.8" cy="208.4" r="1.45"/>
<circle cx="779.8" cy="210.5" r="1.45"/>
<circle cx="776.8" cy="212.7" r="1.45"/>
<circle cx="805.8" cy="216.4" r="1.45"/>
<circle cx="778.0" cy="219.2" r="1.45"/>
<circle cx="781.5" cy="221.8" r="1.45"/>
<circle cx="786.4" cy="224.4" r="1.45"/>
<circle cx="845.9" cy="229.9" r="1.45"/>
<circle cx="802.0" cy="232.7" r="1.45"/>
<circle cx="813.6" cy="235.5" r="1.45"/>
<circle cx="778.9" cy="237.6" r="1.45"/>
<circle cx="777.2" cy="239.7" r="1.45"/>
<circle cx="778.9" cy="241.4" r="1.45"/>
<circle cx="780.6" cy="243.5" r="1.45"/>
<circle cx="784.6" cy="244.9" r="1.45"/>
<circle cx="782.4" cy="246.6" r="1.45"/>
<circle cx="788.4" cy="249.2" r="1.45"/>
<circle cx="781.5" cy="250.1" r="1.45"/>
<circle cx="778.0" cy="252.7" r="1.45"/>
<circle cx="778.0" cy="255.3" r="1.45"/>
<circle cx="779.8" cy="257.9" r="1.45"/>
<circle cx="782.0" cy="259.6" r="1.45"/>
<circle cx="778.9" cy="263.8" r="1.45"/>
<circle cx="779.8" cy="266.9" r="1.45"/>
<circle cx="780.6" cy="270.1" r="1.45"/>
<circle cx="779.8" cy="272.5" r="1.45"/>
<circle cx="789.3" cy="272.5" r="1.45"/>
<circle cx="788.8" cy="275.6" r="1.45"/>
<circle cx="780.6" cy="281.2" r="1.45"/>
<circle cx="780.6" cy="283.4" r="1.45"/>
<circle cx="778.0" cy="286.0" r="1.45"/>
<circle cx="779.8" cy="289.5" r="1.45"/>
<circle cx="780.6" cy="291.8" r="1.45"/>
<circle cx="778.9" cy="294.2" r="1.45"/>
<circle cx="785.5" cy="296.8" r="1.45"/>
<circle cx="781.5" cy="299.9" r="1.45"/>
<circle cx="786.4" cy="301.7" r="1.45"/>
<circle cx="778.0" cy="309.5" r="1.45"/>
<circle cx="778.0" cy="312.1" r="1.45"/>
<circle cx="777.2" cy="314.3" r="1.45"/>
<circle cx="779.8" cy="316.8" r="1.45"/>
<circle cx="778.9" cy="319.0" r="1.45"/>
<circle cx="781.5" cy="320.8" r="1.45"/>
<circle cx="778.0" cy="322.2" r="1.45"/>
<circle cx="784.6" cy="324.2" r="1.45"/>
<circle cx="779.8" cy="326.0" r="1.45"/>
<circle cx="785.5" cy="327.7" r="1.45"/>
<circle cx="778.0" cy="328.6" r="1.45"/>
<circle cx="786.4" cy="330.0" r="1.45"/>
<circle cx="780.6" cy="331.2" r="1.45"/>
<circle cx="784.6" cy="332.0" r="1.45"/>
<circle cx="778.9" cy="333.8" r="1.45"/>
<circle cx="784.6" cy="336.4" r="1.45"/>
<circle cx="778.9" cy="337.3" r="1.45"/>
<circle cx="780.6" cy="339.9" r="1.45"/>
<circle cx="778.9" cy="342.5" r="1.45"/>
<circle cx="780.6" cy="345.1" r="1.45"/>
<circle cx="779.8" cy="347.7" r="1.45"/>
<circle cx="780.6" cy="350.3" r="1.45"/>
<circle cx="780.6" cy="352.9" r="1.45"/>
<circle cx="779.8" cy="355.5" r="1.45"/>
<circle cx="785.5" cy="359.3" r="1.45"/>
<circle cx="781.5" cy="361.9" r="1.45"/>
<circle cx="777.2" cy="365.0" r="1.45"/>
<circle cx="778.9" cy="368.0" r="1.45"/>
<circle cx="791.4" cy="369.9" r="1.45"/>
<circle cx="794.5" cy="372.8" r="1.45"/>
<circle cx="801.1" cy="375.5" r="1.45"/>
<circle cx="815.3" cy="377.6" r="1.45"/>
<circle cx="776.8" cy="380.2" r="1.45"/>
<circle cx="788.4" cy="383.2" r="1.45"/>
<circle cx="778.9" cy="387.2" r="1.45"/>
<circle cx="776.8" cy="390.6" r="1.45"/>
<circle cx="780.6" cy="393.8" r="1.45"/>
<circle cx="776.8" cy="397.2" r="1.45"/>
<circle cx="775.8" cy="400.2" r="1.45"/>
<circle cx="778.0" cy="402.8" r="1.45"/>
<circle cx="780.6" cy="407.1" r="1.45"/>
<circle cx="776.8" cy="411.5" r="1.45"/>
<circle cx="775.8" cy="415.8" r="1.45"/>
<circle cx="775.8" cy="420.1" r="1.45"/>
<circle cx="775.8" cy="422.7" r="1.45"/>
<circle cx="775.8" cy="425.3" r="1.45"/>
<circle cx="775.8" cy="428.0" r="1.45"/>
<circle cx="775.8" cy="430.6" r="1.45"/>
<circle cx="777.5" cy="434.9" r="1.45"/>
<circle cx="775.8" cy="439.2" r="1.45"/>
<circle cx="779.8" cy="444.1" r="1.45"/>
<circle cx="815.3" cy="446.7" r="1.45"/>
<circle cx="811.0" cy="448.8" r="1.45"/>
<circle cx="822.3" cy="451.4" r="1.45"/>
<circle cx="782.9" cy="454.5" r="1.45"/>
<circle cx="784.6" cy="457.5" r="1.45"/>
<circle cx="776.8" cy="459.5" r="1.45"/>
<circle cx="780.6" cy="460.9" r="1.45"/>
<circle cx="775.8" cy="464.4" r="1.45"/>
<circle cx="776.8" cy="467.9" r="1.45"/>
<circle cx="775.8" cy="471.4" r="1.45"/>
<circle cx="775.8" cy="475.7" r="1.45"/>
<circle cx="774.9" cy="478.6" r="1.45"/>
<circle cx="774.9" cy="481.6" r="1.45"/>
<circle cx="774.9" cy="484.5" r="1.45"/>
<circle cx="774.9" cy="487.5" r="1.45"/>
<circle cx="774.9" cy="490.5" r="1.45"/>
<circle cx="774.9" cy="493.4" r="1.45"/>
<circle cx="774.9" cy="495.9" r="1.45"/>
<circle cx="775.4" cy="498.8" r="1.45"/>
<circle cx="775.4" cy="501.8" r="1.45"/>
<circle cx="775.4" cy="504.7" r="1.45"/>
<circle cx="775.4" cy="507.7" r="1.45"/>
<circle cx="775.8" cy="510.6" r="1.45"/>
<circle cx="776.3" cy="512.4" r="1.45"/>
<circle cx="782.9" cy="515.3" r="1.45"/>
<circle cx="775.8" cy="517.6" r="1.45"/>
<circle cx="775.8" cy="520.5" r="1.45"/>
<circle cx="775.8" cy="523.5" r="1.45"/>
<circle cx="775.4" cy="526.4" r="1.45"/>
<circle cx="775.8" cy="529.4" r="1.45"/>
<circle cx="775.8" cy="532.3" r="1.45"/>
<circle cx="776.1" cy="535.3" r="1.45"/>
<circle cx="775.4" cy="538.2" r="1.45"/>
<circle cx="775.8" cy="541.2" r="1.45"/>
<circle cx="775.8" cy="544.1" r="1.45"/>
<circle cx="775.4" cy="547.1" r="1.45"/>
<circle cx="775.8" cy="550.0" r="1.45"/>
<circle cx="775.4" cy="553.0" r="1.45"/>
<circle cx="775.8" cy="555.9" r="1.45"/>
<circle cx="776.1" cy="558.9" r="1.45"/>
<circle cx="775.8" cy="561.8" r="1.45"/>
<circle cx="776.1" cy="564.8" r="1.45"/>
<circle cx="776.1" cy="567.7" r="1.45"/>
<circle cx="775.8" cy="570.7" r="1.45"/>
<circle cx="775.8" cy="573.6" r="1.45"/>
<circle cx="775.4" cy="576.6" r="1.45"/>
<circle cx="775.4" cy="579.5" r="1.45"/>
<circle cx="775.8" cy="582.5" r="1.45"/>
<circle cx="776.1" cy="585.5" r="1.45"/>
<circle cx="775.8" cy="588.4" r="1.45"/>
<circle cx="776.1" cy="591.4" r="1.45"/>
<circle cx="775.8" cy="594.3" r="1.45"/>
<circle cx="776.1" cy="597.3" r="1.45"/>
<circle cx="776.1" cy="600.2" r="1.45"/>
<circle cx="775.8" cy="603.2" r="1.45"/>
<circle cx="778.0" cy="605.2" r="1.45"/>
<circle cx="778.0" cy="607.8" r="1.45"/>
<circle cx="777.2" cy="610.5" r="1.45"/>
<circle cx="776.1" cy="613.1" r="1.45"/>
<circle cx="776.5" cy="614.8" r="1.45"/>
</g>
<polyline points="937.4,60.3 937.4,63.2 939.6,65.8 942.6,69.0 946.9,71.9 943.4,75.9 941.4,78.9 939.1,81.5 951.4,84.4 944.3,86.7 940.5,89.8 938.8,92.7 937.0,95.7 941.4,98.5 939.6,101.4 937.9,104.0 941.4,107.8 944.3,111.8 942.9,116.2 940.5,124.0 945.2,124.3 942.9,129.2 942.9,132.7 945.5,137.5 945.2,141.4 940.0,144.8 941.4,149.2 941.4,154.0 940.0,157.5 940.0,162.2 942.2,166.7 942.2,170.2 937.0,174.5 939.1,177.5 940.0,181.0 938.2,183.2 937.9,185.8 950.6,187.9 967.7,191.0 943.8,193.3 938.2,196.8 938.2,199.7 939.1,202.3 939.1,205.5 943.8,207.2 939.1,210.5 938.8,213.3 937.0,216.2 938.2,218.8 938.2,221.9 937.4,225.8 937.4,228.4 937.4,231.0 937.4,234.4 940.8,236.5 945.2,238.8 951.4,240.5 943.4,242.3 939.1,244.5 941.4,246.2 938.8,248.3 939.6,250.9 938.8,253.5 938.8,257.0 937.9,259.6 940.5,261.7 937.4,264.8 937.0,267.4 938.2,270.4 937.4,272.6 937.0,274.4 938.2,280.5 937.0,283.9 937.4,286.7 937.4,291.1 941.4,293.7 937.4,297.2 937.0,301.5 938.8,311.0 940.5,313.6 938.2,316.2 943.4,317.6 944.7,319.7 940.5,320.6 942.6,322.3 938.8,324.1 940.8,326.7 937.4,328.4 942.2,331.0 938.8,332.7 937.0,336.2 942.2,339.7 938.2,341.4 937.9,344.9 937.0,348.4 937.0,351.0 937.4,353.6 938.8,356.2 939.6,359.7 940.8,362.3 942.6,364.9 937.4,367.5 937.0,370.1 937.9,372.7 939.1,375.3 940.5,377.9 943.8,380.1 940.8,383.6 940.0,386.6 943.8,387.8 940.5,390.0 940.8,393.5 941.4,397.0 942.2,399.6 941.4,402.1 949.5,404.3 942.2,407.3 943.8,409.5 940.8,412.5 941.4,415.3 942.2,417.9 943.8,420.8 950.6,422.6 953.5,425.7 949.5,428.1 948.6,431.2 944.7,433.0 949.5,436.1 946.0,438.5 943.8,441.3 942.6,443.9 938.8,446.5 937.0,448.6 937.0,451.2 940.8,454.2 940.8,456.8 953.5,459.0 949.5,461.6 962.9,463.7 943.8,466.3 952.3,469.4 950.6,471.5 946.4,474.1 947.8,476.4 942.9,479.0 998.1,481.6 982.2,484.7 985.6,487.7 963.9,490.3 992.6,494.1 1012.7,496.7 982.2,499.8 1003.0,502.8 976.1,505.4 958.2,508.5 947.8,511.1 1008.5,514.1 996.4,517.1 956.1,520.7 975.2,523.7 958.2,526.8 962.9,528.5 955.2,531.5 946.4,533.2 950.6,536.2 955.2,538.8 956.1,541.0 948.6,543.6 953.5,545.9 959.1,548.0 959.9,551.5 949.5,554.1 945.5,557.2 949.5,560.1 951.4,563.1 950.6,565.9 947.4,568.5 949.5,571.4 948.6,574.4 975.2,577.0 1022.1,579.2 964.8,581.8 989.4,584.8 984.2,587.4 998.1,589.7 972.4,592.3 984.6,594.3 982.8,596.9 979.0,600.1 979.0,603.0 940.8,604.8 941.7,607.5 946.4,610.5 944.3,613.4 942.6,615.3" fill="none" stroke="#231F20" stroke-width="0.95" stroke-linejoin="round"/>
<g fill="#fff" stroke="#231F20" stroke-width="0.95">
<circle cx="937.4" cy="60.3" r="1.85"/>
<circle cx="937.4" cy="63.2" r="1.85"/>
<circle cx="939.6" cy="65.8" r="1.85"/>
<circle cx="942.6" cy="69.0" r="1.85"/>
<circle cx="946.9" cy="71.9" r="1.85"/>
<circle cx="943.4" cy="75.9" r="1.85"/>
<circle cx="941.4" cy="78.9" r="1.85"/>
<circle cx="939.1" cy="81.5" r="1.85"/>
<circle cx="951.4" cy="84.4" r="1.85"/>
<circle cx="944.3" cy="86.7" r="1.85"/>
<circle cx="940.5" cy="89.8" r="1.85"/>
<circle cx="938.8" cy="92.7" r="1.85"/>
<circle cx="937.0" cy="95.7" r="1.85"/>
<circle cx="941.4" cy="98.5" r="1.85"/>
<circle cx="939.6" cy="101.4" r="1.85"/>
<circle cx="937.9" cy="104.0" r="1.85"/>
<circle cx="941.4" cy="107.8" r="1.85"/>
<circle cx="944.3" cy="111.8" r="1.85"/>
<circle cx="942.9" cy="116.2" r="1.85"/>
<circle cx="940.5" cy="124.0" r="1.85"/>
<circle cx="945.2" cy="124.3" r="1.85"/>
<circle cx="942.9" cy="129.2" r="1.85"/>
<circle cx="942.9" cy="132.7" r="1.85"/>
<circle cx="945.5" cy="137.5" r="1.85"/>
<circle cx="945.2" cy="141.4" r="1.85"/>
<circle cx="940.0" cy="144.8" r="1.85"/>
<circle cx="941.4" cy="149.2" r="1.85"/>
<circle cx="941.4" cy="154.0" r="1.85"/>
<circle cx="940.0" cy="157.5" r="1.85"/>
<circle cx="940.0" cy="162.2" r="1.85"/>
<circle cx="942.2" cy="166.7" r="1.85"/>
<circle cx="942.2" cy="170.2" r="1.85"/>
<circle cx="937.0" cy="174.5" r="1.85"/>
<circle cx="939.1" cy="177.5" r="1.85"/>
<circle cx="940.0" cy="181.0" r="1.85"/>
<circle cx="938.2" cy="183.2" r="1.85"/>
<circle cx="937.9" cy="185.8" r="1.85"/>
<circle cx="950.6" cy="187.9" r="1.85"/>
<circle cx="967.7" cy="191.0" r="1.85"/>
<circle cx="943.8" cy="193.3" r="1.85"/>
<circle cx="938.2" cy="196.8" r="1.85"/>
<circle cx="938.2" cy="199.7" r="1.85"/>
<circle cx="939.1" cy="202.3" r="1.85"/>
<circle cx="939.1" cy="205.5" r="1.85"/>
<circle cx="943.8" cy="207.2" r="1.85"/>
<circle cx="939.1" cy="210.5" r="1.85"/>
<circle cx="938.8" cy="213.3" r="1.85"/>
<circle cx="937.0" cy="216.2" r="1.85"/>
<circle cx="938.2" cy="218.8" r="1.85"/>
<circle cx="938.2" cy="221.9" r="1.85"/>
<circle cx="937.4" cy="225.8" r="1.85"/>
<circle cx="937.4" cy="228.4" r="1.85"/>
<circle cx="937.4" cy="231.0" r="1.85"/>
<circle cx="937.4" cy="234.4" r="1.85"/>
<circle cx="940.8" cy="236.5" r="1.85"/>
<circle cx="945.2" cy="238.8" r="1.85"/>
<circle cx="951.4" cy="240.5" r="1.85"/>
<circle cx="943.4" cy="242.3" r="1.85"/>
<circle cx="939.1" cy="244.5" r="1.85"/>
<circle cx="941.4" cy="246.2" r="1.85"/>
<circle cx="938.8" cy="248.3" r="1.85"/>
<circle cx="939.6" cy="250.9" r="1.85"/>
<circle cx="938.8" cy="253.5" r="1.85"/>
<circle cx="938.8" cy="257.0" r="1.85"/>
<circle cx="937.9" cy="259.6" r="1.85"/>
<circle cx="940.5" cy="261.7" r="1.85"/>
<circle cx="937.4" cy="264.8" r="1.85"/>
<circle cx="937.0" cy="267.4" r="1.85"/>
<circle cx="938.2" cy="270.4" r="1.85"/>
<circle cx="937.4" cy="272.6" r="1.85"/>
<circle cx="937.0" cy="274.4" r="1.85"/>
<circle cx="938.2" cy="280.5" r="1.85"/>
<circle cx="937.0" cy="283.9" r="1.85"/>
<circle cx="937.4" cy="286.7" r="1.85"/>
<circle cx="937.4" cy="291.1" r="1.85"/>
<circle cx="941.4" cy="293.7" r="1.85"/>
<circle cx="937.4" cy="297.2" r="1.85"/>
<circle cx="937.0" cy="301.5" r="1.85"/>
<circle cx="938.8" cy="311.0" r="1.85"/>
<circle cx="940.5" cy="313.6" r="1.85"/>
<circle cx="938.2" cy="316.2" r="1.85"/>
<circle cx="943.4" cy="317.6" r="1.85"/>
<circle cx="944.7" cy="319.7" r="1.85"/>
<circle cx="940.5" cy="320.6" r="1.85"/>
<circle cx="942.6" cy="322.3" r="1.85"/>
<circle cx="938.8" cy="324.1" r="1.85"/>
<circle cx="940.8" cy="326.7" r="1.85"/>
<circle cx="937.4" cy="328.4" r="1.85"/>
<circle cx="942.2" cy="331.0" r="1.85"/>
<circle cx="938.8" cy="332.7" r="1.85"/>
<circle cx="937.0" cy="336.2" r="1.85"/>
<circle cx="942.2" cy="339.7" r="1.85"/>
<circle cx="938.2" cy="341.4" r="1.85"/>
<circle cx="937.9" cy="344.9" r="1.85"/>
<circle cx="937.0" cy="348.4" r="1.85"/>
<circle cx="937.0" cy="351.0" r="1.85"/>
<circle cx="937.4" cy="353.6" r="1.85"/>
<circle cx="938.8" cy="356.2" r="1.85"/>
<circle cx="939.6" cy="359.7" r="1.85"/>
<circle cx="940.8" cy="362.3" r="1.85"/>
<circle cx="942.6" cy="364.9" r="1.85"/>
<circle cx="937.4" cy="367.5" r="1.85"/>
<circle cx="937.0" cy="370.1" r="1.85"/>
<circle cx="937.9" cy="372.7" r="1.85"/>
<circle cx="939.1" cy="375.3" r="1.85"/>
<circle cx="940.5" cy="377.9" r="1.85"/>
<circle cx="943.8" cy="380.1" r="1.85"/>
<circle cx="940.8" cy="383.6" r="1.85"/>
<circle cx="940.0" cy="386.6" r="1.85"/>
<circle cx="943.8" cy="387.8" r="1.85"/>
<circle cx="940.5" cy="390.0" r="1.85"/>
<circle cx="940.8" cy="393.5" r="1.85"/>
<circle cx="941.4" cy="397.0" r="1.85"/>
<circle cx="942.2" cy="399.6" r="1.85"/>
<circle cx="941.4" cy="402.1" r="1.85"/>
<circle cx="949.5" cy="404.3" r="1.85"/>
<circle cx="942.2" cy="407.3" r="1.85"/>
<circle cx="943.8" cy="409.5" r="1.85"/>
<circle cx="940.8" cy="412.5" r="1.85"/>
<circle cx="941.4" cy="415.3" r="1.85"/>
<circle cx="942.2" cy="417.9" r="1.85"/>
<circle cx="943.8" cy="420.8" r="1.85"/>
<circle cx="950.6" cy="422.6" r="1.85"/>
<circle cx="953.5" cy="425.7" r="1.85"/>
<circle cx="949.5" cy="428.1" r="1.85"/>
<circle cx="948.6" cy="431.2" r="1.85"/>
<circle cx="944.7" cy="433.0" r="1.85"/>
<circle cx="949.5" cy="436.1" r="1.85"/>
<circle cx="946.0" cy="438.5" r="1.85"/>
<circle cx="943.8" cy="441.3" r="1.85"/>
<circle cx="942.6" cy="443.9" r="1.85"/>
<circle cx="938.8" cy="446.5" r="1.85"/>
<circle cx="937.0" cy="448.6" r="1.85"/>
<circle cx="937.0" cy="451.2" r="1.85"/>
<circle cx="940.8" cy="454.2" r="1.85"/>
<circle cx="940.8" cy="456.8" r="1.85"/>
<circle cx="953.5" cy="459.0" r="1.85"/>
<circle cx="949.5" cy="461.6" r="1.85"/>
<circle cx="962.9" cy="463.7" r="1.85"/>
<circle cx="943.8" cy="466.3" r="1.85"/>
<circle cx="952.3" cy="469.4" r="1.85"/>
<circle cx="950.6" cy="471.5" r="1.85"/>
<circle cx="946.4" cy="474.1" r="1.85"/>
<circle cx="947.8" cy="476.4" r="1.85"/>
<circle cx="942.9" cy="479.0" r="1.85"/>
<circle cx="998.1" cy="481.6" r="1.85"/>
<circle cx="982.2" cy="484.7" r="1.85"/>
<circle cx="985.6" cy="487.7" r="1.85"/>
<circle cx="963.9" cy="490.3" r="1.85"/>
<circle cx="992.6" cy="494.1" r="1.85"/>
<circle cx="1012.7" cy="496.7" r="1.85"/>
<circle cx="982.2" cy="499.8" r="1.85"/>
<circle cx="1003.0" cy="502.8" r="1.85"/>
<circle cx="976.1" cy="505.4" r="1.85"/>
<circle cx="958.2" cy="508.5" r="1.85"/>
<circle cx="947.8" cy="511.1" r="1.85"/>
<circle cx="1008.5" cy="514.1" r="1.85"/>
<circle cx="996.4" cy="517.1" r="1.85"/>
<circle cx="956.1" cy="520.7" r="1.85"/>
<circle cx="975.2" cy="523.7" r="1.85"/>
<circle cx="958.2" cy="526.8" r="1.85"/>
<circle cx="962.9" cy="528.5" r="1.85"/>
<circle cx="955.2" cy="531.5" r="1.85"/>
<circle cx="946.4" cy="533.2" r="1.85"/>
<circle cx="950.6" cy="536.2" r="1.85"/>
<circle cx="955.2" cy="538.8" r="1.85"/>
<circle cx="956.1" cy="541.0" r="1.85"/>
<circle cx="948.6" cy="543.6" r="1.85"/>
<circle cx="953.5" cy="545.9" r="1.85"/>
<circle cx="959.1" cy="548.0" r="1.85"/>
<circle cx="959.9" cy="551.5" r="1.85"/>
<circle cx="949.5" cy="554.1" r="1.85"/>
<circle cx="945.5" cy="557.2" r="1.85"/>
<circle cx="949.5" cy="560.1" r="1.85"/>
<circle cx="951.4" cy="563.1" r="1.85"/>
<circle cx="950.6" cy="565.9" r="1.85"/>
<circle cx="947.4" cy="568.5" r="1.85"/>
<circle cx="949.5" cy="571.4" r="1.85"/>
<circle cx="948.6" cy="574.4" r="1.85"/>
<circle cx="975.2" cy="577.0" r="1.85"/>
<circle cx="1022.1" cy="579.2" r="1.85"/>
<circle cx="964.8" cy="581.8" r="1.85"/>
<circle cx="989.4" cy="584.8" r="1.85"/>
<circle cx="984.2" cy="587.4" r="1.85"/>
<circle cx="998.1" cy="589.7" r="1.85"/>
<circle cx="972.4" cy="592.3" r="1.85"/>
<circle cx="984.6" cy="594.3" r="1.85"/>
<circle cx="982.8" cy="596.9" r="1.85"/>
<circle cx="979.0" cy="600.1" r="1.85"/>
<circle cx="979.0" cy="603.0" r="1.85"/>
<circle cx="940.8" cy="604.8" r="1.85"/>
<circle cx="941.7" cy="607.5" r="1.85"/>
<circle cx="946.4" cy="610.5" r="1.85"/>
<circle cx="944.3" cy="613.4" r="1.85"/>
<circle cx="942.6" cy="615.3" r="1.85"/>
</g>
<polyline points="1077.9,60.3 1079.3,63.2 1078.4,65.8 1077.9,68.4 1079.3,71.0 1078.8,73.6 1078.8,76.2 1078.8,79.2 1081.0,83.2 1080.2,86.7 1078.8,89.8 1077.9,92.4 1077.9,95.3 1078.8,98.0 1077.6,100.6 1077.9,103.7 1078.8,106.6 1080.2,111.0 1078.8,115.3 1079.7,124.3 1078.8,128.3 1078.8,131.8 1078.8,136.1 1078.8,140.1 1078.8,144.5 1078.8,148.8 1079.3,152.6 1080.2,157.5 1077.6,161.0 1077.9,164.8 1078.8,165.9 1078.8,169.3 1077.6,172.8 1077.6,175.4 1077.6,178.5 1077.6,181.5 1077.9,184.4 1081.0,187.6 1090.6,190.7 1079.7,193.3 1077.9,196.2 1078.4,199.2 1077.6,201.8 1078.4,204.6 1078.8,207.5 1078.8,210.5 1078.8,213.1 1077.9,215.7 1078.8,218.3 1077.6,221.4 1075.0,225.8 1077.9,228.4 1078.8,231.0 1078.8,234.4 1078.8,237.4 1079.3,240.2 1077.9,243.1 1078.8,245.7 1077.6,248.3 1077.9,251.8 1079.3,254.9 1078.4,257.9 1078.8,261.7 1077.9,264.8 1077.9,268.3 1077.9,271.8 1076.7,274.9 1077.9,279.6 1077.9,283.1 1078.4,287.6 1077.9,291.9 1079.3,296.3 1077.6,300.6 1077.9,309.3 1077.9,311.9 1078.4,315.4 1081.0,318.9 1077.9,320.6 1078.8,322.3 1079.3,324.9 1078.4,327.5 1078.8,330.1 1077.9,332.7 1078.8,335.3 1078.8,338.0 1076.7,341.4 1077.6,344.0 1077.9,347.0 1077.6,350.1 1077.0,351.9 1077.2,353.6 1077.2,357.0 1076.9,358.8 1077.2,360.5 1076.9,362.2 1077.2,364.0 1077.1,365.8 1077.2,367.5 1077.2,370.9 1076.7,373.5 1079.3,375.3 1076.7,377.9 1081.9,380.1 1076.7,383.4 1081.0,385.7 1085.6,387.4 1080.2,389.2 1075.8,390.0 1077.9,393.5 1084.5,396.1 1099.3,398.7 1088.5,401.4 1095.3,403.8 1081.0,406.4 1094.1,409.0 1086.4,412.5 1088.5,414.8 1092.0,417.4 1140.1,420.5 1123.2,422.6 1111.1,425.5 1105.3,428.1 1100.1,430.7 1089.4,433.0 1091.1,436.1 1090.6,438.5 1077.6,440.5 1074.6,443.4 1072.9,446.5 1072.9,449.5 1073.2,451.7 1075.0,453.8 1081.9,456.4 1092.8,458.7 1082.8,461.1 1101.0,463.4 1089.4,466.3 1104.5,468.6 1094.9,471.2 1080.2,473.8 1078.8,475.5 1081.9,478.5 1123.2,481.2 1105.9,484.5 1099.3,487.3 1103.3,490.3 1101.9,493.8 1123.2,496.4 1111.1,499.5 1104.5,502.4 1107.1,505.4 1089.4,508.5 1075.8,511.6 1102.2,514.6 1104.5,516.7 1109.2,520.7 1083.6,522.8 1081.4,525.9 1094.1,528.5 1100.1,531.0 1086.4,533.6 1092.0,536.2 1110.2,538.4 1124.1,540.7 1117.2,543.6 1114.0,546.2 1113.2,549.2 1108.0,552.0 1093.2,554.1 1090.2,556.7 1103.3,560.1 1090.2,562.7 1084.9,565.9 1095.3,568.0 1108.0,571.1 1138.0,574.0 1176.5,576.6 1101.9,579.2 1113.2,581.8 1111.1,584.1 1103.3,586.7 1112.3,590.2 1111.9,591.9 1105.9,594.9 1106.4,596.6 1112.3,600.1 1127.0,601.8 1084.9,604.9 1093.2,608.2 1097.2,610.1 1084.9,613.1 1082.8,615.2" fill="none" stroke="#231F20" stroke-width="0.95" stroke-linejoin="round"/>
<g fill="#fff" stroke="#231F20" stroke-width="0.95">
<circle cx="1077.9" cy="60.3" r="1.85"/>
<circle cx="1079.3" cy="63.2" r="1.85"/>
<circle cx="1078.4" cy="65.8" r="1.85"/>
<circle cx="1077.9" cy="68.4" r="1.85"/>
<circle cx="1079.3" cy="71.0" r="1.85"/>
<circle cx="1078.8" cy="73.6" r="1.85"/>
<circle cx="1078.8" cy="76.2" r="1.85"/>
<circle cx="1078.8" cy="79.2" r="1.85"/>
<circle cx="1081.0" cy="83.2" r="1.85"/>
<circle cx="1080.2" cy="86.7" r="1.85"/>
<circle cx="1078.8" cy="89.8" r="1.85"/>
<circle cx="1077.9" cy="92.4" r="1.85"/>
<circle cx="1077.9" cy="95.3" r="1.85"/>
<circle cx="1078.8" cy="98.0" r="1.85"/>
<circle cx="1077.6" cy="100.6" r="1.85"/>
<circle cx="1077.9" cy="103.7" r="1.85"/>
<circle cx="1078.8" cy="106.6" r="1.85"/>
<circle cx="1080.2" cy="111.0" r="1.85"/>
<circle cx="1078.8" cy="115.3" r="1.85"/>
<circle cx="1079.7" cy="124.3" r="1.85"/>
<circle cx="1078.8" cy="128.3" r="1.85"/>
<circle cx="1078.8" cy="131.8" r="1.85"/>
<circle cx="1078.8" cy="136.1" r="1.85"/>
<circle cx="1078.8" cy="140.1" r="1.85"/>
<circle cx="1078.8" cy="144.5" r="1.85"/>
<circle cx="1078.8" cy="148.8" r="1.85"/>
<circle cx="1079.3" cy="152.6" r="1.85"/>
<circle cx="1080.2" cy="157.5" r="1.85"/>
<circle cx="1077.6" cy="161.0" r="1.85"/>
<circle cx="1077.9" cy="164.8" r="1.85"/>
<circle cx="1078.8" cy="165.9" r="1.85"/>
<circle cx="1078.8" cy="169.3" r="1.85"/>
<circle cx="1077.6" cy="172.8" r="1.85"/>
<circle cx="1077.6" cy="175.4" r="1.85"/>
<circle cx="1077.6" cy="178.5" r="1.85"/>
<circle cx="1077.6" cy="181.5" r="1.85"/>
<circle cx="1077.9" cy="184.4" r="1.85"/>
<circle cx="1081.0" cy="187.6" r="1.85"/>
<circle cx="1090.6" cy="190.7" r="1.85"/>
<circle cx="1079.7" cy="193.3" r="1.85"/>
<circle cx="1077.9" cy="196.2" r="1.85"/>
<circle cx="1078.4" cy="199.2" r="1.85"/>
<circle cx="1077.6" cy="201.8" r="1.85"/>
<circle cx="1078.4" cy="204.6" r="1.85"/>
<circle cx="1078.8" cy="207.5" r="1.85"/>
<circle cx="1078.8" cy="210.5" r="1.85"/>
<circle cx="1078.8" cy="213.1" r="1.85"/>
<circle cx="1077.9" cy="215.7" r="1.85"/>
<circle cx="1078.8" cy="218.3" r="1.85"/>
<circle cx="1077.6" cy="221.4" r="1.85"/>
<circle cx="1075.0" cy="225.8" r="1.85"/>
<circle cx="1077.9" cy="228.4" r="1.85"/>
<circle cx="1078.8" cy="231.0" r="1.85"/>
<circle cx="1078.8" cy="234.4" r="1.85"/>
<circle cx="1078.8" cy="237.4" r="1.85"/>
<circle cx="1079.3" cy="240.2" r="1.85"/>
<circle cx="1077.9" cy="243.1" r="1.85"/>
<circle cx="1078.8" cy="245.7" r="1.85"/>
<circle cx="1077.6" cy="248.3" r="1.85"/>
<circle cx="1077.9" cy="251.8" r="1.85"/>
<circle cx="1079.3" cy="254.9" r="1.85"/>
<circle cx="1078.4" cy="257.9" r="1.85"/>
<circle cx="1078.8" cy="261.7" r="1.85"/>
<circle cx="1077.9" cy="264.8" r="1.85"/>
<circle cx="1077.9" cy="268.3" r="1.85"/>
<circle cx="1077.9" cy="271.8" r="1.85"/>
<circle cx="1076.7" cy="274.9" r="1.85"/>
<circle cx="1077.9" cy="279.6" r="1.85"/>
<circle cx="1077.9" cy="283.1" r="1.85"/>
<circle cx="1078.4" cy="287.6" r="1.85"/>
<circle cx="1077.9" cy="291.9" r="1.85"/>
<circle cx="1079.3" cy="296.3" r="1.85"/>
<circle cx="1077.6" cy="300.6" r="1.85"/>
<circle cx="1077.9" cy="309.3" r="1.85"/>
<circle cx="1077.9" cy="311.9" r="1.85"/>
<circle cx="1078.4" cy="315.4" r="1.85"/>
<circle cx="1081.0" cy="318.9" r="1.85"/>
<circle cx="1077.9" cy="320.6" r="1.85"/>
<circle cx="1078.8" cy="322.3" r="1.85"/>
<circle cx="1079.3" cy="324.9" r="1.85"/>
<circle cx="1078.4" cy="327.5" r="1.85"/>
<circle cx="1078.8" cy="330.1" r="1.85"/>
<circle cx="1077.9" cy="332.7" r="1.85"/>
<circle cx="1078.8" cy="335.3" r="1.85"/>
<circle cx="1078.8" cy="338.0" r="1.85"/>
<circle cx="1076.7" cy="341.4" r="1.85"/>
<circle cx="1077.6" cy="344.0" r="1.85"/>
<circle cx="1077.9" cy="347.0" r="1.85"/>
<circle cx="1077.6" cy="350.1" r="1.85"/>
<circle cx="1077.0" cy="351.9" r="1.85"/>
<circle cx="1077.2" cy="353.6" r="1.85"/>
<circle cx="1077.2" cy="357.0" r="1.85"/>
<circle cx="1076.9" cy="358.8" r="1.85"/>
<circle cx="1077.2" cy="360.5" r="1.85"/>
<circle cx="1076.9" cy="362.2" r="1.85"/>
<circle cx="1077.2" cy="364.0" r="1.85"/>
<circle cx="1077.1" cy="365.8" r="1.85"/>
<circle cx="1077.2" cy="367.5" r="1.85"/>
<circle cx="1077.2" cy="370.9" r="1.85"/>
<circle cx="1076.7" cy="373.5" r="1.85"/>
<circle cx="1079.3" cy="375.3" r="1.85"/>
<circle cx="1076.7" cy="377.9" r="1.85"/>
<circle cx="1081.9" cy="380.1" r="1.85"/>
<circle cx="1076.7" cy="383.4" r="1.85"/>
<circle cx="1081.0" cy="385.7" r="1.85"/>
<circle cx="1085.6" cy="387.4" r="1.85"/>
<circle cx="1080.2" cy="389.2" r="1.85"/>
<circle cx="1075.8" cy="390.0" r="1.85"/>
<circle cx="1077.9" cy="393.5" r="1.85"/>
<circle cx="1084.5" cy="396.1" r="1.85"/>
<circle cx="1099.3" cy="398.7" r="1.85"/>
<circle cx="1088.5" cy="401.4" r="1.85"/>
<circle cx="1095.3" cy="403.8" r="1.85"/>
<circle cx="1081.0" cy="406.4" r="1.85"/>
<circle cx="1094.1" cy="409.0" r="1.85"/>
<circle cx="1086.4" cy="412.5" r="1.85"/>
<circle cx="1088.5" cy="414.8" r="1.85"/>
<circle cx="1092.0" cy="417.4" r="1.85"/>
<circle cx="1140.1" cy="420.5" r="1.85"/>
<circle cx="1123.2" cy="422.6" r="1.85"/>
<circle cx="1111.1" cy="425.5" r="1.85"/>
<circle cx="1105.3" cy="428.1" r="1.85"/>
<circle cx="1100.1" cy="430.7" r="1.85"/>
<circle cx="1089.4" cy="433.0" r="1.85"/>
<circle cx="1091.1" cy="436.1" r="1.85"/>
<circle cx="1090.6" cy="438.5" r="1.85"/>
<circle cx="1077.6" cy="440.5" r="1.85"/>
<circle cx="1074.6" cy="443.4" r="1.85"/>
<circle cx="1072.9" cy="446.5" r="1.85"/>
<circle cx="1072.9" cy="449.5" r="1.85"/>
<circle cx="1073.2" cy="451.7" r="1.85"/>
<circle cx="1075.0" cy="453.8" r="1.85"/>
<circle cx="1081.9" cy="456.4" r="1.85"/>
<circle cx="1092.8" cy="458.7" r="1.85"/>
<circle cx="1082.8" cy="461.1" r="1.85"/>
<circle cx="1101.0" cy="463.4" r="1.85"/>
<circle cx="1089.4" cy="466.3" r="1.85"/>
<circle cx="1104.5" cy="468.6" r="1.85"/>
<circle cx="1094.9" cy="471.2" r="1.85"/>
<circle cx="1080.2" cy="473.8" r="1.85"/>
<circle cx="1078.8" cy="475.5" r="1.85"/>
<circle cx="1081.9" cy="478.5" r="1.85"/>
<circle cx="1123.2" cy="481.2" r="1.85"/>
<circle cx="1105.9" cy="484.5" r="1.85"/>
<circle cx="1099.3" cy="487.3" r="1.85"/>
<circle cx="1103.3" cy="490.3" r="1.85"/>
<circle cx="1101.9" cy="493.8" r="1.85"/>
<circle cx="1123.2" cy="496.4" r="1.85"/>
<circle cx="1111.1" cy="499.5" r="1.85"/>
<circle cx="1104.5" cy="502.4" r="1.85"/>
<circle cx="1107.1" cy="505.4" r="1.85"/>
<circle cx="1089.4" cy="508.5" r="1.85"/>
<circle cx="1075.8" cy="511.6" r="1.85"/>
<circle cx="1102.2" cy="514.6" r="1.85"/>
<circle cx="1104.5" cy="516.7" r="1.85"/>
<circle cx="1109.2" cy="520.7" r="1.85"/>
<circle cx="1083.6" cy="522.8" r="1.85"/>
<circle cx="1081.4" cy="525.9" r="1.85"/>
<circle cx="1094.1" cy="528.5" r="1.85"/>
<circle cx="1100.1" cy="531.0" r="1.85"/>
<circle cx="1086.4" cy="533.6" r="1.85"/>
<circle cx="1092.0" cy="536.2" r="1.85"/>
<circle cx="1110.2" cy="538.4" r="1.85"/>
<circle cx="1124.1" cy="540.7" r="1.85"/>
<circle cx="1117.2" cy="543.6" r="1.85"/>
<circle cx="1114.0" cy="546.2" r="1.85"/>
<circle cx="1113.2" cy="549.2" r="1.85"/>
<circle cx="1108.0" cy="552.0" r="1.85"/>
<circle cx="1093.2" cy="554.1" r="1.85"/>
<circle cx="1090.2" cy="556.7" r="1.85"/>
<circle cx="1103.3" cy="560.1" r="1.85"/>
<circle cx="1090.2" cy="562.7" r="1.85"/>
<circle cx="1084.9" cy="565.9" r="1.85"/>
<circle cx="1095.3" cy="568.0" r="1.85"/>
<circle cx="1108.0" cy="571.1" r="1.85"/>
<circle cx="1138.0" cy="574.0" r="1.85"/>
<circle cx="1176.5" cy="576.6" r="1.85"/>
<circle cx="1101.9" cy="579.2" r="1.85"/>
<circle cx="1113.2" cy="581.8" r="1.85"/>
<circle cx="1111.1" cy="584.1" r="1.85"/>
<circle cx="1103.3" cy="586.7" r="1.85"/>
<circle cx="1112.3" cy="590.2" r="1.85"/>
<circle cx="1111.9" cy="591.9" r="1.85"/>
<circle cx="1105.9" cy="594.9" r="1.85"/>
<circle cx="1106.4" cy="596.6" r="1.85"/>
<circle cx="1112.3" cy="600.1" r="1.85"/>
<circle cx="1127.0" cy="601.8" r="1.85"/>
<circle cx="1084.9" cy="604.9" r="1.85"/>
<circle cx="1093.2" cy="608.2" r="1.85"/>
<circle cx="1097.2" cy="610.1" r="1.85"/>
<circle cx="1084.9" cy="613.1" r="1.85"/>
<circle cx="1082.8" cy="615.2" r="1.85"/>
</g>
<polyline points="1208.2,60.3 1209.1,63.2 1210.0,66.7 1211.4,69.8 1212.6,72.8 1213.4,75.9 1210.5,78.3 1211.4,81.5 1212.2,84.4 1214.7,87.0 1210.5,90.1 1209.1,92.7 1208.2,95.3 1211.4,98.0 1210.5,101.4 1208.2,104.0 1210.5,107.8 1213.4,111.8 1211.4,115.8 1213.4,124.9 1210.8,128.7 1210.5,132.7 1211.4,137.0 1211.4,141.4 1211.4,145.3 1210.5,149.2 1210.8,153.5 1212.2,157.8 1212.2,162.2 1210.5,166.4 1213.4,170.2 1208.2,174.9 1209.1,178.0 1209.6,180.6 1210.5,183.2 1211.7,186.2 1214.3,188.4 1219.9,190.7 1211.4,193.3 1210.5,196.2 1209.1,199.7 1209.6,202.3 1210.5,204.9 1211.4,207.5 1209.6,210.5 1210.5,213.1 1208.2,215.7 1210.5,218.0 1208.2,221.4 1208.2,224.0 1208.2,227.2 1208.2,230.1 1208.2,233.1 1209.1,236.2 1210.5,238.8 1208.2,244.0 1210.5,245.7 1208.2,248.3 1209.1,250.9 1209.6,253.5 1209.1,257.0 1209.6,259.6 1210.5,261.9 1209.1,264.8 1209.1,267.4 1209.1,270.4 1208.2,272.6 1209.1,275.2 1209.1,279.6 1209.1,283.1 1209.1,285.9 1212.2,288.1 1209.6,291.1 1210.5,293.7 1208.2,296.3 1209.6,298.9 1208.2,302.0 1210.5,311.0 1210.5,313.6 1209.6,316.8 1210.5,319.7 1209.6,322.3 1210.5,324.9 1211.4,327.2 1209.6,329.6 1210.5,331.9 1209.3,333.6 1208.8,335.3 1210.5,337.1 1210.5,339.7 1209.6,342.3 1209.6,344.9 1209.6,347.5 1209.6,350.1 1210.3,351.9 1210.5,353.6 1210.5,356.2 1209.6,358.8 1211.4,360.9 1213.4,364.0 1210.8,366.6 1209.6,369.7 1210.8,372.7 1208.2,374.8 1216.0,377.9 1220.6,380.5 1214.3,383.6 1209.6,386.2 1236.9,386.6 1219.9,389.7 1210.8,390.4 1208.8,393.5 1223.0,396.5 1212.2,398.7 1211.4,401.7 1210.5,405.2 1210.5,408.7 1213.4,412.5 1219.5,415.3 1227.0,417.0 1223.9,420.5 1214.3,422.9 1212.9,426.4 1225.2,427.8 1223.0,430.9 1229.1,433.9 1209.1,435.9 1216.0,439.1 1209.1,440.8 1207.0,444.3 1207.4,446.9 1207.9,449.5 1208.2,452.1 1207.4,454.2 1216.0,456.4 1210.8,459.0 1209.1,461.6 1219.9,463.4 1210.5,466.3 1220.9,468.6 1216.9,471.2 1216.9,475.0 1239.8,476.0 1228.2,479.5 1218.3,482.1 1229.1,485.1 1236.0,488.2 1244.7,490.8 1228.2,494.1 1315.9,496.9 1264.7,499.8 1249.5,502.8 1285.1,505.6 1213.4,508.9 1208.2,512.0 1213.8,514.9 1216.0,517.6 1210.5,520.7 1216.0,523.7 1211.4,526.8 1213.8,528.9 1215.5,531.8 1210.8,533.6 1220.9,536.7 1210.5,538.4 1234.8,541.6 1228.2,543.6 1211.4,546.6 1243.0,549.4 1252.8,552.0 1223.5,554.4 1210.5,557.2 1214.3,560.1 1230.8,563.1 1228.2,566.2 1229.1,569.2 1224.4,571.8 1265.5,574.0 1230.8,576.6 1282.0,578.9 1243.8,581.5 1212.2,584.8 1223.0,586.7 1219.0,590.0 1226.1,592.6 1252.8,594.5 1219.0,597.8 1224.4,600.4 1216.0,602.7 1220.9,605.3 1262.6,607.4 1233.9,610.1 1231.1,613.4 1219.9,615.3" fill="none" stroke="#231F20" stroke-width="0.95" stroke-linejoin="round"/>
<g fill="#fff" stroke="#231F20" stroke-width="0.95">
<circle cx="1208.2" cy="60.3" r="1.85"/>
<circle cx="1209.1" cy="63.2" r="1.85"/>
<circle cx="1210.0" cy="66.7" r="1.85"/>
<circle cx="1211.4" cy="69.8" r="1.85"/>
<circle cx="1212.6" cy="72.8" r="1.85"/>
<circle cx="1213.4" cy="75.9" r="1.85"/>
<circle cx="1210.5" cy="78.3" r="1.85"/>
<circle cx="1211.4" cy="81.5" r="1.85"/>
<circle cx="1212.2" cy="84.4" r="1.85"/>
<circle cx="1214.7" cy="87.0" r="1.85"/>
<circle cx="1210.5" cy="90.1" r="1.85"/>
<circle cx="1209.1" cy="92.7" r="1.85"/>
<circle cx="1208.2" cy="95.3" r="1.85"/>
<circle cx="1211.4" cy="98.0" r="1.85"/>
<circle cx="1210.5" cy="101.4" r="1.85"/>
<circle cx="1208.2" cy="104.0" r="1.85"/>
<circle cx="1210.5" cy="107.8" r="1.85"/>
<circle cx="1213.4" cy="111.8" r="1.85"/>
<circle cx="1211.4" cy="115.8" r="1.85"/>
<circle cx="1213.4" cy="124.9" r="1.85"/>
<circle cx="1210.8" cy="128.7" r="1.85"/>
<circle cx="1210.5" cy="132.7" r="1.85"/>
<circle cx="1211.4" cy="137.0" r="1.85"/>
<circle cx="1211.4" cy="141.4" r="1.85"/>
<circle cx="1211.4" cy="145.3" r="1.85"/>
<circle cx="1210.5" cy="149.2" r="1.85"/>
<circle cx="1210.8" cy="153.5" r="1.85"/>
<circle cx="1212.2" cy="157.8" r="1.85"/>
<circle cx="1212.2" cy="162.2" r="1.85"/>
<circle cx="1210.5" cy="166.4" r="1.85"/>
<circle cx="1213.4" cy="170.2" r="1.85"/>
<circle cx="1208.2" cy="174.9" r="1.85"/>
<circle cx="1209.1" cy="178.0" r="1.85"/>
<circle cx="1209.6" cy="180.6" r="1.85"/>
<circle cx="1210.5" cy="183.2" r="1.85"/>
<circle cx="1211.7" cy="186.2" r="1.85"/>
<circle cx="1214.3" cy="188.4" r="1.85"/>
<circle cx="1219.9" cy="190.7" r="1.85"/>
<circle cx="1211.4" cy="193.3" r="1.85"/>
<circle cx="1210.5" cy="196.2" r="1.85"/>
<circle cx="1209.1" cy="199.7" r="1.85"/>
<circle cx="1209.6" cy="202.3" r="1.85"/>
<circle cx="1210.5" cy="204.9" r="1.85"/>
<circle cx="1211.4" cy="207.5" r="1.85"/>
<circle cx="1209.6" cy="210.5" r="1.85"/>
<circle cx="1210.5" cy="213.1" r="1.85"/>
<circle cx="1208.2" cy="215.7" r="1.85"/>
<circle cx="1210.5" cy="218.0" r="1.85"/>
<circle cx="1208.2" cy="221.4" r="1.85"/>
<circle cx="1208.2" cy="224.0" r="1.85"/>
<circle cx="1208.2" cy="227.2" r="1.85"/>
<circle cx="1208.2" cy="230.1" r="1.85"/>
<circle cx="1208.2" cy="233.1" r="1.85"/>
<circle cx="1209.1" cy="236.2" r="1.85"/>
<circle cx="1210.5" cy="238.8" r="1.85"/>
<circle cx="1208.2" cy="244.0" r="1.85"/>
<circle cx="1210.5" cy="245.7" r="1.85"/>
<circle cx="1208.2" cy="248.3" r="1.85"/>
<circle cx="1209.1" cy="250.9" r="1.85"/>
<circle cx="1209.6" cy="253.5" r="1.85"/>
<circle cx="1209.1" cy="257.0" r="1.85"/>
<circle cx="1209.6" cy="259.6" r="1.85"/>
<circle cx="1210.5" cy="261.9" r="1.85"/>
<circle cx="1209.1" cy="264.8" r="1.85"/>
<circle cx="1209.1" cy="267.4" r="1.85"/>
<circle cx="1209.1" cy="270.4" r="1.85"/>
<circle cx="1208.2" cy="272.6" r="1.85"/>
<circle cx="1209.1" cy="275.2" r="1.85"/>
<circle cx="1209.1" cy="279.6" r="1.85"/>
<circle cx="1209.1" cy="283.1" r="1.85"/>
<circle cx="1209.1" cy="285.9" r="1.85"/>
<circle cx="1212.2" cy="288.1" r="1.85"/>
<circle cx="1209.6" cy="291.1" r="1.85"/>
<circle cx="1210.5" cy="293.7" r="1.85"/>
<circle cx="1208.2" cy="296.3" r="1.85"/>
<circle cx="1209.6" cy="298.9" r="1.85"/>
<circle cx="1208.2" cy="302.0" r="1.85"/>
<circle cx="1210.5" cy="311.0" r="1.85"/>
<circle cx="1210.5" cy="313.6" r="1.85"/>
<circle cx="1209.6" cy="316.8" r="1.85"/>
<circle cx="1210.5" cy="319.7" r="1.85"/>
<circle cx="1209.6" cy="322.3" r="1.85"/>
<circle cx="1210.5" cy="324.9" r="1.85"/>
<circle cx="1211.4" cy="327.2" r="1.85"/>
<circle cx="1209.6" cy="329.6" r="1.85"/>
<circle cx="1210.5" cy="331.9" r="1.85"/>
<circle cx="1209.3" cy="333.6" r="1.85"/>
<circle cx="1208.8" cy="335.3" r="1.85"/>
<circle cx="1210.5" cy="337.1" r="1.85"/>
<circle cx="1210.5" cy="339.7" r="1.85"/>
<circle cx="1209.6" cy="342.3" r="1.85"/>
<circle cx="1209.6" cy="344.9" r="1.85"/>
<circle cx="1209.6" cy="347.5" r="1.85"/>
<circle cx="1209.6" cy="350.1" r="1.85"/>
<circle cx="1210.3" cy="351.9" r="1.85"/>
<circle cx="1210.5" cy="353.6" r="1.85"/>
<circle cx="1210.5" cy="356.2" r="1.85"/>
<circle cx="1209.6" cy="358.8" r="1.85"/>
<circle cx="1211.4" cy="360.9" r="1.85"/>
<circle cx="1213.4" cy="364.0" r="1.85"/>
<circle cx="1210.8" cy="366.6" r="1.85"/>
<circle cx="1209.6" cy="369.7" r="1.85"/>
<circle cx="1210.8" cy="372.7" r="1.85"/>
<circle cx="1208.2" cy="374.8" r="1.85"/>
<circle cx="1216.0" cy="377.9" r="1.85"/>
<circle cx="1220.6" cy="380.5" r="1.85"/>
<circle cx="1214.3" cy="383.6" r="1.85"/>
<circle cx="1209.6" cy="386.2" r="1.85"/>
<circle cx="1236.9" cy="386.6" r="1.85"/>
<circle cx="1219.9" cy="389.7" r="1.85"/>
<circle cx="1210.8" cy="390.4" r="1.85"/>
<circle cx="1208.8" cy="393.5" r="1.85"/>
<circle cx="1223.0" cy="396.5" r="1.85"/>
<circle cx="1212.2" cy="398.7" r="1.85"/>
<circle cx="1211.4" cy="401.7" r="1.85"/>
<circle cx="1210.5" cy="405.2" r="1.85"/>
<circle cx="1210.5" cy="408.7" r="1.85"/>
<circle cx="1213.4" cy="412.5" r="1.85"/>
<circle cx="1219.5" cy="415.3" r="1.85"/>
<circle cx="1227.0" cy="417.0" r="1.85"/>
<circle cx="1223.9" cy="420.5" r="1.85"/>
<circle cx="1214.3" cy="422.9" r="1.85"/>
<circle cx="1212.9" cy="426.4" r="1.85"/>
<circle cx="1225.2" cy="427.8" r="1.85"/>
<circle cx="1223.0" cy="430.9" r="1.85"/>
<circle cx="1229.1" cy="433.9" r="1.85"/>
<circle cx="1209.1" cy="435.9" r="1.85"/>
<circle cx="1216.0" cy="439.1" r="1.85"/>
<circle cx="1209.1" cy="440.8" r="1.85"/>
<circle cx="1207.0" cy="444.3" r="1.85"/>
<circle cx="1207.4" cy="446.9" r="1.85"/>
<circle cx="1207.9" cy="449.5" r="1.85"/>
<circle cx="1208.2" cy="452.1" r="1.85"/>
<circle cx="1207.4" cy="454.2" r="1.85"/>
<circle cx="1216.0" cy="456.4" r="1.85"/>
<circle cx="1210.8" cy="459.0" r="1.85"/>
<circle cx="1209.1" cy="461.6" r="1.85"/>
<circle cx="1219.9" cy="463.4" r="1.85"/>
<circle cx="1210.5" cy="466.3" r="1.85"/>
<circle cx="1220.9" cy="468.6" r="1.85"/>
<circle cx="1216.9" cy="471.2" r="1.85"/>
<circle cx="1216.9" cy="475.0" r="1.85"/>
<circle cx="1239.8" cy="476.0" r="1.85"/>
<circle cx="1228.2" cy="479.5" r="1.85"/>
<circle cx="1218.3" cy="482.1" r="1.85"/>
<circle cx="1229.1" cy="485.1" r="1.85"/>
<circle cx="1236.0" cy="488.2" r="1.85"/>
<circle cx="1244.7" cy="490.8" r="1.85"/>
<circle cx="1228.2" cy="494.1" r="1.85"/>
<circle cx="1315.9" cy="496.9" r="1.85"/>
<circle cx="1264.7" cy="499.8" r="1.85"/>
<circle cx="1249.5" cy="502.8" r="1.85"/>
<circle cx="1285.1" cy="505.6" r="1.85"/>
<circle cx="1213.4" cy="508.9" r="1.85"/>
<circle cx="1208.2" cy="512.0" r="1.85"/>
<circle cx="1213.8" cy="514.9" r="1.85"/>
<circle cx="1216.0" cy="517.6" r="1.85"/>
<circle cx="1210.5" cy="520.7" r="1.85"/>
<circle cx="1216.0" cy="523.7" r="1.85"/>
<circle cx="1211.4" cy="526.8" r="1.85"/>
<circle cx="1213.8" cy="528.9" r="1.85"/>
<circle cx="1215.5" cy="531.8" r="1.85"/>
<circle cx="1210.8" cy="533.6" r="1.85"/>
<circle cx="1220.9" cy="536.7" r="1.85"/>
<circle cx="1210.5" cy="538.4" r="1.85"/>
<circle cx="1234.8" cy="541.6" r="1.85"/>
<circle cx="1228.2" cy="543.6" r="1.85"/>
<circle cx="1211.4" cy="546.6" r="1.85"/>
<circle cx="1243.0" cy="549.4" r="1.85"/>
<circle cx="1252.8" cy="552.0" r="1.85"/>
<circle cx="1223.5" cy="554.4" r="1.85"/>
<circle cx="1210.5" cy="557.2" r="1.85"/>
<circle cx="1214.3" cy="560.1" r="1.85"/>
<circle cx="1230.8" cy="563.1" r="1.85"/>
<circle cx="1228.2" cy="566.2" r="1.85"/>
<circle cx="1229.1" cy="569.2" r="1.85"/>
<circle cx="1224.4" cy="571.8" r="1.85"/>
<circle cx="1265.5" cy="574.0" r="1.85"/>
<circle cx="1230.8" cy="576.6" r="1.85"/>
<circle cx="1282.0" cy="578.9" r="1.85"/>
<circle cx="1243.8" cy="581.5" r="1.85"/>
<circle cx="1212.2" cy="584.8" r="1.85"/>
<circle cx="1223.0" cy="586.7" r="1.85"/>
<circle cx="1219.0" cy="590.0" r="1.85"/>
<circle cx="1226.1" cy="592.6" r="1.85"/>
<circle cx="1252.8" cy="594.5" r="1.85"/>
<circle cx="1219.0" cy="597.8" r="1.85"/>
<circle cx="1224.4" cy="600.4" r="1.85"/>
<circle cx="1216.0" cy="602.7" r="1.85"/>
<circle cx="1220.9" cy="605.3" r="1.85"/>
<circle cx="1262.6" cy="607.4" r="1.85"/>
<circle cx="1233.9" cy="610.1" r="1.85"/>
<circle cx="1231.1" cy="613.4" r="1.85"/>
<circle cx="1219.9" cy="615.3" r="1.85"/>
</g>
<rect x="451.6" y="441.8" width="272.0" height="25.7" fill="url(#dots)"/>
<rect x="451.6" y="583.2" width="243.3" height="10.3" fill="url(#dots2)"/>
<line x1="451.6" y1="440" x2="451.6" y2="470" stroke="#231F20" stroke-width="0.9"/>
<line x1="451.6" y1="582" x2="451.6" y2="595" stroke="#231F20" stroke-width="0.9"/>
<line x1="616.6" y1="440" x2="616.6" y2="470" stroke="#231F20" stroke-width="0.9"/>
<line x1="616.6" y1="582" x2="616.6" y2="595" stroke="#231F20" stroke-width="0.9"/>
<line x1="66.5" y1="305.9" x2="145.0" y2="305.9" stroke="#EE4136" stroke-width="3.8"/>
<line x1="177.3" y1="305.9" x2="328.5" y2="305.9" stroke="#EE4136" stroke-width="3.8"/>
<line x1="422.8" y1="305.9" x2="1089.4" y2="305.9" stroke="#EE4136" stroke-width="3.8"/>
<line x1="1200.0" y1="305.9" x2="1258.9" y2="305.9" stroke="#EE4136" stroke-width="3.8"/>
<line x1="1291.0" y1="305.9" x2="1321.5" y2="305.9" stroke="#EE4136" stroke-width="3.8"/>
<text x="528.4" y="18.2" font-size="22.1" font-weight="normal" font-style="normal" text-anchor="start" fill="#231F20" textLength="333.2" lengthAdjust="spacingAndGlyphs">Lung Cam, Vietnam: Geochemistry 1</text>
<text x="625.9" y="39.5" font-size="17.3" font-weight="normal" font-style="normal" text-anchor="start" fill="#231F20" textLength="52.8" lengthAdjust="spacingAndGlyphs">warmer</text>
<text x="729.3" y="39.5" font-size="17.3" font-weight="normal" font-style="normal" text-anchor="start" fill="#231F20" textLength="43.2" lengthAdjust="spacingAndGlyphs">colder</text>
<line x1="688" y1="36" x2="718" y2="36" stroke="#231F20" stroke-width="1.7"/>
<path d="M680.7 36 L692 31.7 L692 40.3 Z M725.5 36 L714.2 31.7 L714.2 40.3 Z" fill="#231F20"/>
<text x="56.6" y="55.5" font-size="13.6" font-weight="bold" font-style="normal" text-anchor="end" fill="#231F20">21.5</text>
<text x="56.6" y="81.8" font-size="13.6" font-weight="bold" font-style="normal" text-anchor="end" fill="#231F20">20.5</text>
<text x="56.6" y="108.0" font-size="13.6" font-weight="bold" font-style="normal" text-anchor="end" fill="#231F20">19.5</text>
<text x="56.6" y="134.3" font-size="13.6" font-weight="bold" font-style="normal" text-anchor="end" fill="#231F20">18.5</text>
<text x="56.6" y="160.6" font-size="13.6" font-weight="bold" font-style="normal" text-anchor="end" fill="#231F20">17.5</text>
<text x="56.6" y="186.8" font-size="13.6" font-weight="bold" font-style="normal" text-anchor="end" fill="#231F20">16.5</text>
<text x="56.6" y="213.1" font-size="13.6" font-weight="bold" font-style="normal" text-anchor="end" fill="#231F20">15.5</text>
<text x="56.6" y="239.3" font-size="13.6" font-weight="bold" font-style="normal" text-anchor="end" fill="#231F20">14.5</text>
<text x="56.6" y="265.6" font-size="13.6" font-weight="bold" font-style="normal" text-anchor="end" fill="#231F20">13.5</text>
<text x="56.6" y="291.8" font-size="13.6" font-weight="bold" font-style="normal" text-anchor="end" fill="#231F20">12.5</text>
<text x="56.6" y="318.1" font-size="13.6" font-weight="bold" font-style="normal" text-anchor="end" fill="#231F20">11.5</text>
<text x="56.6" y="344.3" font-size="13.6" font-weight="bold" font-style="normal" text-anchor="end" fill="#231F20">10.5</text>
<text x="56.6" y="370.6" font-size="13.6" font-weight="bold" font-style="normal" text-anchor="end" fill="#231F20">9.5</text>
<text x="56.6" y="396.8" font-size="13.6" font-weight="bold" font-style="normal" text-anchor="end" fill="#231F20">8.5</text>
<text x="56.6" y="423.1" font-size="13.6" font-weight="bold" font-style="normal" text-anchor="end" fill="#231F20">7.5</text>
<text x="56.6" y="449.3" font-size="13.6" font-weight="bold" font-style="normal" text-anchor="end" fill="#231F20">6.5</text>
<text x="56.6" y="475.6" font-size="13.6" font-weight="bold" font-style="normal" text-anchor="end" fill="#231F20">5.5</text>
<text x="56.6" y="501.8" font-size="13.6" font-weight="bold" font-style="normal" text-anchor="end" fill="#231F20">4.5</text>
<text x="56.6" y="528.0" font-size="13.6" font-weight="bold" font-style="normal" text-anchor="end" fill="#231F20">3.5</text>
<text x="56.6" y="554.3" font-size="13.6" font-weight="bold" font-style="normal" text-anchor="end" fill="#231F20">2.5</text>
<text x="56.6" y="580.5" font-size="13.6" font-weight="bold" font-style="normal" text-anchor="end" fill="#231F20">1.5</text>
<text x="56.6" y="606.8" font-size="13.6" font-weight="bold" font-style="normal" text-anchor="end" fill="#231F20">0.5</text>
<text transform="translate(15.3,326.2) rotate(-90)" font-size="18" font-weight="bold" text-anchor="middle" fill="#231F20" textLength="83.7" lengthAdjust="spacingAndGlyphs">Height (m)</text>
<text x="40" y="633.4" font-size="13.5" font-weight="bold" font-style="normal" text-anchor="start" fill="#231F20" textLength="52" lengthAdjust="spacingAndGlyphs">(2.0E-09)</text>
<text x="118.4" y="633.4" font-size="13.5" font-weight="bold" font-style="normal" text-anchor="start" fill="#231F20" textLength="45.5" lengthAdjust="spacingAndGlyphs">3.8E-08</text>
<text x="81.1" y="648.2" font-size="13.5" font-weight="bold" font-style="normal" text-anchor="start" fill="#231F20" textLength="44.6" lengthAdjust="spacingAndGlyphs">1.8E-08</text>
<text x="156.4" y="646.6" font-size="13.5" font-weight="bold" font-style="normal" text-anchor="start" fill="#231F20" textLength="45" lengthAdjust="spacingAndGlyphs">5.8E-08</text>
<text y="673" font-size="18" font-weight="bold" fill="#231F20"><tspan x="85" font-weight="normal" font-size="19">χ</tspan><tspan x="100">(m</tspan><tspan font-size="12.5" dy="-7">3</tspan><tspan dy="7">/kg)</tspan></text>
<text x="188.2" y="43.8" font-size="11.2" font-weight="bold" font-style="normal" text-anchor="start" fill="#231F20" textLength="11.6" lengthAdjust="spacingAndGlyphs">P1</text>
<text x="203.0" y="41.6" font-size="11.5" font-weight="normal" font-style="normal" text-anchor="start" fill="#231F20" textLength="5.8" lengthAdjust="spacingAndGlyphs">χ</text>
<text x="185.2" y="54.6" font-size="11.2" font-weight="bold" font-style="normal" text-anchor="start" fill="#231F20" textLength="26" lengthAdjust="spacingAndGlyphs">zones</text>
<text x="235.4" y="39.8" font-size="11.5" font-weight="bold" font-style="normal" text-anchor="start" fill="#231F20" textLength="19.8" lengthAdjust="spacingAndGlyphs">Lith</text>
<text x="263.5" y="39.8" font-size="11.5" font-weight="bold" font-style="normal" text-anchor="start" fill="#231F20" textLength="19.8" lengthAdjust="spacingAndGlyphs">Key</text>
<text x="235.4" y="50.8" font-size="11.5" font-weight="bold" font-style="normal" text-anchor="start" fill="#231F20" textLength="19.8" lengthAdjust="spacingAndGlyphs">Log</text>
<text x="260.4" y="50.8" font-size="11.5" font-weight="bold" font-style="normal" text-anchor="start" fill="#231F20" textLength="24" lengthAdjust="spacingAndGlyphs">Beds</text>
<text x="265.6" y="62.7" font-size="10.6" font-weight="bold" font-style="normal" text-anchor="start" fill="#231F20" textLength="17.7" lengthAdjust="spacingAndGlyphs">+96</text>
<text x="264.6" y="236.3" font-size="10.6" font-weight="bold" font-style="normal" text-anchor="start" fill="#231F20" textLength="18.4" lengthAdjust="spacingAndGlyphs">+70</text>
<text x="265.6" y="291.5" font-size="10.6" font-weight="bold" font-style="normal" text-anchor="start" fill="#231F20" textLength="17.7" lengthAdjust="spacingAndGlyphs">+49</text>
<text x="265.6" y="327.1" font-size="10.6" font-weight="bold" font-style="normal" text-anchor="start" fill="#231F20" textLength="17.7" lengthAdjust="spacingAndGlyphs">+28</text>
<text x="265.6" y="377.0" font-size="10.6" font-weight="bold" font-style="normal" text-anchor="start" fill="#231F20" textLength="17.7" lengthAdjust="spacingAndGlyphs">+13</text>
<text x="265.6" y="383.4" font-size="10.6" font-weight="bold" font-style="normal" text-anchor="start" fill="#231F20" textLength="17.7" lengthAdjust="spacingAndGlyphs">+11</text>
<text x="265.6" y="391.9" font-size="10.6" font-weight="bold" font-style="normal" text-anchor="start" fill="#231F20" textLength="17.7" lengthAdjust="spacingAndGlyphs">+10</text>
<text x="266.7" y="404.8" font-size="10.6" font-weight="bold" font-style="normal" text-anchor="start" fill="#231F20" textLength="11.9" lengthAdjust="spacingAndGlyphs">+5</text>
<text x="266.7" y="415.8" font-size="10.6" font-weight="bold" font-style="normal" text-anchor="start" fill="#231F20" textLength="11.9" lengthAdjust="spacingAndGlyphs">+4</text>
<text x="267.7" y="443.8" font-size="10.6" font-weight="bold" font-style="normal" text-anchor="start" fill="#231F20" textLength="10.8" lengthAdjust="spacingAndGlyphs">−2</text>
<text x="266.0" y="452.0" font-size="10.6" font-weight="bold" font-style="normal" text-anchor="start" fill="#231F20" textLength="11.5" lengthAdjust="spacingAndGlyphs">−4</text>
<text x="265.6" y="465.6" font-size="10.6" font-weight="bold" font-style="normal" text-anchor="start" fill="#231F20" textLength="11" lengthAdjust="spacingAndGlyphs">−8</text>
<text x="265.6" y="514.2" font-size="10.6" font-weight="bold" font-style="normal" text-anchor="start" fill="#231F20" textLength="17.3" lengthAdjust="spacingAndGlyphs">−18</text>
<text x="265.6" y="544.2" font-size="10.6" font-weight="bold" font-style="normal" text-anchor="start" fill="#231F20" textLength="17.3" lengthAdjust="spacingAndGlyphs">−22</text>
<text x="265.0" y="618.3" font-size="10.6" font-weight="bold" font-style="normal" text-anchor="start" fill="#231F20" textLength="14.2" lengthAdjust="spacingAndGlyphs">-35</text>
<text transform="translate(227.3,163.2) rotate(-90)" font-size="14.6" font-weight="bold" text-anchor="middle" fill="#231F20" textLength="58" lengthAdjust="spacingAndGlyphs">ash beds</text>
<line x1="228.1" y1="196" x2="228.1" y2="208" stroke="#231F20" stroke-width="1.4"/>
<path d="M224.6 206.3 L231.7 206.3 L228.1 215.6 Z" fill="#231F20"/>
<text x="148.5" y="308.5" font-size="11.7" font-weight="bold" font-style="normal" text-anchor="start" fill="#231F20" textLength="24.3" lengthAdjust="spacingAndGlyphs">PTB</text>
<text x="148.5" y="374.5" font-size="9.3" font-weight="bold" font-style="normal" text-anchor="start" fill="#231F20" textLength="30.9" lengthAdjust="spacingAndGlyphs">Bed 14</text>
<text x="83.4" y="485.7" font-size="14" font-weight="bold" font-style="normal" text-anchor="start" fill="#231F20" textLength="75.6" lengthAdjust="spacingAndGlyphs">Onset major</text>
<text x="83.4" y="499.6" font-size="14" font-weight="bold" font-style="normal" text-anchor="start" fill="#231F20" textLength="60.2" lengthAdjust="spacingAndGlyphs">volcanism</text>
<text x="374.5" y="234.4" font-size="14.3" font-weight="bold" font-style="normal" text-anchor="start" fill="#231F20" textLength="48.3" lengthAdjust="spacingAndGlyphs">Bed +70</text>
<text x="330.3" y="310.7" font-size="12.6" font-weight="bold" font-style="normal" text-anchor="start" fill="#231F20" textLength="85.6" lengthAdjust="spacingAndGlyphs">Bed +36/37 GC</text>
<text x="334.3" y="351.8" font-size="14.3" font-weight="bold" font-style="normal" text-anchor="start" fill="#231F20" textLength="88.5" lengthAdjust="spacingAndGlyphs">Black Carbon</text>
<text x="412.4" y="372.3" font-size="14.3" font-weight="bold" font-style="normal" text-anchor="start" fill="#231F20" textLength="47.5" lengthAdjust="spacingAndGlyphs">Bed +14</text>
<text x="333.4" y="390.6" font-size="14.3" font-weight="bold" font-style="normal" text-anchor="start" fill="#231F20" textLength="105.6" lengthAdjust="spacingAndGlyphs">Beds +10 and +11</text>
<text x="309.6" y="454.5" font-size="14.3" font-weight="bold" font-style="normal" text-anchor="start" fill="#231F20" textLength="41.2" lengthAdjust="spacingAndGlyphs">Bed −4</text>
<text x="719.9" y="234.6" font-size="14" font-weight="bold" font-style="normal" text-anchor="start" fill="#231F20" textLength="50.5" lengthAdjust="spacingAndGlyphs">anomaly</text>
<text x="705.7" y="390.6" font-size="14" font-weight="bold" font-style="normal" text-anchor="start" fill="#231F20" textLength="49.5" lengthAdjust="spacingAndGlyphs">anomaly</text>
<text x="708.3" y="533.2" font-size="14" font-weight="bold" font-style="normal" text-anchor="start" fill="#231F20" textLength="49.5" lengthAdjust="spacingAndGlyphs">anomaly</text>
<text x="841.4" y="452.3" font-size="14" font-weight="bold" font-style="normal" text-anchor="start" fill="#231F20" textLength="51.2" lengthAdjust="spacingAndGlyphs">anomaly</text>
<text x="806.7" y="298.2" font-size="31" font-weight="normal" font-style="normal" text-anchor="start" fill="#231F20" textLength="99.8" lengthAdjust="spacingAndGlyphs">Triassic</text>
<text x="806.7" y="335.9" font-size="31" font-weight="normal" font-style="normal" text-anchor="start" fill="#231F20" textLength="105.9" lengthAdjust="spacingAndGlyphs">Permian</text>
<text x="828.4" y="379.8" font-size="16.8" font-weight="bold" font-style="normal" text-anchor="start" fill="#231F20" textLength="91.1" lengthAdjust="spacingAndGlyphs">ash Bed +13</text>
<text x="1110.6" y="66.7" font-size="14.3" font-weight="bold" font-style="italic" text-anchor="start" fill="#231F20" textLength="54.6" lengthAdjust="spacingAndGlyphs">ash bed ?</text>
<text x="1114.0" y="104.9" font-size="14.3" font-weight="bold" font-style="italic" text-anchor="start" fill="#231F20" textLength="60.8" lengthAdjust="spacingAndGlyphs">ash beds ?</text>
<text x="1109.7" y="178.5" font-size="14.3" font-weight="bold" font-style="italic" text-anchor="start" fill="#231F20" textLength="55.5" lengthAdjust="spacingAndGlyphs">ash bed ?</text>
<text x="1101.0" y="233.6" font-size="13.6" font-weight="bold" font-style="normal" text-anchor="start" fill="#231F20" textLength="73.8" lengthAdjust="spacingAndGlyphs">ash Bed +70</text>
<text x="1104.8" y="279.6" font-size="14.3" font-weight="bold" font-style="italic" text-anchor="start" fill="#231F20" textLength="55.6" lengthAdjust="spacingAndGlyphs">ash bed ?</text>
<text x="1099.3" y="310.7" font-size="12.6" font-weight="bold" font-style="normal" text-anchor="start" fill="#231F20" textLength="94.6" lengthAdjust="spacingAndGlyphs">Bed +36/+37 GC</text>
<text x="1098.4" y="351.0" font-size="14.3" font-weight="bold" font-style="normal" text-anchor="start" fill="#231F20" textLength="88.6" lengthAdjust="spacingAndGlyphs">Black Carbon</text>
<text x="1094.6" y="389.7" font-size="14.3" font-weight="bold" font-style="normal" text-anchor="start" fill="#231F20" textLength="96.7" lengthAdjust="spacingAndGlyphs">extinction levels</text>
<text x="1125.3" y="453.5" font-size="14.3" font-weight="bold" font-style="normal" text-anchor="start" fill="#231F20" textLength="62.5" lengthAdjust="spacingAndGlyphs">ash Bed -4</text>
<text x="1120.6" y="519.3" font-size="14.3" font-weight="bold" font-style="normal" text-anchor="start" fill="#231F20" textLength="68.9" lengthAdjust="spacingAndGlyphs">ash Bed -18</text>
<text x="1262.0" y="308.4" font-size="11.7" font-weight="bold" font-style="normal" text-anchor="start" fill="#231F20" textLength="25.2" lengthAdjust="spacingAndGlyphs">PTB</text>
<text x="296.2" y="636.6" font-size="13" font-weight="bold" font-style="normal" text-anchor="middle" fill="#231F20">0</text>
<text x="363.5" y="636.6" font-size="13" font-weight="bold" font-style="normal" text-anchor="middle" fill="#231F20">50</text>
<text x="430.0" y="636.6" font-size="13" font-weight="bold" font-style="normal" text-anchor="middle" fill="#231F20">100</text>
<text x="451.7" y="634.8" font-size="13" font-weight="bold" font-style="normal" text-anchor="middle" fill="#231F20">−4</text>
<text x="471.5" y="634.8" font-size="13" font-weight="bold" font-style="normal" text-anchor="middle" fill="#231F20">−3</text>
<text x="491.9" y="634.8" font-size="13" font-weight="bold" font-style="normal" text-anchor="middle" fill="#231F20">−2</text>
<text x="510.5" y="634.8" font-size="13" font-weight="bold" font-style="normal" text-anchor="middle" fill="#231F20">−1</text>
<text x="528.6" y="634.8" font-size="13" font-weight="bold" font-style="normal" text-anchor="middle" fill="#231F20">0</text>
<text x="548.5" y="634.8" font-size="13" font-weight="bold" font-style="normal" text-anchor="middle" fill="#231F20">1</text>
<text x="567.7" y="634.8" font-size="13" font-weight="bold" font-style="normal" text-anchor="middle" fill="#231F20">2</text>
<text x="586.5" y="634.8" font-size="13" font-weight="bold" font-style="normal" text-anchor="middle" fill="#231F20">3</text>
<text x="632.2" y="634.6" font-size="13" font-weight="bold" font-style="normal" text-anchor="middle" fill="#231F20">−12</text>
<text x="664.0" y="634.6" font-size="13" font-weight="bold" font-style="normal" text-anchor="middle" fill="#231F20">−10</text>
<text x="694.3" y="634.6" font-size="13" font-weight="bold" font-style="normal" text-anchor="middle" fill="#231F20">−8</text>
<text x="724.5" y="634.6" font-size="13" font-weight="bold" font-style="normal" text-anchor="middle" fill="#231F20">−6</text>
<text x="754.8" y="634.6" font-size="13" font-weight="bold" font-style="normal" text-anchor="middle" fill="#231F20">−4</text>
<text x="775.0" y="634.8" font-size="13.4" font-weight="bold" font-style="normal" text-anchor="middle" fill="#231F20">0.0</text>
<text x="841.8" y="634.8" font-size="13.4" font-weight="bold" font-style="normal" text-anchor="middle" fill="#231F20">0.5</text>
<text x="908.3" y="634.8" font-size="13.4" font-weight="bold" font-style="normal" text-anchor="middle" fill="#231F20">1.0</text>
<text x="935.5" y="632.6" font-size="12.6" font-weight="bold" font-style="normal" text-anchor="middle" fill="#231F20">0.0</text>
<text x="990.0" y="632.6" font-size="12.6" font-weight="bold" font-style="normal" text-anchor="middle" fill="#231F20">0.4</text>
<text x="1044.2" y="632.6" font-size="12.6" font-weight="bold" font-style="normal" text-anchor="middle" fill="#231F20">0.8</text>
<text x="1071.7" y="633.7" font-size="12.6" font-weight="bold" font-style="normal" text-anchor="middle" fill="#231F20">0</text>
<text x="1127.0" y="633.7" font-size="12.6" font-weight="bold" font-style="normal" text-anchor="middle" fill="#231F20">11</text>
<text x="1180.8" y="633.7" font-size="12.6" font-weight="bold" font-style="normal" text-anchor="middle" fill="#231F20">22</text>
<text x="1206.8" y="633.7" font-size="12.6" font-weight="bold" font-style="normal" text-anchor="middle" fill="#231F20">0</text>
<text x="1264.6" y="633.7" font-size="12.6" font-weight="bold" font-style="normal" text-anchor="middle" fill="#231F20">16</text>
<text x="1321.8" y="633.7" font-size="12.6" font-weight="bold" font-style="normal" text-anchor="middle" fill="#231F20">32</text>
<text y="660.7" font-size="18" font-weight="bold" fill="#231F20"><tspan x="335.2">SiO</tspan><tspan font-size="12.5" dy="5.5">2</tspan><tspan x="375.4" dy="-5.5" font-weight="normal" font-style="italic" textLength="28" lengthAdjust="spacingAndGlyphs">(%)</tspan></text>
<text y="659.1" font-size="17.5" font-weight="bold" fill="#231F20"><tspan x="501.7" font-weight="normal" font-size="19">δ</tspan><tspan x="509.9" font-size="13.2" dy="-5.6">13</tspan><tspan x="524.2" dy="5.6">C</tspan><tspan x="539.6" font-weight="normal" font-style="italic" font-size="17" textLength="17.2" lengthAdjust="spacingAndGlyphs">‰</tspan></text>
<text y="659.1" font-size="17.5" font-weight="bold" fill="#231F20"><tspan x="661.4" font-weight="normal" font-size="19">δ</tspan><tspan x="669.6" font-size="13.2" dy="-5.6">18</tspan><tspan x="684.2" dy="5.6">O</tspan><tspan x="699.3" font-weight="normal" font-style="italic" font-size="17" textLength="17.8" lengthAdjust="spacingAndGlyphs">‰</tspan></text>
<text x="825.9" y="654.1" font-size="17.6" font-weight="bold" font-style="normal" text-anchor="start" fill="#231F20" textLength="43.3" lengthAdjust="spacingAndGlyphs">Rb/Sr</text>
<text x="968.2" y="655.0" font-size="17.6" font-weight="bold" font-style="normal" text-anchor="start" fill="#231F20" textLength="46.1" lengthAdjust="spacingAndGlyphs">Mo/Al</text>
<text x="1109.4" y="654.1" font-size="17.6" font-weight="bold" font-style="normal" text-anchor="start" fill="#231F20" textLength="34.1" lengthAdjust="spacingAndGlyphs">V/Al</text>
<text x="1246.3" y="655.0" font-size="17.6" font-weight="bold" font-style="normal" text-anchor="start" fill="#231F20" textLength="38.2" lengthAdjust="spacingAndGlyphs">U/Th</text>
<rect x="1080.3" y="674.3" width="227.5" height="60" fill="#fff" stroke="#231F20" stroke-width="1"/>
<rect x="1088.1" y="684.1" width="44.8" height="12.4" fill="#231F20"/>
<rect x="1100.95" y="687.05" width="1.9" height="1.9" fill="#fff"/>
<rect x="1115.05" y="687.05" width="1.9" height="1.9" fill="#fff"/>
<rect x="1128.85" y="687.05" width="1.9" height="1.9" fill="#fff"/>
<rect x="1093.95" y="690.25" width="1.9" height="1.9" fill="#fff"/>
<rect x="1107.95" y="690.25" width="1.9" height="1.9" fill="#fff"/>
<rect x="1122.05" y="690.25" width="1.9" height="1.9" fill="#fff"/>
<rect x="1100.95" y="693.85" width="1.9" height="1.9" fill="#fff"/>
<rect x="1115.05" y="693.85" width="1.9" height="1.9" fill="#fff"/>
<rect x="1128.85" y="693.85" width="1.9" height="1.9" fill="#fff"/>
<rect x="1087.9" y="702.0" width="46.4" height="9.9" fill="#FDD487" stroke="#5b4c38" stroke-width="0.9"/>
<text x="1143.5" y="693.0" font-size="17.6" font-weight="normal" font-style="normal" text-anchor="start" fill="#231F20" textLength="138.8" lengthAdjust="spacingAndGlyphs">anomalous isotopes</text>
<text x="1143.5" y="711.0" font-size="17.6" font-weight="normal" font-style="normal" text-anchor="start" fill="#231F20" textLength="153.7" lengthAdjust="spacingAndGlyphs">ash bed geochemistry</text>
</svg>
</body></html>
